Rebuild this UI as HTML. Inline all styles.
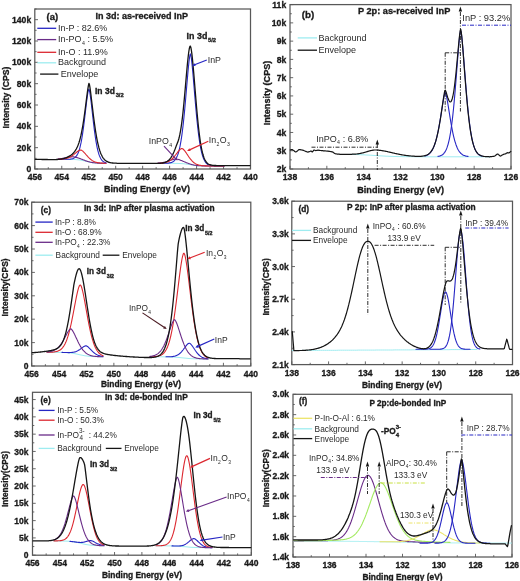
<!DOCTYPE html>
<html><head><meta charset="utf-8"><style>html,body{margin:0;padding:0;background:#fff;}svg{display:block;filter:blur(0.35px);}text{font-family:"Liberation Sans",sans-serif;}</style></head>
<body><svg width="520" height="581" viewBox="0 0 520 581" font-family='"Liberation Sans", sans-serif'><rect width="100%" height="100%" fill="#fff"/>
<rect x="34.80" y="9.00" width="215.70" height="160.00" fill="none" stroke="#585858" stroke-width="1.25"/>
<line x1="34.80" y1="169.00" x2="34.80" y2="165.80" stroke="#585858" stroke-width="0.9" />
<text x="34.80" y="180.30" font-size="8.6" font-weight="bold" text-anchor="middle" fill="#1a1a1a"  stroke="#1a1a1a" stroke-width="0.32">456</text>
<line x1="48.28" y1="169.00" x2="48.28" y2="167.20" stroke="#585858" stroke-width="0.9" />
<line x1="61.76" y1="169.00" x2="61.76" y2="165.80" stroke="#585858" stroke-width="0.9" />
<text x="61.76" y="180.30" font-size="8.6" font-weight="bold" text-anchor="middle" fill="#1a1a1a"  stroke="#1a1a1a" stroke-width="0.32">454</text>
<line x1="75.24" y1="169.00" x2="75.24" y2="167.20" stroke="#585858" stroke-width="0.9" />
<line x1="88.72" y1="169.00" x2="88.72" y2="165.80" stroke="#585858" stroke-width="0.9" />
<text x="88.72" y="180.30" font-size="8.6" font-weight="bold" text-anchor="middle" fill="#1a1a1a"  stroke="#1a1a1a" stroke-width="0.32">452</text>
<line x1="102.21" y1="169.00" x2="102.21" y2="167.20" stroke="#585858" stroke-width="0.9" />
<line x1="115.69" y1="169.00" x2="115.69" y2="165.80" stroke="#585858" stroke-width="0.9" />
<text x="115.69" y="180.30" font-size="8.6" font-weight="bold" text-anchor="middle" fill="#1a1a1a"  stroke="#1a1a1a" stroke-width="0.32">450</text>
<line x1="129.17" y1="169.00" x2="129.17" y2="167.20" stroke="#585858" stroke-width="0.9" />
<line x1="142.65" y1="169.00" x2="142.65" y2="165.80" stroke="#585858" stroke-width="0.9" />
<text x="142.65" y="180.30" font-size="8.6" font-weight="bold" text-anchor="middle" fill="#1a1a1a"  stroke="#1a1a1a" stroke-width="0.32">448</text>
<line x1="156.13" y1="169.00" x2="156.13" y2="167.20" stroke="#585858" stroke-width="0.9" />
<line x1="169.61" y1="169.00" x2="169.61" y2="165.80" stroke="#585858" stroke-width="0.9" />
<text x="169.61" y="180.30" font-size="8.6" font-weight="bold" text-anchor="middle" fill="#1a1a1a"  stroke="#1a1a1a" stroke-width="0.32">446</text>
<line x1="183.09" y1="169.00" x2="183.09" y2="167.20" stroke="#585858" stroke-width="0.9" />
<line x1="196.57" y1="169.00" x2="196.57" y2="165.80" stroke="#585858" stroke-width="0.9" />
<text x="196.57" y="180.30" font-size="8.6" font-weight="bold" text-anchor="middle" fill="#1a1a1a"  stroke="#1a1a1a" stroke-width="0.32">444</text>
<line x1="210.06" y1="169.00" x2="210.06" y2="167.20" stroke="#585858" stroke-width="0.9" />
<line x1="223.54" y1="169.00" x2="223.54" y2="165.80" stroke="#585858" stroke-width="0.9" />
<text x="223.54" y="180.30" font-size="8.6" font-weight="bold" text-anchor="middle" fill="#1a1a1a"  stroke="#1a1a1a" stroke-width="0.32">442</text>
<line x1="237.02" y1="169.00" x2="237.02" y2="167.20" stroke="#585858" stroke-width="0.9" />
<line x1="250.50" y1="169.00" x2="250.50" y2="165.80" stroke="#585858" stroke-width="0.9" />
<text x="250.50" y="180.30" font-size="8.6" font-weight="bold" text-anchor="middle" fill="#1a1a1a"  stroke="#1a1a1a" stroke-width="0.32">440</text>
<line x1="34.80" y1="169.00" x2="38.00" y2="169.00" stroke="#585858" stroke-width="0.9" />
<line x1="34.80" y1="158.33" x2="36.60" y2="158.33" stroke="#585858" stroke-width="0.9" />
<line x1="34.80" y1="147.67" x2="38.00" y2="147.67" stroke="#585858" stroke-width="0.9" />
<line x1="34.80" y1="137.00" x2="36.60" y2="137.00" stroke="#585858" stroke-width="0.9" />
<line x1="34.80" y1="126.33" x2="38.00" y2="126.33" stroke="#585858" stroke-width="0.9" />
<line x1="34.80" y1="115.67" x2="36.60" y2="115.67" stroke="#585858" stroke-width="0.9" />
<line x1="34.80" y1="105.00" x2="38.00" y2="105.00" stroke="#585858" stroke-width="0.9" />
<line x1="34.80" y1="94.33" x2="36.60" y2="94.33" stroke="#585858" stroke-width="0.9" />
<line x1="34.80" y1="83.67" x2="38.00" y2="83.67" stroke="#585858" stroke-width="0.9" />
<line x1="34.80" y1="73.00" x2="36.60" y2="73.00" stroke="#585858" stroke-width="0.9" />
<line x1="34.80" y1="62.33" x2="38.00" y2="62.33" stroke="#585858" stroke-width="0.9" />
<line x1="34.80" y1="51.67" x2="36.60" y2="51.67" stroke="#585858" stroke-width="0.9" />
<line x1="34.80" y1="41.00" x2="38.00" y2="41.00" stroke="#585858" stroke-width="0.9" />
<line x1="34.80" y1="30.33" x2="36.60" y2="30.33" stroke="#585858" stroke-width="0.9" />
<line x1="34.80" y1="19.67" x2="38.00" y2="19.67" stroke="#585858" stroke-width="0.9" />
<line x1="34.80" y1="9.00" x2="36.60" y2="9.00" stroke="#585858" stroke-width="0.9" />
<text x="31.20" y="172.10" font-size="8.6" font-weight="bold" text-anchor="end" fill="#1a1a1a"  stroke="#1a1a1a" stroke-width="0.32">0</text>
<text x="31.20" y="150.76" font-size="8.6" font-weight="bold" text-anchor="end" fill="#1a1a1a"  stroke="#1a1a1a" stroke-width="0.32">20k</text>
<text x="31.20" y="129.43" font-size="8.6" font-weight="bold" text-anchor="end" fill="#1a1a1a"  stroke="#1a1a1a" stroke-width="0.32">40k</text>
<text x="31.20" y="108.10" font-size="8.6" font-weight="bold" text-anchor="end" fill="#1a1a1a"  stroke="#1a1a1a" stroke-width="0.32">60k</text>
<text x="31.20" y="86.76" font-size="8.6" font-weight="bold" text-anchor="end" fill="#1a1a1a"  stroke="#1a1a1a" stroke-width="0.32">80k</text>
<text x="31.20" y="65.43" font-size="8.6" font-weight="bold" text-anchor="end" fill="#1a1a1a"  stroke="#1a1a1a" stroke-width="0.32">100k</text>
<text x="31.20" y="44.10" font-size="8.6" font-weight="bold" text-anchor="end" fill="#1a1a1a"  stroke="#1a1a1a" stroke-width="0.32">120k</text>
<text x="31.20" y="22.76" font-size="8.6" font-weight="bold" text-anchor="end" fill="#1a1a1a"  stroke="#1a1a1a" stroke-width="0.32">140k</text>
<polyline points="58.0,159.3 59.0,159.3 60.0,159.3 61.0,159.3 62.0,159.3 63.0,159.3 64.0,159.3 65.0,159.3 66.0,159.3 67.0,159.3 68.0,159.3 69.0,159.4 70.0,159.4 71.0,159.4 72.0,159.4 73.0,159.4 74.0,159.5 75.0,159.5 76.0,159.6 77.0,159.7 78.0,159.8 79.0,159.9 80.0,160.0 81.0,160.2 82.0,160.4 83.0,160.6 84.0,160.8 85.0,161.1 86.0,161.3 87.0,161.5 88.0,161.8 89.0,162.0 90.0,162.2 91.0,162.4 92.0,162.6 93.0,162.7 94.0,162.8 95.0,162.9 96.0,163.0 97.0,163.1 98.0,163.1 99.0,163.2 100.0,163.2 101.0,163.2 102.0,163.2 103.0,163.2 104.0,163.3 105.0,163.3 106.0,163.3" fill="none" stroke="#9eecf0" stroke-width="1.0" stroke-linejoin="round" stroke-linecap="round" /><polyline points="158.0,163.3 159.0,163.3 160.0,163.3 161.0,163.3 162.0,163.3 163.0,163.3 164.0,163.3 165.0,163.3 166.0,163.3 167.0,163.3 168.0,163.3 169.0,163.3 170.0,163.3 171.0,163.3 172.0,163.3 173.0,163.3 174.0,163.3 175.0,163.4 176.0,163.4 177.0,163.4 178.0,163.4 179.0,163.5 180.0,163.5 181.0,163.6 182.0,163.6 183.0,163.7 184.0,163.8 185.0,163.9 186.0,164.0 187.0,164.2 188.0,164.3 189.0,164.5 190.0,164.6 191.0,164.8 192.0,165.0 193.0,165.1 194.0,165.3 195.0,165.4 196.0,165.5 197.0,165.6 198.0,165.7 199.0,165.7 200.0,165.8 201.0,165.8 202.0,165.9 203.0,165.9 204.0,165.9 205.0,165.9 206.0,166.0 207.0,166.0 208.0,166.0 209.0,166.0 210.0,166.0 211.0,166.0 212.0,166.0 213.0,166.0 214.0,166.0 215.0,166.0 216.0,166.0 217.0,166.0 218.0,166.0 219.0,166.0 220.0,166.0 221.0,166.0 222.0,166.0 223.0,166.0 224.0,166.0" fill="none" stroke="#9eecf0" stroke-width="1.0" stroke-linejoin="round" stroke-linecap="round" />
<polyline points="58.0,159.3 58.5,159.3 59.0,159.3 59.5,159.3 60.0,159.3 60.5,159.3 61.0,159.3 61.5,159.3 62.0,159.3 62.5,159.3 63.0,159.3 63.5,159.3 64.0,159.3 64.5,159.3 65.0,159.3 65.5,159.3 66.0,159.3 66.5,159.3 67.0,159.3 67.5,159.3 68.0,159.3 68.5,159.2 69.0,159.2 69.5,159.2 70.0,159.2 70.5,159.1 71.0,159.0 71.5,159.0 72.0,158.9 72.5,158.7 73.0,158.6 73.5,158.4 74.0,158.1 74.5,157.8 75.0,157.5 75.5,157.0 76.0,156.5 76.5,155.9 77.0,155.1 77.5,154.3 78.0,153.2 78.5,152.0 79.0,150.7 79.5,149.1 80.0,147.3 80.5,145.2 81.0,142.9 81.5,140.3 82.0,137.5 82.5,134.4 83.0,131.0 83.5,127.4 84.0,123.5 84.5,119.4 85.0,115.2 85.5,111.0 86.0,106.7 86.5,102.5 87.0,98.6 87.5,95.0 88.0,92.0 88.5,89.8 89.0,89.1 89.5,90.8 90.0,93.6 90.5,97.1 91.0,101.0 91.5,105.3 92.0,109.7 92.5,114.2 93.0,118.6 93.5,123.0 94.0,127.1 94.5,131.1 95.0,134.8 95.5,138.2 96.0,141.3 96.5,144.2 97.0,146.8 97.5,149.1 98.0,151.1 98.5,152.9 99.0,154.5 99.5,155.9 100.0,157.1 100.5,158.1 101.0,159.0 101.5,159.7 102.0,160.4 102.5,160.9 103.0,161.3 103.5,161.7 104.0,162.0 104.5,162.3 105.0,162.5 105.5,162.6 106.0,162.8" fill="none" stroke="#2626c4" stroke-width="1.1" stroke-linejoin="round" stroke-linecap="round" /><polyline points="158.0,163.3 158.5,163.3 159.0,163.3 159.5,163.3 160.0,163.3 160.5,163.3 161.0,163.3 161.5,163.3 162.0,163.3 162.5,163.3 163.0,163.3 163.5,163.3 164.0,163.3 164.5,163.3 165.0,163.3 165.5,163.2 166.0,163.2 166.5,163.2 167.0,163.2 167.5,163.2 168.0,163.1 168.5,163.1 169.0,163.0 169.5,162.9 170.0,162.9 170.5,162.8 171.0,162.6 171.5,162.5 172.0,162.3 172.5,162.0 173.0,161.8 173.5,161.4 174.0,161.0 174.5,160.6 175.0,160.0 175.5,159.3 176.0,158.6 176.5,157.7 177.0,156.6 177.5,155.4 178.0,154.1 178.5,152.5 179.0,150.7 179.5,148.6 180.0,146.3 180.5,143.7 181.0,140.9 181.5,137.7 182.0,134.1 182.5,130.3 183.0,126.1 183.5,121.6 184.0,116.7 184.5,111.6 185.0,106.2 185.5,100.5 186.0,94.7 186.5,88.8 187.0,82.9 187.5,77.1 188.0,71.5 188.5,66.2 189.0,61.5 189.5,57.6 190.0,54.8 190.5,53.9 191.0,56.0 191.5,59.4 192.0,63.9 192.5,69.0 193.0,74.5 193.5,80.4 194.0,86.4 194.5,92.5 195.0,98.5 195.5,104.3 196.0,110.0 196.5,115.4 197.0,120.5 197.5,125.3 198.0,129.8 198.5,133.9 199.0,137.7 199.5,141.2 200.0,144.3 200.5,147.1 201.0,149.6 201.5,151.9 202.0,153.8 202.5,155.6 203.0,157.1 203.5,158.5 204.0,159.6 204.5,160.6 205.0,161.5 205.5,162.2 206.0,162.8 206.5,163.4 207.0,163.8 207.5,164.2 208.0,164.5 208.5,164.8 209.0,165.0 209.5,165.2 210.0,165.3 210.5,165.5 211.0,165.6 211.5,165.6 212.0,165.7 212.5,165.8 213.0,165.8 213.5,165.9 214.0,165.9 214.5,165.9 215.0,165.9 215.5,165.9 216.0,166.0 216.5,166.0 217.0,166.0 217.5,166.0 218.0,166.0 218.5,166.0 219.0,166.0 219.5,166.0 220.0,166.0 220.5,166.0 221.0,166.0 221.5,166.0 222.0,166.0 222.5,166.0 223.0,166.0 223.5,166.0 224.0,166.0" fill="none" stroke="#2626c4" stroke-width="1.1" stroke-linejoin="round" stroke-linecap="round" />
<polyline points="58.0,159.0 58.5,158.9 59.0,158.9 59.5,158.8 60.0,158.8 60.5,158.7 61.0,158.6 61.5,158.6 62.0,158.5 62.5,158.4 63.0,158.3 63.5,158.2 64.0,158.1 64.5,158.0 65.0,157.9 65.5,157.8 66.0,157.7 66.5,157.6 67.0,157.5 67.5,157.4 68.0,157.3 68.5,157.2 69.0,157.2 69.5,157.1 70.0,157.0 70.5,156.9 71.0,156.9 71.5,156.9 72.0,156.8 72.5,156.8 73.0,156.9 73.5,156.9 74.0,157.0 74.5,157.0 75.0,157.1 75.5,157.2 76.0,157.4 76.5,157.5 77.0,157.6 77.5,157.8 78.0,157.9 78.5,158.1 79.0,158.3 79.5,158.4 80.0,158.6 80.5,158.8 81.0,159.0 81.5,159.2 82.0,159.3 82.5,159.5 83.0,159.7 83.5,159.9 84.0,160.1 84.5,160.3 85.0,160.5 85.5,160.7 86.0,160.9 86.5,161.0 87.0,161.2 87.5,161.4 88.0,161.5 88.5,161.7 89.0,161.8 89.5,161.9 90.0,162.1 90.5,162.2 91.0,162.3 91.5,162.4 92.0,162.5 92.5,162.6 93.0,162.6 93.5,162.7 94.0,162.8 94.5,162.8 95.0,162.9 95.5,162.9 96.0,163.0 96.5,163.0 97.0,163.0 97.5,163.1 98.0,163.1 98.5,163.1 99.0,163.1 99.5,163.2 100.0,163.2 100.5,163.2 101.0,163.2 101.5,163.2 102.0,163.2 102.5,163.2 103.0,163.2 103.5,163.2 104.0,163.3 104.5,163.3 105.0,163.3 105.5,163.3 106.0,163.3" fill="none" stroke="#6a2c88" stroke-width="1.1" stroke-linejoin="round" stroke-linecap="round" /><polyline points="158.0,163.1 158.5,163.0 159.0,163.0 159.5,163.0 160.0,162.9 160.5,162.9 161.0,162.8 161.5,162.7 162.0,162.7 162.5,162.6 163.0,162.5 163.5,162.4 164.0,162.3 164.5,162.2 165.0,162.0 165.5,161.9 166.0,161.8 166.5,161.6 167.0,161.5 167.5,161.3 168.0,161.2 168.5,161.0 169.0,160.8 169.5,160.6 170.0,160.5 170.5,160.3 171.0,160.1 171.5,160.0 172.0,159.8 172.5,159.7 173.0,159.5 173.5,159.4 174.0,159.3 174.5,159.2 175.0,159.1 175.5,159.1 176.0,159.1 176.5,159.1 177.0,159.2 177.5,159.3 178.0,159.4 178.5,159.5 179.0,159.6 179.5,159.8 180.0,160.0 180.5,160.2 181.0,160.4 181.5,160.6 182.0,160.8 182.5,161.0 183.0,161.2 183.5,161.4 184.0,161.6 184.5,161.9 185.0,162.1 185.5,162.3 186.0,162.5 186.5,162.7 187.0,162.9 187.5,163.1 188.0,163.3 188.5,163.5 189.0,163.7 189.5,163.8 190.0,164.0 190.5,164.2 191.0,164.3 191.5,164.5 192.0,164.6 192.5,164.7 193.0,164.8 193.5,165.0 194.0,165.1 194.5,165.2 195.0,165.2 195.5,165.3 196.0,165.4 196.5,165.5 197.0,165.5 197.5,165.6 198.0,165.6 198.5,165.7 199.0,165.7 199.5,165.7 200.0,165.8 200.5,165.8 201.0,165.8 201.5,165.8 202.0,165.9 202.5,165.9 203.0,165.9 203.5,165.9 204.0,165.9 204.5,165.9 205.0,165.9 205.5,165.9 206.0,165.9 206.5,166.0 207.0,166.0 207.5,166.0 208.0,166.0 208.5,166.0 209.0,166.0 209.5,166.0 210.0,166.0 210.5,166.0 211.0,166.0 211.5,166.0 212.0,166.0 212.5,166.0 213.0,166.0 213.5,166.0 214.0,166.0 214.5,166.0 215.0,166.0 215.5,166.0 216.0,166.0 216.5,166.0 217.0,166.0 217.5,166.0 218.0,166.0 218.5,166.0 219.0,166.0 219.5,166.0 220.0,166.0 220.5,166.0 221.0,166.0 221.5,166.0 222.0,166.0 222.5,166.0 223.0,166.0 223.5,166.0 224.0,166.0" fill="none" stroke="#6a2c88" stroke-width="1.1" stroke-linejoin="round" stroke-linecap="round" />
<polyline points="58.0,159.2 58.5,159.2 59.0,159.2 59.5,159.2 60.0,159.2 60.5,159.2 61.0,159.1 61.5,159.1 62.0,159.1 62.5,159.0 63.0,159.0 63.5,158.9 64.0,158.9 64.5,158.8 65.0,158.7 65.5,158.6 66.0,158.5 66.5,158.4 67.0,158.2 67.5,158.1 68.0,157.9 68.5,157.7 69.0,157.5 69.5,157.3 70.0,157.1 70.5,156.8 71.0,156.5 71.5,156.2 72.0,155.9 72.5,155.5 73.0,155.1 73.5,154.8 74.0,154.4 74.5,153.9 75.0,153.5 75.5,153.1 76.0,152.7 76.5,152.3 77.0,151.9 77.5,151.5 78.0,151.1 78.5,150.8 79.0,150.5 79.5,150.3 80.0,150.1 80.5,150.1 81.0,150.1 81.5,150.3 82.0,150.6 82.5,150.9 83.0,151.3 83.5,151.8 84.0,152.3 84.5,152.9 85.0,153.4 85.5,154.0 86.0,154.6 86.5,155.1 87.0,155.7 87.5,156.3 88.0,156.8 88.5,157.4 89.0,157.9 89.5,158.3 90.0,158.8 90.5,159.2 91.0,159.6 91.5,160.0 92.0,160.4 92.5,160.7 93.0,161.0 93.5,161.2 94.0,161.5 94.5,161.7 95.0,161.9 95.5,162.1 96.0,162.2 96.5,162.4 97.0,162.5 97.5,162.6 98.0,162.7 98.5,162.8 99.0,162.8 99.5,162.9 100.0,163.0 100.5,163.0 101.0,163.1 101.5,163.1 102.0,163.1 102.5,163.1 103.0,163.2 103.5,163.2 104.0,163.2 104.5,163.2 105.0,163.2 105.5,163.2 106.0,163.3" fill="none" stroke="#dc2830" stroke-width="1.1" stroke-linejoin="round" stroke-linecap="round" /><polyline points="158.0,163.2 158.5,163.2 159.0,163.2 159.5,163.2 160.0,163.2 160.5,163.2 161.0,163.1 161.5,163.1 162.0,163.1 162.5,163.0 163.0,162.9 163.5,162.9 164.0,162.8 164.5,162.7 165.0,162.6 165.5,162.5 166.0,162.4 166.5,162.2 167.0,162.1 167.5,161.9 168.0,161.7 168.5,161.4 169.0,161.2 169.5,160.9 170.0,160.6 170.5,160.2 171.0,159.9 171.5,159.4 172.0,159.0 172.5,158.5 173.0,158.0 173.5,157.5 174.0,156.9 174.5,156.3 175.0,155.7 175.5,155.0 176.0,154.4 176.5,153.7 177.0,153.1 177.5,152.4 178.0,151.7 178.5,151.1 179.0,150.5 179.5,150.0 180.0,149.5 180.5,149.1 181.0,148.8 181.5,148.6 182.0,148.5 182.5,148.7 183.0,149.0 183.5,149.5 184.0,150.0 184.5,150.6 185.0,151.2 185.5,151.9 186.0,152.6 186.5,153.3 187.0,154.1 187.5,154.8 188.0,155.6 188.5,156.3 189.0,157.1 189.5,157.8 190.0,158.4 190.5,159.1 191.0,159.7 191.5,160.3 192.0,160.8 192.5,161.3 193.0,161.8 193.5,162.3 194.0,162.7 194.5,163.0 195.0,163.4 195.5,163.7 196.0,164.0 196.5,164.2 197.0,164.4 197.5,164.6 198.0,164.8 198.5,165.0 199.0,165.1 199.5,165.2 200.0,165.3 200.5,165.4 201.0,165.5 201.5,165.6 202.0,165.6 202.5,165.7 203.0,165.7 203.5,165.8 204.0,165.8 204.5,165.8 205.0,165.9 205.5,165.9 206.0,165.9 206.5,165.9 207.0,165.9 207.5,165.9 208.0,165.9 208.5,166.0 209.0,166.0 209.5,166.0 210.0,166.0 210.5,166.0 211.0,166.0 211.5,166.0 212.0,166.0 212.5,166.0 213.0,166.0 213.5,166.0 214.0,166.0 214.5,166.0 215.0,166.0 215.5,166.0 216.0,166.0 216.5,166.0 217.0,166.0 217.5,166.0 218.0,166.0 218.5,166.0 219.0,166.0 219.5,166.0 220.0,166.0 220.5,166.0 221.0,166.0 221.5,166.0 222.0,166.0 222.5,166.0 223.0,166.0 223.5,166.0 224.0,166.0" fill="none" stroke="#dc2830" stroke-width="1.1" stroke-linejoin="round" stroke-linecap="round" />
<polyline points="35.4,159.4 35.9,159.4 36.4,159.4 36.9,159.4 37.4,159.4 37.9,159.4 38.4,159.4 38.9,159.4 39.4,159.4 39.9,159.4 40.4,159.4 40.9,159.4 41.4,159.4 41.9,159.5 42.4,159.5 42.9,159.5 43.4,159.5 43.9,159.5 44.4,159.5 44.9,159.5 45.4,159.5 45.9,159.5 46.4,159.5 46.9,159.5 47.4,159.5 47.9,159.6 48.4,159.6 48.9,159.6 49.4,159.6 49.9,159.6 50.4,159.6 50.9,159.6 51.4,159.6 51.9,159.6 52.4,159.6 52.9,159.6 53.4,159.6 53.9,159.6 54.4,159.6 54.9,159.6 55.4,159.6 55.9,159.6 56.4,159.5 56.9,159.5 57.4,159.5 57.9,159.4 58.4,159.4 58.9,159.4 59.4,159.3 59.9,159.2 60.4,159.2 60.9,159.1 61.4,159.0 61.9,158.9 62.4,158.8 62.9,158.7 63.4,158.6 63.9,158.4 64.4,158.3 64.9,158.1 65.4,158.0 65.9,157.8 66.4,157.6 66.9,157.4 67.4,157.2 67.9,156.9 68.4,156.7 68.9,156.4 69.4,156.1 69.9,155.8 70.4,155.5 70.9,155.2 71.4,154.8 71.9,154.4 72.4,154.0 72.9,153.5 73.4,153.0 73.9,152.4 74.4,151.8 74.9,151.2 75.4,150.4 75.9,149.7 76.4,148.8 76.9,147.8 77.4,146.8 77.9,145.6 78.4,144.3 78.9,142.9 79.4,141.3 79.9,139.5 80.4,137.6 80.9,135.5 81.4,133.1 81.9,130.6 82.4,127.9 82.9,125.0 83.4,121.8 83.9,118.5 84.4,115.0 84.9,111.3 85.4,107.5 85.9,103.6 86.4,99.7 86.9,95.8 87.4,92.1 87.9,88.6 88.4,85.6 88.9,83.4 89.4,84.3 89.9,87.2 90.4,90.7 90.9,94.7 91.4,98.8 91.9,103.0 92.4,107.2 92.9,111.4 93.4,115.5 93.9,119.4 94.4,123.2 94.9,126.7 95.4,130.1 95.9,133.2 96.4,136.1 96.9,138.8 97.4,141.3 97.9,143.6 98.4,145.7 98.9,147.7 99.4,149.4 99.9,151.0 100.4,152.4 100.9,153.7 101.4,154.8 101.9,155.8 102.4,156.8 102.9,157.6 103.4,158.3 103.9,158.9 104.4,159.5 104.9,160.0 105.4,160.4 105.9,160.8 106.4,161.1 106.9,161.4 107.4,161.7 107.9,161.9 108.4,162.1 108.9,162.3 109.4,162.4 109.9,162.6 110.4,162.7 110.9,162.8 111.4,162.8 111.9,162.9 112.4,163.0 112.9,163.0 113.4,163.1 113.9,163.1 114.4,163.1 114.9,163.2 115.4,163.2 115.9,163.2 116.4,163.2 116.9,163.3 117.4,163.3 117.9,163.3 118.4,163.3 118.9,163.3 119.4,163.3 119.9,163.3 120.4,163.3 120.9,163.3 121.4,163.3 121.9,163.3 122.4,163.3 122.9,163.4 123.4,163.4 123.9,163.4 124.4,163.4 124.9,163.4 125.4,163.4 125.9,163.4 126.4,163.4 126.9,163.4 127.4,163.4 127.9,163.4 128.4,163.4 128.9,163.4 129.4,163.4 129.9,163.4 130.4,163.4 130.9,163.4 131.4,163.4 131.9,163.4 132.4,163.4 132.9,163.4 133.4,163.4 133.9,163.4 134.4,163.4 134.9,163.4 135.4,163.4 135.9,163.4 136.4,163.4 136.9,163.4 137.4,163.4 137.9,163.4 138.4,163.4 138.9,163.4 139.4,163.4 139.9,163.4 140.4,163.4 140.9,163.4 141.4,163.4 141.9,163.4 142.4,163.4 142.9,163.4 143.4,163.4 143.9,163.4 144.4,163.4 144.9,163.4 145.4,163.4 145.9,163.4 146.4,163.4 146.9,163.4 147.4,163.4 147.9,163.4 148.4,163.4 148.9,163.4 149.4,163.4 149.9,163.4 150.4,163.4 150.9,163.4 151.4,163.4 151.9,163.4 152.4,163.4 152.9,163.4 153.4,163.4 153.9,163.4 154.4,163.4 154.9,163.4 155.4,163.4 155.9,163.4 156.4,163.4 156.9,163.4 157.4,163.4 157.9,163.4 158.4,163.4 158.9,163.3 159.4,163.3 159.9,163.3 160.4,163.3 160.9,163.2 161.4,163.2 161.9,163.1 162.4,163.0 162.9,163.0 163.4,162.9 163.9,162.7 164.4,162.6 164.9,162.5 165.4,162.3 165.9,162.1 166.4,161.8 166.9,161.5 167.4,161.2 167.9,160.8 168.4,160.4 168.9,160.0 169.4,159.5 169.9,158.9 170.4,158.3 170.9,157.6 171.4,156.8 171.9,156.0 172.4,155.1 172.9,154.1 173.4,153.1 173.9,152.0 174.4,150.8 174.9,149.6 175.4,148.3 175.9,146.9 176.4,145.5 176.9,144.3 177.4,143.1 177.9,141.7 178.4,140.2 178.9,138.5 179.4,136.5 179.9,134.2 180.4,131.6 180.9,128.7 181.4,125.4 181.9,121.7 182.4,117.6 182.9,113.2 183.4,108.4 183.9,103.3 184.4,97.9 184.9,92.3 185.4,86.6 185.9,80.8 186.4,75.1 186.9,69.5 187.4,64.1 187.9,59.2 188.4,54.8 188.9,51.0 189.4,48.1 189.9,46.3 190.4,46.1 190.9,47.7 191.4,50.5 191.9,54.2 192.4,58.6 192.9,63.7 193.4,69.2 193.9,75.0 194.4,81.1 194.9,87.2 195.4,93.3 195.9,99.4 196.4,105.3 196.9,111.0 197.4,116.4 197.9,121.5 198.4,126.3 198.9,130.8 199.4,134.9 199.9,138.6 200.4,142.0 200.9,145.1 201.4,147.8 201.9,150.3 202.4,152.4 202.9,154.3 203.4,156.0 203.9,157.5 204.4,158.7 204.9,159.8 205.4,160.7 205.9,161.5 206.4,162.2 206.9,162.8 207.4,163.3 207.9,163.7 208.4,164.0 208.9,164.3 209.4,164.5 209.9,164.7 210.4,164.9 210.9,165.0 211.4,165.1 211.9,165.2 212.4,165.3 212.9,165.4 213.4,165.4 213.9,165.4 214.4,165.5 214.9,165.5 215.4,165.5 215.9,165.5 216.4,165.6 216.9,165.6 217.4,165.6 217.9,165.6 218.4,165.6 218.9,165.6 219.4,165.6 219.9,165.6 220.4,165.6 220.9,165.6 221.4,165.6 221.9,165.6 222.4,165.6 222.9,165.6 223.4,165.6 223.9,165.6 224.4,165.6 224.9,165.6 225.4,165.6 225.9,165.6 226.4,165.6 226.9,165.6 227.4,165.6 227.9,165.6 228.4,165.6 228.9,165.6 229.4,165.6 229.9,165.6 230.4,165.6 230.9,165.6 231.4,165.6 231.9,165.6 232.4,165.6 232.9,165.6 233.4,165.6 233.9,165.6 234.4,165.6 234.9,165.6 235.4,165.6 235.9,165.6 236.4,165.6 236.9,165.6 237.4,165.6 237.9,165.6 238.4,165.6 238.9,165.6 239.4,165.6 239.9,165.6 240.4,165.6 240.9,165.6 241.4,165.6 241.9,165.6 242.4,165.6 242.9,165.6 243.4,165.6 243.9,165.6 244.4,165.6 244.9,165.6 245.4,165.6 245.9,165.6 246.4,165.6 246.9,165.6 247.4,165.6 247.9,165.6 248.4,165.6 248.9,165.6 249.4,165.6 249.9,165.6" fill="none" stroke="#151515" stroke-width="1.3" stroke-linejoin="round" stroke-linecap="round" />
<text x="0" y="0" font-size="8.7" font-weight="bold" text-anchor="middle" fill="#1a1a1a" stroke="#1a1a1a" stroke-width="0.32" transform="translate(9.00,97.50) rotate(-90)">Intensity (CPS)</text>
<text x="147.00" y="192.20" font-size="9" font-weight="bold" text-anchor="middle" fill="#1a1a1a"  stroke="#1a1a1a" stroke-width="0.32">Binding Energy (eV)</text>
<text x="46.60" y="20.40" font-size="9.5" font-weight="bold" text-anchor="start" fill="#1a1a1a"  stroke="#1a1a1a" stroke-width="0.32">(a)</text>
<text x="95.50" y="18.50" font-size="9" font-weight="bold" text-anchor="start" fill="#1a1a1a"  stroke="#1a1a1a" stroke-width="0.32">In 3d: as-received InP</text>
<line x1="37.30" y1="28.30" x2="56.20" y2="28.30" stroke="#2626c4" stroke-width="1.3" />
<text x="58.00" y="30.90" font-size="9" font-weight="normal" text-anchor="start" fill="#2a2a2a" >In-P : 82.6%</text>
<line x1="37.30" y1="39.60" x2="56.20" y2="39.60" stroke="#6a2c88" stroke-width="1.3" />
<text x="58.00" y="42.20" font-size="9" font-weight="normal" text-anchor="start" fill="#2a2a2a" >In-PO<tspan font-size="58%" dx="0.4" dy="2.6">4</tspan><tspan dx="0.3" dy="-2.6"> : 5.5%</tspan></text>
<line x1="37.30" y1="52.30" x2="56.20" y2="52.30" stroke="#dc2830" stroke-width="1.3" />
<text x="58.00" y="54.90" font-size="9" font-weight="normal" text-anchor="start" fill="#2a2a2a" >In-O : 11.9%</text>
<line x1="37.30" y1="62.80" x2="56.20" y2="62.80" stroke="#9eecf0" stroke-width="1.3" />
<text x="58.00" y="65.40" font-size="9" font-weight="normal" text-anchor="start" fill="#2a2a2a" >Background</text>
<line x1="40.10" y1="74.10" x2="58.40" y2="74.10" stroke="#151515" stroke-width="1.3" />
<text x="60.80" y="76.80" font-size="9" font-weight="normal" text-anchor="start" fill="#2a2a2a" >Envelope</text>
<text x="95.00" y="93.80" font-size="8.5" font-weight="bold" text-anchor="start" fill="#1a1a1a"  stroke="#1a1a1a" stroke-width="0.32">In 3d<tspan font-size="5.8" dx="0.8" dy="2.8">3/2</tspan></text>
<text x="186.60" y="38.80" font-size="8.9" font-weight="bold" text-anchor="start" fill="#1a1a1a"  stroke="#1a1a1a" stroke-width="0.32">In 3d<tspan font-size="5.8" dx="0.7" dy="2.9">5/2</tspan></text>
<text x="207.70" y="62.50" font-size="8.8" font-weight="normal" text-anchor="start" fill="#2a2a2a" >InP</text>
<line x1="206.80" y1="60.00" x2="194.61" y2="64.81" stroke="#2626c4" stroke-width="1.2" /><polygon points="192.10,65.80 194.49,63.14 195.66,66.11" fill="#2626c4"/>
<text x="148.70" y="144.00" font-size="8.8" font-weight="normal" text-anchor="start" fill="#2a2a2a" >InPO<tspan font-size="58%" dx="0.4" dy="2.6">4</tspan></text>
<line x1="164.00" y1="146.20" x2="175.65" y2="158.63" stroke="#6a2c88" stroke-width="1.1" /><polygon points="177.50,160.60 174.14,159.36 176.48,157.17" fill="#6a2c88"/>
<text x="208.70" y="143.20" font-size="8.8" font-weight="normal" text-anchor="start" fill="#2a2a2a" >In<tspan font-size="58%" dx="0.4" dy="2.6">2</tspan><tspan dx="0.4" dy="-2.6">O</tspan><tspan font-size="58%" dx="0.4" dy="2.6">3</tspan></text>
<line x1="208.30" y1="141.30" x2="189.56" y2="149.88" stroke="#dc2830" stroke-width="1.2" /><polygon points="187.10,151.00 189.34,148.21 190.68,151.12" fill="#dc2830"/>
<rect x="290.00" y="4.60" width="221.00" height="164.40" fill="none" stroke="#585858" stroke-width="1.25"/>
<line x1="290.00" y1="169.00" x2="290.00" y2="165.80" stroke="#585858" stroke-width="0.9" />
<text x="290.00" y="180.30" font-size="8.6" font-weight="bold" text-anchor="middle" fill="#1a1a1a"  stroke="#1a1a1a" stroke-width="0.32">138</text>
<line x1="308.42" y1="169.00" x2="308.42" y2="167.20" stroke="#585858" stroke-width="0.9" />
<line x1="326.83" y1="169.00" x2="326.83" y2="165.80" stroke="#585858" stroke-width="0.9" />
<text x="326.83" y="180.30" font-size="8.6" font-weight="bold" text-anchor="middle" fill="#1a1a1a"  stroke="#1a1a1a" stroke-width="0.32">136</text>
<line x1="345.25" y1="169.00" x2="345.25" y2="167.20" stroke="#585858" stroke-width="0.9" />
<line x1="363.67" y1="169.00" x2="363.67" y2="165.80" stroke="#585858" stroke-width="0.9" />
<text x="363.67" y="180.30" font-size="8.6" font-weight="bold" text-anchor="middle" fill="#1a1a1a"  stroke="#1a1a1a" stroke-width="0.32">134</text>
<line x1="382.08" y1="169.00" x2="382.08" y2="167.20" stroke="#585858" stroke-width="0.9" />
<line x1="400.50" y1="169.00" x2="400.50" y2="165.80" stroke="#585858" stroke-width="0.9" />
<text x="400.50" y="180.30" font-size="8.6" font-weight="bold" text-anchor="middle" fill="#1a1a1a"  stroke="#1a1a1a" stroke-width="0.32">132</text>
<line x1="418.92" y1="169.00" x2="418.92" y2="167.20" stroke="#585858" stroke-width="0.9" />
<line x1="437.33" y1="169.00" x2="437.33" y2="165.80" stroke="#585858" stroke-width="0.9" />
<text x="437.33" y="180.30" font-size="8.6" font-weight="bold" text-anchor="middle" fill="#1a1a1a"  stroke="#1a1a1a" stroke-width="0.32">130</text>
<line x1="455.75" y1="169.00" x2="455.75" y2="167.20" stroke="#585858" stroke-width="0.9" />
<line x1="474.17" y1="169.00" x2="474.17" y2="165.80" stroke="#585858" stroke-width="0.9" />
<text x="474.17" y="180.30" font-size="8.6" font-weight="bold" text-anchor="middle" fill="#1a1a1a"  stroke="#1a1a1a" stroke-width="0.32">128</text>
<line x1="492.58" y1="169.00" x2="492.58" y2="167.20" stroke="#585858" stroke-width="0.9" />
<line x1="511.00" y1="169.00" x2="511.00" y2="165.80" stroke="#585858" stroke-width="0.9" />
<text x="511.00" y="180.30" font-size="8.6" font-weight="bold" text-anchor="middle" fill="#1a1a1a"  stroke="#1a1a1a" stroke-width="0.32">126</text>
<line x1="290.00" y1="169.00" x2="293.20" y2="169.00" stroke="#585858" stroke-width="0.9" />
<line x1="290.00" y1="159.87" x2="291.80" y2="159.87" stroke="#585858" stroke-width="0.9" />
<line x1="290.00" y1="150.73" x2="293.20" y2="150.73" stroke="#585858" stroke-width="0.9" />
<line x1="290.00" y1="141.60" x2="291.80" y2="141.60" stroke="#585858" stroke-width="0.9" />
<line x1="290.00" y1="132.47" x2="293.20" y2="132.47" stroke="#585858" stroke-width="0.9" />
<line x1="290.00" y1="123.33" x2="291.80" y2="123.33" stroke="#585858" stroke-width="0.9" />
<line x1="290.00" y1="114.20" x2="293.20" y2="114.20" stroke="#585858" stroke-width="0.9" />
<line x1="290.00" y1="105.07" x2="291.80" y2="105.07" stroke="#585858" stroke-width="0.9" />
<line x1="290.00" y1="95.93" x2="293.20" y2="95.93" stroke="#585858" stroke-width="0.9" />
<line x1="290.00" y1="86.80" x2="291.80" y2="86.80" stroke="#585858" stroke-width="0.9" />
<line x1="290.00" y1="77.67" x2="293.20" y2="77.67" stroke="#585858" stroke-width="0.9" />
<line x1="290.00" y1="68.53" x2="291.80" y2="68.53" stroke="#585858" stroke-width="0.9" />
<line x1="290.00" y1="59.40" x2="293.20" y2="59.40" stroke="#585858" stroke-width="0.9" />
<line x1="290.00" y1="50.27" x2="291.80" y2="50.27" stroke="#585858" stroke-width="0.9" />
<line x1="290.00" y1="41.13" x2="293.20" y2="41.13" stroke="#585858" stroke-width="0.9" />
<line x1="290.00" y1="32.00" x2="291.80" y2="32.00" stroke="#585858" stroke-width="0.9" />
<line x1="290.00" y1="22.87" x2="293.20" y2="22.87" stroke="#585858" stroke-width="0.9" />
<line x1="290.00" y1="13.73" x2="291.80" y2="13.73" stroke="#585858" stroke-width="0.9" />
<line x1="290.00" y1="4.60" x2="293.20" y2="4.60" stroke="#585858" stroke-width="0.9" />
<text x="286.20" y="172.10" font-size="8.6" font-weight="bold" text-anchor="end" fill="#1a1a1a"  stroke="#1a1a1a" stroke-width="0.32">2k</text>
<text x="286.20" y="153.83" font-size="8.6" font-weight="bold" text-anchor="end" fill="#1a1a1a"  stroke="#1a1a1a" stroke-width="0.32">3k</text>
<text x="286.20" y="135.56" font-size="8.6" font-weight="bold" text-anchor="end" fill="#1a1a1a"  stroke="#1a1a1a" stroke-width="0.32">4k</text>
<text x="286.20" y="117.30" font-size="8.6" font-weight="bold" text-anchor="end" fill="#1a1a1a"  stroke="#1a1a1a" stroke-width="0.32">5k</text>
<text x="286.20" y="99.03" font-size="8.6" font-weight="bold" text-anchor="end" fill="#1a1a1a"  stroke="#1a1a1a" stroke-width="0.32">6k</text>
<text x="286.20" y="80.76" font-size="8.6" font-weight="bold" text-anchor="end" fill="#1a1a1a"  stroke="#1a1a1a" stroke-width="0.32">7k</text>
<text x="286.20" y="62.50" font-size="8.6" font-weight="bold" text-anchor="end" fill="#1a1a1a"  stroke="#1a1a1a" stroke-width="0.32">8k</text>
<text x="286.20" y="44.23" font-size="8.6" font-weight="bold" text-anchor="end" fill="#1a1a1a"  stroke="#1a1a1a" stroke-width="0.32">9k</text>
<text x="286.20" y="25.96" font-size="8.6" font-weight="bold" text-anchor="end" fill="#1a1a1a"  stroke="#1a1a1a" stroke-width="0.32">10k</text>
<text x="286.20" y="7.70" font-size="8.6" font-weight="bold" text-anchor="end" fill="#1a1a1a"  stroke="#1a1a1a" stroke-width="0.32">11k</text>
<polyline points="350.0,154.4 351.0,154.4 352.0,154.4 353.0,154.5 354.0,154.5 355.0,154.5 356.0,154.5 357.0,154.6 358.0,154.6 359.0,154.6 360.0,154.7 361.0,154.7 362.0,154.8 363.0,154.8 364.0,154.8 365.0,154.9 366.0,155.0 367.0,155.0 368.0,155.1 369.0,155.1 370.0,155.2 371.0,155.2 372.0,155.3 373.0,155.4 374.0,155.4 375.0,155.5 376.0,155.6 377.0,155.6 378.0,155.7 379.0,155.8 380.0,155.8 381.0,155.9 382.0,155.9 383.0,156.0 384.0,156.0 385.0,156.1 386.0,156.2 387.0,156.2 388.0,156.2 389.0,156.3 390.0,156.3 391.0,156.4 392.0,156.4 393.0,156.4 394.0,156.5 395.0,156.5 396.0,156.5 397.0,156.5 398.0,156.6 399.0,156.6 400.0,156.6 401.0,156.6 402.0,156.6 403.0,156.7 404.0,156.7 405.0,156.7 406.0,156.7 407.0,156.7 408.0,156.7 409.0,156.7 410.0,156.7 411.0,156.7 412.0,156.7 413.0,156.7 414.0,156.7 415.0,156.8 416.0,156.8 417.0,156.8 418.0,156.8 419.0,156.8 420.0,156.8 421.0,156.8 422.0,156.8 423.0,156.8 424.0,156.8 425.0,156.8 426.0,156.8 427.0,156.8 428.0,156.8 429.0,156.8 430.0,156.8 431.0,156.8 432.0,156.8 433.0,156.8 434.0,156.8 435.0,156.8 436.0,156.8 437.0,156.8 438.0,156.8 439.0,156.8 440.0,156.8 441.0,156.8 442.0,156.8 443.0,156.8 444.0,156.8 445.0,156.8 446.0,156.8 447.0,156.8 448.0,156.8 449.0,156.8 450.0,156.8 451.0,156.8 452.0,156.8 453.0,156.8 454.0,156.8 455.0,156.8 456.0,156.8 457.0,156.8 458.0,156.8 459.0,156.8 460.0,156.8 461.0,156.8 462.0,156.8 463.0,156.8 464.0,156.8 465.0,156.8 466.0,156.8 467.0,156.8 468.0,156.8 469.0,156.8 470.0,156.8 471.0,156.8 472.0,156.8 473.0,156.8 474.0,156.8 475.0,156.8 476.0,156.8 477.0,156.8 478.0,156.8 479.0,156.8 480.0,156.8 481.0,156.8 482.0,156.8 483.0,156.8 484.0,156.8 485.0,156.8 486.0,156.8 487.0,156.8 488.0,156.8 489.0,156.8 490.0,156.8" fill="none" stroke="#9eecf0" stroke-width="1.0" stroke-linejoin="round" stroke-linecap="round" />
<polyline points="425.0,156.0 425.5,155.8 426.0,155.7 426.5,155.5 427.0,155.3 427.5,155.0 428.0,154.7 428.5,154.4 429.0,154.0 429.5,153.6 430.0,153.1 430.5,152.5 431.0,151.9 431.5,151.2 432.0,150.4 432.5,149.6 433.0,148.6 433.5,147.5 434.0,146.3 434.5,145.0 435.0,143.5 435.5,141.9 436.0,140.2 436.5,138.3 437.0,136.2 437.5,134.0 438.0,131.7 438.5,129.1 439.0,126.5 439.5,123.7 440.0,120.8 440.5,117.8 441.0,114.7 441.5,111.5 442.0,108.4 442.5,105.2 443.0,102.2 443.5,99.3 444.0,96.7 444.5,94.5 445.0,92.8 445.5,92.6 446.0,94.1 446.5,96.2 447.0,98.8 447.5,101.6 448.0,104.6 448.5,107.7 449.0,110.9 449.5,114.0 450.0,117.2 450.5,120.2 451.0,123.1 451.5,125.9 452.0,128.6 452.5,131.2 453.0,133.6 453.5,135.8 454.0,137.9 454.5,139.8 455.0,141.6 455.5,143.2 456.0,144.7 456.5,146.0 457.0,147.3 457.5,148.4 458.0,149.4 458.5,150.3 459.0,151.1 459.5,151.8 460.0,152.4 460.5,153.0 461.0,153.5 461.5,153.9 462.0,154.3 462.5,154.7 463.0,155.0 463.5,155.2 464.0,155.4 464.5,155.6 465.0,155.8 465.5,156.0 466.0,156.1 466.5,156.2 467.0,156.3 467.5,156.4 468.0,156.4" fill="none" stroke="#2626c4" stroke-width="1.1" stroke-linejoin="round" stroke-linecap="round" />
<polyline points="438.0,156.4 438.5,156.3 439.0,156.2 439.5,156.1 440.0,155.9 440.5,155.8 441.0,155.5 441.5,155.3 442.0,155.0 442.5,154.7 443.0,154.3 443.5,153.8 444.0,153.2 444.5,152.6 445.0,151.9 445.5,151.0 446.0,150.0 446.5,148.9 447.0,147.7 447.5,146.2 448.0,144.6 448.5,142.7 449.0,140.6 449.5,138.3 450.0,135.7 450.5,132.8 451.0,129.6 451.5,126.1 452.0,122.3 452.5,118.1 453.0,113.6 453.5,108.8 454.0,103.6 454.5,98.1 455.0,92.4 455.5,86.3 456.0,80.1 456.5,73.7 457.0,67.2 457.5,60.8 458.0,54.5 458.5,48.4 459.0,42.7 459.5,37.7 460.0,33.6 460.5,30.8 461.0,31.2 461.5,34.3 462.0,38.6 462.5,43.8 463.0,49.6 463.5,55.7 464.0,62.1 464.5,68.5 465.0,75.0 465.5,81.4 466.0,87.6 466.5,93.6 467.0,99.3 467.5,104.7 468.0,109.8 468.5,114.6 469.0,119.0 469.5,123.1 470.0,126.9 470.5,130.3 471.0,133.4 471.5,136.2 472.0,138.8 472.5,141.1 473.0,143.1 473.5,144.9 474.0,146.5 474.5,147.9 475.0,149.2 475.5,150.3 476.0,151.2 476.5,152.0 477.0,152.7 477.5,153.4 478.0,153.9 478.5,154.3 479.0,154.7 479.5,155.1 480.0,155.3 480.5,155.6 481.0,155.8 481.5,156.0 482.0,156.1" fill="none" stroke="#2626c4" stroke-width="1.1" stroke-linejoin="round" stroke-linecap="round" />
<polyline points="290.3,150.0 290.8,149.8 291.3,149.6 291.8,149.5 292.3,149.6 292.8,149.9 293.3,150.3 293.8,150.6 294.3,151.0 294.8,151.5 295.3,151.9 295.8,151.9 296.3,151.7 296.8,151.4 297.3,151.1 297.8,150.6 298.3,150.1 298.8,149.6 299.3,149.5 299.8,149.6 300.3,149.7 300.8,149.8 301.3,149.9 301.8,150.0 302.3,150.1 302.8,150.2 303.3,150.3 303.8,150.5 304.3,150.8 304.8,151.0 305.3,151.2 305.8,151.4 306.3,151.6 306.8,151.8 307.3,152.0 307.8,152.1 308.3,151.9 308.8,151.8 309.3,151.7 309.8,151.5 310.3,151.3 310.8,151.0 311.3,151.1 311.8,151.7 312.3,152.0 312.8,151.4 313.3,150.8 313.8,150.2 314.3,150.1 314.8,150.3 315.3,150.5 315.8,150.6 316.3,150.5 316.8,150.4 317.3,150.3 317.8,150.2 318.3,150.2 318.8,150.3 319.3,150.3 319.8,150.4 320.3,150.5 320.8,150.5 321.3,150.6 321.8,150.6 322.3,150.7 322.8,150.7 323.3,150.8 323.8,150.8 324.3,150.8 324.8,150.9 325.3,150.9 325.8,151.0 326.3,151.0 326.8,151.1 327.3,151.1 327.8,151.1 328.3,151.2 328.8,151.3 329.3,151.4 329.8,151.4 330.3,151.5 330.8,151.6 331.3,151.7 331.8,151.8 332.3,151.9 332.8,152.1 333.3,152.3 333.8,152.8 334.3,153.2 334.8,153.5 335.3,153.7 335.8,153.8 336.3,153.9 336.8,154.0 337.3,154.1 337.8,154.1 338.3,154.2 338.8,154.2 339.3,154.2 339.8,154.3 340.3,154.3 340.8,154.3 341.3,154.3 341.8,154.3 342.3,154.3 342.8,154.3 343.3,154.3 343.8,154.3 344.3,154.3 344.8,154.3 345.3,154.3 345.8,154.3 346.3,154.3 346.8,154.3 347.3,154.3 347.8,154.3 348.3,154.3 348.8,154.3 349.3,154.3 349.8,154.3 350.3,154.3 350.8,154.3 351.3,154.3 351.8,154.3 352.3,154.2 352.8,154.2 353.3,154.2 353.8,154.2 354.3,154.2 354.8,154.1 355.3,154.1 355.8,154.1 356.3,154.0 356.8,154.0 357.3,153.9 357.8,153.8 358.3,153.8 358.8,153.7 359.3,153.6 359.8,153.5 360.3,153.4 360.8,153.3 361.3,153.2 361.8,153.1 362.3,153.0 362.8,152.9 363.3,152.8 363.8,152.6 364.3,152.5 364.8,152.3 365.3,152.2 365.8,152.0 366.3,151.9 366.8,151.7 367.3,151.6 367.8,151.4 368.3,151.3 368.8,151.1 369.3,151.0 369.8,150.8 370.3,150.7 370.8,150.6 371.3,150.5 371.8,150.4 372.3,150.3 372.8,150.2 373.3,150.1 373.8,150.1 374.3,150.0 374.8,150.0 375.3,150.0 375.8,150.0 376.3,150.0 376.8,150.0 377.3,150.1 377.8,150.1 378.3,150.1 378.8,150.2 379.3,150.3 379.8,150.3 380.3,150.4 380.8,150.4 381.3,150.5 381.8,150.6 382.3,150.7 382.8,150.8 383.3,150.8 383.8,150.9 384.3,151.0 384.8,151.1 385.3,151.2 385.8,151.3 386.3,151.4 386.8,151.5 387.3,151.6 387.8,151.7 388.3,151.9 388.8,152.0 389.3,152.1 389.8,152.2 390.3,152.3 390.8,152.4 391.3,152.5 391.8,152.7 392.3,152.8 392.8,152.9 393.3,153.0 393.8,153.1 394.3,153.2 394.8,153.4 395.3,153.5 395.8,153.6 396.3,153.7 396.8,153.8 397.3,153.9 397.8,154.0 398.3,154.1 398.8,154.2 399.3,154.3 399.8,154.4 400.3,154.5 400.8,154.6 401.3,154.7 401.8,154.8 402.3,154.9 402.8,155.0 403.3,155.0 403.8,155.1 404.3,155.2 404.8,155.3 405.3,155.3 405.8,155.4 406.3,155.5 406.8,155.6 407.3,155.6 407.8,155.7 408.3,155.7 408.8,155.8 409.3,155.8 409.8,155.9 410.3,155.9 410.8,156.0 411.3,156.0 411.8,156.1 412.3,156.1 412.8,156.2 413.3,156.2 413.8,156.2 414.3,156.2 414.8,156.3 415.3,156.3 415.8,156.3 416.3,156.3 416.8,156.3 417.3,156.4 417.8,156.4 418.3,156.4 418.8,156.4 419.3,156.4 419.8,156.3 420.3,156.3 420.8,156.3 421.3,156.3 421.8,156.2 422.3,156.2 422.8,156.1 423.3,156.0 423.8,155.9 424.3,155.8 424.8,155.7 425.3,155.6 425.8,155.4 426.3,155.2 426.8,155.0 427.3,154.8 427.8,154.5 428.3,154.2 428.8,153.8 429.3,153.4 429.8,152.9 430.3,152.4 430.8,151.8 431.3,151.2 431.8,150.4 432.3,149.6 432.8,148.7 433.3,147.7 433.8,146.6 434.3,145.4 434.8,144.0 435.3,142.6 435.8,141.0 436.3,139.2 436.8,137.3 437.3,135.2 437.8,133.0 438.3,130.6 438.8,128.1 439.3,125.4 439.8,122.5 440.3,119.5 440.8,116.3 441.3,113.1 441.8,109.7 442.3,106.3 442.8,102.8 443.3,99.4 443.8,96.2 444.3,93.1 444.8,90.6 445.3,90.2 445.8,91.3 446.3,92.8 446.8,94.4 447.3,96.1 447.8,97.7 448.3,99.1 448.8,100.3 449.3,101.2 449.8,101.8 450.3,102.0 450.8,101.8 451.3,101.2 451.8,100.1 452.3,98.5 452.8,96.5 453.3,94.0 453.8,91.0 454.3,87.6 454.8,83.7 455.3,79.4 455.8,74.7 456.3,69.7 456.8,64.4 457.3,59.0 457.8,53.4 458.3,48.0 458.8,42.7 459.3,37.8 459.8,33.5 460.3,30.3 460.8,29.4 461.3,32.5 461.8,37.1 462.3,42.5 462.8,48.5 463.3,54.9 463.8,61.5 464.3,68.1 464.8,74.6 465.3,81.1 465.8,87.3 466.3,93.3 466.8,99.0 467.3,104.4 467.8,109.5 468.3,114.2 468.8,118.6 469.3,122.7 469.8,126.4 470.3,129.8 470.8,132.9 471.3,135.7 471.8,138.3 472.3,140.5 472.8,142.6 473.3,144.4 473.8,146.0 474.3,147.4 474.8,148.7 475.3,149.8 475.8,150.8 476.3,151.6 476.8,152.4 477.3,153.0 477.8,153.6 478.3,154.1 478.8,154.5 479.3,154.8 479.8,155.1 480.3,155.4 480.8,155.6 481.3,155.8 481.8,156.0 482.3,156.1 482.8,156.2 483.3,156.3 483.8,156.4 484.3,156.5 484.8,156.5 485.3,156.6 485.8,156.6 486.3,156.6 486.8,156.7 487.3,156.7 487.8,156.7 488.3,156.7 488.8,156.7 489.3,156.8 489.8,156.8 490.3,156.7 490.8,156.7 491.3,156.6 491.8,156.6 492.3,156.5 492.8,156.4 493.3,156.4 493.8,156.3 494.3,156.2 494.8,156.0 495.3,155.6 495.8,155.2 496.3,154.8 496.8,154.4 497.3,154.0 497.8,154.0 498.3,154.5 498.8,154.9 499.3,155.3 499.8,155.7 500.3,156.1 500.8,156.0 501.3,155.6 501.8,155.3 502.3,155.0 502.8,154.7 503.3,154.4 503.8,154.3 504.3,154.1 504.8,154.0 505.3,153.9 505.8,153.7 506.3,153.3 506.8,153.0 507.3,152.7 507.8,152.8 508.3,152.8 508.8,152.9 509.3,152.7 509.8,152.3 510.3,151.9 510.8,151.5" fill="none" stroke="#151515" stroke-width="1.2" stroke-linejoin="round" stroke-linecap="round" />
<text x="0" y="0" font-size="9.1" font-weight="bold" text-anchor="middle" fill="#1a1a1a" stroke="#1a1a1a" stroke-width="0.32" transform="translate(269.50,93.00) rotate(-90)">Intensity (CPS)</text>
<text x="400.70" y="192.80" font-size="9.1" font-weight="bold" text-anchor="middle" fill="#1a1a1a"  stroke="#1a1a1a" stroke-width="0.32">Binding Energy (eV)</text>
<text x="301.80" y="17.60" font-size="9.8" font-weight="bold" text-anchor="start" fill="#1a1a1a"  stroke="#1a1a1a" stroke-width="0.32">(b)</text>
<text x="358.00" y="14.00" font-size="9.2" font-weight="bold" text-anchor="start" fill="#1a1a1a"  stroke="#1a1a1a" stroke-width="0.32">P 2p: as-received InP</text>
<line x1="297.70" y1="37.90" x2="317.00" y2="37.90" stroke="#9eecf0" stroke-width="1.3" />
<text x="318.60" y="41.10" font-size="9" font-weight="normal" text-anchor="start" fill="#2a2a2a" >Background</text>
<line x1="297.70" y1="50.20" x2="317.00" y2="50.20" stroke="#151515" stroke-width="1.3" />
<text x="318.60" y="53.40" font-size="9" font-weight="normal" text-anchor="start" fill="#2a2a2a" >Envelope</text>
<line x1="311.50" y1="147.20" x2="377.30" y2="147.20" stroke="#151515" stroke-width="0.9" stroke-dasharray="4,1.5,1,1.5"/>
<line x1="377.30" y1="144.00" x2="377.30" y2="170.00" stroke="#151515" stroke-width="0.9" stroke-dasharray="4,1.5,1,1.5"/>
<polygon points="377.30,139.50 375.60,144.50 379.00,144.50" fill="#151515"/>
<text x="316.20" y="141.70" font-size="9" font-weight="normal" text-anchor="start" fill="#2a2a2a" >InPO<tspan font-size="58%" dx="0.4" dy="2.6">4</tspan><tspan dx="0.3" dy="-2.6"> : 6.8%</tspan></text>
<line x1="460.40" y1="12.00" x2="460.40" y2="111.50" stroke="#151515" stroke-width="0.9" stroke-dasharray="4,1.5,1,1.5"/>
<polygon points="460.40,6.50 458.70,11.50 462.10,11.50" fill="#151515"/>
<line x1="445.20" y1="52.80" x2="445.20" y2="111.50" stroke="#151515" stroke-width="0.9" stroke-dasharray="4,1.5,1,1.5"/>
<line x1="445.20" y1="52.80" x2="460.40" y2="52.80" stroke="#151515" stroke-width="0.9" stroke-dasharray="4,1.5,1,1.5"/>
<line x1="462.00" y1="25.20" x2="511.00" y2="25.20" stroke="#2626c4" stroke-width="1.0" stroke-dasharray="4,1.5,1,1.5"/>
<text x="462.30" y="20.80" font-size="9.3" font-weight="normal" text-anchor="start" fill="#2a2a2a" >InP : 93.2%</text>
<rect x="31.70" y="202.20" width="219.10" height="163.80" fill="none" stroke="#585858" stroke-width="1.25"/>
<line x1="31.70" y1="366.00" x2="31.70" y2="362.80" stroke="#585858" stroke-width="0.9" />
<text x="31.70" y="376.60" font-size="8.5" font-weight="bold" text-anchor="middle" fill="#1a1a1a"  stroke="#1a1a1a" stroke-width="0.32">456</text>
<line x1="45.39" y1="366.00" x2="45.39" y2="364.20" stroke="#585858" stroke-width="0.9" />
<line x1="59.09" y1="366.00" x2="59.09" y2="362.80" stroke="#585858" stroke-width="0.9" />
<text x="59.09" y="376.60" font-size="8.5" font-weight="bold" text-anchor="middle" fill="#1a1a1a"  stroke="#1a1a1a" stroke-width="0.32">454</text>
<line x1="72.78" y1="366.00" x2="72.78" y2="364.20" stroke="#585858" stroke-width="0.9" />
<line x1="86.48" y1="366.00" x2="86.48" y2="362.80" stroke="#585858" stroke-width="0.9" />
<text x="86.48" y="376.60" font-size="8.5" font-weight="bold" text-anchor="middle" fill="#1a1a1a"  stroke="#1a1a1a" stroke-width="0.32">452</text>
<line x1="100.17" y1="366.00" x2="100.17" y2="364.20" stroke="#585858" stroke-width="0.9" />
<line x1="113.86" y1="366.00" x2="113.86" y2="362.80" stroke="#585858" stroke-width="0.9" />
<text x="113.86" y="376.60" font-size="8.5" font-weight="bold" text-anchor="middle" fill="#1a1a1a"  stroke="#1a1a1a" stroke-width="0.32">450</text>
<line x1="127.56" y1="366.00" x2="127.56" y2="364.20" stroke="#585858" stroke-width="0.9" />
<line x1="141.25" y1="366.00" x2="141.25" y2="362.80" stroke="#585858" stroke-width="0.9" />
<text x="141.25" y="376.60" font-size="8.5" font-weight="bold" text-anchor="middle" fill="#1a1a1a"  stroke="#1a1a1a" stroke-width="0.32">448</text>
<line x1="154.94" y1="366.00" x2="154.94" y2="364.20" stroke="#585858" stroke-width="0.9" />
<line x1="168.64" y1="366.00" x2="168.64" y2="362.80" stroke="#585858" stroke-width="0.9" />
<text x="168.64" y="376.60" font-size="8.5" font-weight="bold" text-anchor="middle" fill="#1a1a1a"  stroke="#1a1a1a" stroke-width="0.32">446</text>
<line x1="182.33" y1="366.00" x2="182.33" y2="364.20" stroke="#585858" stroke-width="0.9" />
<line x1="196.03" y1="366.00" x2="196.03" y2="362.80" stroke="#585858" stroke-width="0.9" />
<text x="196.03" y="376.60" font-size="8.5" font-weight="bold" text-anchor="middle" fill="#1a1a1a"  stroke="#1a1a1a" stroke-width="0.32">444</text>
<line x1="209.72" y1="366.00" x2="209.72" y2="364.20" stroke="#585858" stroke-width="0.9" />
<line x1="223.41" y1="366.00" x2="223.41" y2="362.80" stroke="#585858" stroke-width="0.9" />
<text x="223.41" y="376.60" font-size="8.5" font-weight="bold" text-anchor="middle" fill="#1a1a1a"  stroke="#1a1a1a" stroke-width="0.32">442</text>
<line x1="237.11" y1="366.00" x2="237.11" y2="364.20" stroke="#585858" stroke-width="0.9" />
<line x1="250.80" y1="366.00" x2="250.80" y2="362.80" stroke="#585858" stroke-width="0.9" />
<text x="250.80" y="376.60" font-size="8.5" font-weight="bold" text-anchor="middle" fill="#1a1a1a"  stroke="#1a1a1a" stroke-width="0.32">440</text>
<line x1="31.70" y1="366.00" x2="34.90" y2="366.00" stroke="#585858" stroke-width="0.9" />
<line x1="31.70" y1="354.30" x2="33.50" y2="354.30" stroke="#585858" stroke-width="0.9" />
<line x1="31.70" y1="342.60" x2="34.90" y2="342.60" stroke="#585858" stroke-width="0.9" />
<line x1="31.70" y1="330.90" x2="33.50" y2="330.90" stroke="#585858" stroke-width="0.9" />
<line x1="31.70" y1="319.20" x2="34.90" y2="319.20" stroke="#585858" stroke-width="0.9" />
<line x1="31.70" y1="307.50" x2="33.50" y2="307.50" stroke="#585858" stroke-width="0.9" />
<line x1="31.70" y1="295.80" x2="34.90" y2="295.80" stroke="#585858" stroke-width="0.9" />
<line x1="31.70" y1="284.10" x2="33.50" y2="284.10" stroke="#585858" stroke-width="0.9" />
<line x1="31.70" y1="272.40" x2="34.90" y2="272.40" stroke="#585858" stroke-width="0.9" />
<line x1="31.70" y1="260.70" x2="33.50" y2="260.70" stroke="#585858" stroke-width="0.9" />
<line x1="31.70" y1="249.00" x2="34.90" y2="249.00" stroke="#585858" stroke-width="0.9" />
<line x1="31.70" y1="237.30" x2="33.50" y2="237.30" stroke="#585858" stroke-width="0.9" />
<line x1="31.70" y1="225.60" x2="34.90" y2="225.60" stroke="#585858" stroke-width="0.9" />
<line x1="31.70" y1="213.90" x2="33.50" y2="213.90" stroke="#585858" stroke-width="0.9" />
<line x1="31.70" y1="202.20" x2="34.90" y2="202.20" stroke="#585858" stroke-width="0.9" />
<text x="28.40" y="369.06" font-size="8.5" font-weight="bold" text-anchor="end" fill="#1a1a1a"  stroke="#1a1a1a" stroke-width="0.32">0</text>
<text x="28.40" y="345.66" font-size="8.5" font-weight="bold" text-anchor="end" fill="#1a1a1a"  stroke="#1a1a1a" stroke-width="0.32">10k</text>
<text x="28.40" y="322.26" font-size="8.5" font-weight="bold" text-anchor="end" fill="#1a1a1a"  stroke="#1a1a1a" stroke-width="0.32">20k</text>
<text x="28.40" y="298.86" font-size="8.5" font-weight="bold" text-anchor="end" fill="#1a1a1a"  stroke="#1a1a1a" stroke-width="0.32">30k</text>
<text x="28.40" y="275.46" font-size="8.5" font-weight="bold" text-anchor="end" fill="#1a1a1a"  stroke="#1a1a1a" stroke-width="0.32">40k</text>
<text x="28.40" y="252.06" font-size="8.5" font-weight="bold" text-anchor="end" fill="#1a1a1a"  stroke="#1a1a1a" stroke-width="0.32">50k</text>
<text x="28.40" y="228.66" font-size="8.5" font-weight="bold" text-anchor="end" fill="#1a1a1a"  stroke="#1a1a1a" stroke-width="0.32">60k</text>
<text x="28.40" y="205.26" font-size="8.5" font-weight="bold" text-anchor="end" fill="#1a1a1a"  stroke="#1a1a1a" stroke-width="0.32">70k</text>
<polyline points="47.0,352.3 48.0,352.3 49.0,352.3 50.0,352.3 51.0,352.3 52.0,352.3 53.0,352.3 54.0,352.3 55.0,352.3 56.0,352.3 57.0,352.4 58.0,352.4 59.0,352.4 60.0,352.4 61.0,352.4 62.0,352.4 63.0,352.5 64.0,352.5 65.0,352.6 66.0,352.6 67.0,352.7 68.0,352.7 69.0,352.8 70.0,352.9 71.0,353.1 72.0,353.2 73.0,353.3 74.0,353.5 75.0,353.7 76.0,353.9 77.0,354.1 78.0,354.3 79.0,354.6 80.0,354.8 81.0,355.0 82.0,355.2 83.0,355.4 84.0,355.6 85.0,355.8 86.0,355.9 87.0,356.0 88.0,356.2 89.0,356.3 90.0,356.4 91.0,356.4 92.0,356.5 93.0,356.5 94.0,356.6 95.0,356.6 96.0,356.7 97.0,356.7 98.0,356.7 99.0,356.7 100.0,356.7 101.0,356.7 102.0,356.8 103.0,356.8" fill="none" stroke="#9eecf0" stroke-width="1.0" stroke-linejoin="round" stroke-linecap="round" /><polyline points="150.0,356.8 151.0,356.8 152.0,356.8 153.0,356.8 154.0,356.8 155.0,356.8 156.0,356.8 157.0,356.8 158.0,356.8 159.0,356.8 160.0,356.8 161.0,356.8 162.0,356.8 163.0,356.8 164.0,356.8 165.0,356.9 166.0,356.9 167.0,356.9 168.0,356.9 169.0,356.9 170.0,357.0 171.0,357.0 172.0,357.0 173.0,357.1 174.0,357.1 175.0,357.2 176.0,357.2 177.0,357.3 178.0,357.4 179.0,357.5 180.0,357.6 181.0,357.7 182.0,357.8 183.0,357.9 184.0,358.0 185.0,358.1 186.0,358.2 187.0,358.3 188.0,358.4 189.0,358.5 190.0,358.6 191.0,358.6 192.0,358.7 193.0,358.7 194.0,358.8 195.0,358.8 196.0,358.8 197.0,358.9 198.0,358.9 199.0,358.9 200.0,358.9 201.0,358.9 202.0,359.0 203.0,359.0 204.0,359.0 205.0,359.0 206.0,359.0 207.0,359.0 208.0,359.0" fill="none" stroke="#9eecf0" stroke-width="1.0" stroke-linejoin="round" stroke-linecap="round" />
<polyline points="62.0,352.4 62.5,352.4 63.0,352.5 63.5,352.5 64.0,352.5 64.5,352.5 65.0,352.5 65.5,352.5 66.0,352.5 66.5,352.5 67.0,352.5 67.5,352.5 68.0,352.6 68.5,352.6 69.0,352.6 69.5,352.6 70.0,352.5 70.5,352.5 71.0,352.5 71.5,352.5 72.0,352.4 72.5,352.4 73.0,352.3 73.5,352.2 74.0,352.1 74.5,352.0 75.0,351.9 75.5,351.7 76.0,351.6 76.5,351.4 77.0,351.1 77.5,350.9 78.0,350.6 78.5,350.3 79.0,350.0 79.5,349.7 80.0,349.4 80.5,349.0 81.0,348.6 81.5,348.2 82.0,347.8 82.5,347.5 83.0,347.1 83.5,346.8 84.0,346.5 84.5,346.2 85.0,346.0 85.5,345.9 86.0,345.8 86.5,345.9 87.0,346.2 87.5,346.5 88.0,346.9 88.5,347.3 89.0,347.8 89.5,348.3 90.0,348.8 90.5,349.3 91.0,349.8 91.5,350.4 92.0,350.9 92.5,351.4 93.0,351.9 93.5,352.3 94.0,352.7 94.5,353.1 95.0,353.5 95.5,353.9 96.0,354.2 96.5,354.5 97.0,354.8 97.5,355.0 98.0,355.2 98.5,355.4 99.0,355.6 99.5,355.8 100.0,355.9 100.5,356.0 101.0,356.2 101.5,356.2 102.0,356.3 102.5,356.4 103.0,356.5" fill="none" stroke="#2626c4" stroke-width="1.1" stroke-linejoin="round" stroke-linecap="round" /><polyline points="166.0,356.8 166.5,356.8 167.0,356.8 167.5,356.8 168.0,356.8 168.5,356.8 169.0,356.8 169.5,356.8 170.0,356.8 170.5,356.7 171.0,356.7 171.5,356.7 172.0,356.6 172.5,356.6 173.0,356.5 173.5,356.4 174.0,356.3 174.5,356.2 175.0,356.1 175.5,355.9 176.0,355.8 176.5,355.6 177.0,355.3 177.5,355.1 178.0,354.8 178.5,354.5 179.0,354.1 179.5,353.7 180.0,353.3 180.5,352.8 181.0,352.3 181.5,351.8 182.0,351.2 182.5,350.6 183.0,350.0 183.5,349.3 184.0,348.6 184.5,348.0 185.0,347.3 185.5,346.6 186.0,345.9 186.5,345.3 187.0,344.7 187.5,344.2 188.0,343.8 188.5,343.4 189.0,343.2 189.5,343.3 190.0,343.5 190.5,343.9 191.0,344.4 191.5,345.0 192.0,345.6 192.5,346.3 193.0,347.0 193.5,347.8 194.0,348.5 194.5,349.3 195.0,350.0 195.5,350.8 196.0,351.5 196.5,352.2 197.0,352.8 197.5,353.4 198.0,354.0 198.5,354.5 199.0,355.0 199.5,355.5 200.0,355.9 200.5,356.3 201.0,356.6 201.5,356.9 202.0,357.2 202.5,357.4 203.0,357.7 203.5,357.8 204.0,358.0 204.5,358.2 205.0,358.3 205.5,358.4 206.0,358.5 206.5,358.6 207.0,358.6 207.5,358.7 208.0,358.8" fill="none" stroke="#2626c4" stroke-width="1.1" stroke-linejoin="round" stroke-linecap="round" />
<polyline points="47.0,352.3 47.5,352.3 48.0,352.3 48.5,352.3 49.0,352.3 49.5,352.2 50.0,352.2 50.5,352.2 51.0,352.2 51.5,352.2 52.0,352.1 52.5,352.1 53.0,352.1 53.5,352.0 54.0,352.0 54.5,351.9 55.0,351.8 55.5,351.7 56.0,351.6 56.5,351.5 57.0,351.4 57.5,351.2 58.0,351.0 58.5,350.8 59.0,350.6 59.5,350.3 60.0,350.0 60.5,349.7 61.0,349.3 61.5,348.8 62.0,348.3 62.5,347.8 63.0,347.1 63.5,346.4 64.0,345.7 64.5,344.8 65.0,343.9 65.5,342.8 66.0,341.7 66.5,340.5 67.0,339.2 67.5,337.7 68.0,336.2 68.5,334.5 69.0,332.7 69.5,330.8 70.0,328.8 70.5,326.7 71.0,324.5 71.5,322.1 72.0,319.7 72.5,317.2 73.0,314.7 73.5,312.0 74.0,309.4 74.5,306.7 75.0,304.1 75.5,301.5 76.0,298.9 76.5,296.4 77.0,294.1 77.5,291.9 78.0,289.9 78.5,288.2 79.0,286.7 79.5,285.6 80.0,285.0 80.5,285.0 81.0,285.8 81.5,287.0 82.0,288.6 82.5,290.5 83.0,292.7 83.5,295.0 84.0,297.5 84.5,300.2 85.0,302.9 85.5,305.7 86.0,308.5 86.5,311.3 87.0,314.1 87.5,316.9 88.0,319.6 88.5,322.2 89.0,324.8 89.5,327.2 90.0,329.6 90.5,331.8 91.0,334.0 91.5,336.0 92.0,337.8 92.5,339.6 93.0,341.2 93.5,342.8 94.0,344.2 94.5,345.5 95.0,346.7 95.5,347.8 96.0,348.7 96.5,349.7 97.0,350.5 97.5,351.2 98.0,351.9 98.5,352.5 99.0,353.0 99.5,353.5 100.0,353.9 100.5,354.3 101.0,354.6 101.5,354.9 102.0,355.2 102.5,355.4 103.0,355.6" fill="none" stroke="#dc2830" stroke-width="1.1" stroke-linejoin="round" stroke-linecap="round" /><polyline points="150.0,356.8 150.5,356.8 151.0,356.8 151.5,356.7 152.0,356.7 152.5,356.7 153.0,356.7 153.5,356.7 154.0,356.7 154.5,356.6 155.0,356.6 155.5,356.5 156.0,356.5 156.5,356.4 157.0,356.4 157.5,356.3 158.0,356.2 158.5,356.1 159.0,355.9 159.5,355.8 160.0,355.6 160.5,355.4 161.0,355.2 161.5,354.9 162.0,354.6 162.5,354.2 163.0,353.8 163.5,353.4 164.0,352.8 164.5,352.2 165.0,351.6 165.5,350.8 166.0,350.0 166.5,349.1 167.0,348.0 167.5,346.9 168.0,345.6 168.5,344.2 169.0,342.7 169.5,341.0 170.0,339.1 170.5,337.1 171.0,335.0 171.5,332.6 172.0,330.1 172.5,327.5 173.0,324.6 173.5,321.6 174.0,318.4 174.5,315.0 175.0,311.5 175.5,307.8 176.0,304.0 176.5,300.1 177.0,296.1 177.5,292.1 178.0,288.0 178.5,283.9 179.0,279.9 179.5,275.9 180.0,272.1 180.5,268.4 181.0,265.0 181.5,261.8 182.0,259.0 182.5,256.6 183.0,254.8 183.5,253.5 184.0,253.2 184.5,254.0 185.0,255.7 185.5,257.9 186.0,260.5 186.5,263.6 187.0,267.0 187.5,270.6 188.0,274.4 188.5,278.4 189.0,282.5 189.5,286.6 190.0,290.8 190.5,295.0 191.0,299.1 191.5,303.1 192.0,307.0 192.5,310.8 193.0,314.5 193.5,318.0 194.0,321.3 194.5,324.5 195.0,327.5 195.5,330.3 196.0,333.0 196.5,335.5 197.0,337.8 197.5,339.9 198.0,341.8 198.5,343.6 199.0,345.3 199.5,346.8 200.0,348.2 200.5,349.4 201.0,350.5 201.5,351.5 202.0,352.4 202.5,353.2 203.0,354.0 203.5,354.6 204.0,355.2 204.5,355.7 205.0,356.1 205.5,356.5 206.0,356.9 206.5,357.2 207.0,357.4 207.5,357.6 208.0,357.8" fill="none" stroke="#dc2830" stroke-width="1.1" stroke-linejoin="round" stroke-linecap="round" />
<polyline points="47.0,352.0 47.5,352.0 48.0,351.9 48.5,351.9 49.0,351.8 49.5,351.7 50.0,351.6 50.5,351.5 51.0,351.4 51.5,351.3 52.0,351.1 52.5,351.0 53.0,350.8 53.5,350.6 54.0,350.4 54.5,350.1 55.0,349.9 55.5,349.6 56.0,349.2 56.5,348.9 57.0,348.5 57.5,348.1 58.0,347.6 58.5,347.1 59.0,346.6 59.5,346.0 60.0,345.4 60.5,344.8 61.0,344.1 61.5,343.3 62.0,342.6 62.5,341.8 63.0,340.9 63.5,340.0 64.0,339.1 64.5,338.2 65.0,337.3 65.5,336.3 66.0,335.4 66.5,334.4 67.0,333.5 67.5,332.6 68.0,331.8 68.5,331.0 69.0,330.3 69.5,329.7 70.0,329.2 70.5,328.9 71.0,328.9 71.5,329.3 72.0,329.9 72.5,330.6 73.0,331.4 73.5,332.3 74.0,333.2 74.5,334.3 75.0,335.3 75.5,336.4 76.0,337.4 76.5,338.5 77.0,339.6 77.5,340.6 78.0,341.7 78.5,342.7 79.0,343.7 79.5,344.6 80.0,345.5 80.5,346.4 81.0,347.2 81.5,348.0 82.0,348.7 82.5,349.4 83.0,350.1 83.5,350.7 84.0,351.2 84.5,351.7 85.0,352.2 85.5,352.7 86.0,353.1 86.5,353.5 87.0,353.8 87.5,354.1 88.0,354.4 88.5,354.6 89.0,354.9 89.5,355.1 90.0,355.3 90.5,355.5 91.0,355.6 91.5,355.7 92.0,355.9 92.5,356.0 93.0,356.1 93.5,356.2 94.0,356.2 94.5,356.3 95.0,356.4 95.5,356.4 96.0,356.5 96.5,356.5 97.0,356.5 97.5,356.6 98.0,356.6 98.5,356.6 99.0,356.6 99.5,356.7 100.0,356.7 100.5,356.7 101.0,356.7 101.5,356.7 102.0,356.7 102.5,356.7 103.0,356.7" fill="none" stroke="#6a2c88" stroke-width="1.1" stroke-linejoin="round" stroke-linecap="round" /><polyline points="150.0,356.4 150.5,356.4 151.0,356.3 151.5,356.2 152.0,356.1 152.5,356.0 153.0,355.9 153.5,355.8 154.0,355.6 154.5,355.5 155.0,355.3 155.5,355.1 156.0,354.8 156.5,354.6 157.0,354.3 157.5,353.9 158.0,353.6 158.5,353.2 159.0,352.7 159.5,352.2 160.0,351.7 160.5,351.1 161.0,350.5 161.5,349.8 162.0,349.0 162.5,348.2 163.0,347.3 163.5,346.4 164.0,345.4 164.5,344.3 165.0,343.2 165.5,342.0 166.0,340.8 166.5,339.5 167.0,338.1 167.5,336.7 168.0,335.3 168.5,333.8 169.0,332.3 169.5,330.8 170.0,329.3 170.5,327.9 171.0,326.4 171.5,325.0 172.0,323.7 172.5,322.5 173.0,321.5 173.5,320.6 174.0,320.0 174.5,319.6 175.0,320.0 175.5,320.7 176.0,321.7 176.5,322.8 177.0,324.0 177.5,325.4 178.0,326.8 178.5,328.3 179.0,329.9 179.5,331.4 180.0,333.0 180.5,334.5 181.0,336.1 181.5,337.6 182.0,339.0 182.5,340.5 183.0,341.8 183.5,343.1 184.0,344.4 184.5,345.6 185.0,346.7 185.5,347.7 186.0,348.7 186.5,349.7 187.0,350.5 187.5,351.3 188.0,352.1 188.5,352.7 189.0,353.4 189.5,353.9 190.0,354.5 190.5,354.9 191.0,355.4 191.5,355.8 192.0,356.1 192.5,356.5 193.0,356.8 193.5,357.0 194.0,357.2 194.5,357.5 195.0,357.6 195.5,357.8 196.0,358.0 196.5,358.1 197.0,358.2 197.5,358.3 198.0,358.4 198.5,358.5 199.0,358.5 199.5,358.6 200.0,358.7 200.5,358.7 201.0,358.7 201.5,358.8 202.0,358.8 202.5,358.8 203.0,358.9 203.5,358.9 204.0,358.9 204.5,358.9 205.0,358.9 205.5,358.9 206.0,358.9 206.5,358.9 207.0,359.0 207.5,359.0 208.0,359.0" fill="none" stroke="#6a2c88" stroke-width="1.1" stroke-linejoin="round" stroke-linecap="round" />
<polyline points="32.3,352.7 32.8,352.7 33.3,352.7 33.8,352.6 34.3,352.6 34.8,352.5 35.3,352.5 35.8,352.4 36.3,352.4 36.8,352.4 37.3,352.3 37.8,352.3 38.3,352.2 38.8,352.2 39.3,352.1 39.8,352.1 40.3,352.0 40.8,352.0 41.3,351.9 41.8,351.8 42.3,351.8 42.8,351.7 43.3,351.7 43.8,351.6 44.3,351.5 44.8,351.5 45.3,351.4 45.8,351.4 46.3,351.3 46.8,351.2 47.3,351.1 47.8,351.1 48.3,351.0 48.8,350.9 49.3,350.8 49.8,350.7 50.3,350.7 50.8,350.6 51.3,350.5 51.8,350.4 52.3,350.2 52.8,350.1 53.3,350.0 53.8,349.9 54.3,349.7 54.8,349.5 55.3,349.3 55.8,349.1 56.3,348.9 56.8,348.6 57.3,348.4 57.8,348.0 58.3,347.7 58.8,347.3 59.3,346.8 59.8,346.3 60.3,345.7 60.8,345.0 61.3,344.3 61.8,343.5 62.3,342.6 62.8,341.5 63.3,340.4 63.8,339.2 64.3,337.8 64.8,336.2 65.3,334.6 65.8,332.8 66.3,330.8 66.8,328.7 67.3,326.4 67.8,323.9 68.3,321.3 68.8,318.6 69.3,315.7 69.8,312.6 70.3,309.5 70.8,306.2 71.3,302.8 71.8,299.4 72.3,295.9 72.8,292.3 73.3,288.8 73.8,285.1 74.3,282.7 74.8,280.4 75.3,278.2 75.8,276.1 76.3,274.2 76.8,272.5 77.3,271.1 77.8,270.0 78.3,269.2 78.8,268.8 79.3,268.7 79.8,269.1 80.3,269.9 80.8,271.1 81.3,272.6 81.8,274.5 82.3,276.6 82.8,279.0 83.3,281.6 83.8,284.4 84.3,287.4 84.8,290.5 85.3,293.7 85.8,297.0 86.3,300.3 86.8,303.7 87.3,307.0 87.8,310.2 88.3,313.4 88.8,316.5 89.3,319.5 89.8,322.4 90.3,325.1 90.8,327.7 91.3,330.1 91.8,332.4 92.3,334.6 92.8,336.6 93.3,338.4 93.8,340.1 94.3,341.6 94.8,343.0 95.3,344.3 95.8,345.5 96.3,346.5 96.8,347.4 97.3,348.3 97.8,349.0 98.3,349.7 98.8,350.3 99.3,350.8 99.8,351.3 100.3,351.7 100.8,352.0 101.3,352.4 101.8,352.7 102.3,352.9 102.8,353.1 103.3,353.3 103.8,353.5 104.3,353.7 104.8,353.8 105.3,354.0 105.8,354.1 106.3,354.2 106.8,354.3 107.3,354.4 107.8,354.5 108.3,354.6 108.8,354.7 109.3,354.7 109.8,354.8 110.3,354.9 110.8,355.0 111.3,355.0 111.8,355.1 112.3,355.2 112.8,355.2 113.3,355.3 113.8,355.3 114.3,355.4 114.8,355.5 115.3,355.5 115.8,355.6 116.3,355.6 116.8,355.7 117.3,355.7 117.8,355.8 118.3,355.8 118.8,355.9 119.3,355.9 119.8,356.0 120.3,356.0 120.8,356.1 121.3,356.1 121.8,356.2 122.3,356.2 122.8,356.2 123.3,356.3 123.8,356.3 124.3,356.4 124.8,356.4 125.3,356.4 125.8,356.5 126.3,356.5 126.8,356.5 127.3,356.6 127.8,356.6 128.3,356.7 128.8,356.7 129.3,356.7 129.8,356.8 130.3,356.8 130.8,356.8 131.3,356.8 131.8,356.9 132.3,356.9 132.8,356.9 133.3,357.0 133.8,357.0 134.3,357.0 134.8,357.1 135.3,357.1 135.8,357.1 136.3,357.1 136.8,357.2 137.3,357.2 137.8,357.2 138.3,357.2 138.8,357.3 139.3,357.3 139.8,357.3 140.3,357.3 140.8,357.3 141.2,357.4 141.7,357.4 142.2,357.4 142.7,357.4 143.2,357.4 143.7,357.4 144.2,357.5 144.7,357.5 145.2,357.5 145.7,357.5 146.2,357.5 146.7,357.5 147.2,357.5 147.7,357.5 148.2,357.5 148.7,357.5 149.2,357.5 149.7,357.5 150.2,357.5 150.7,357.5 151.2,357.5 151.7,357.5 152.2,357.4 152.7,357.4 153.2,357.3 153.7,357.3 154.2,357.2 154.7,357.1 155.2,357.1 155.7,356.9 156.2,356.8 156.7,356.7 157.2,356.5 157.7,356.3 158.2,356.1 158.7,355.8 159.2,355.5 159.7,355.2 160.2,354.8 160.7,354.4 161.2,353.9 161.7,353.4 162.2,352.7 162.7,352.0 163.2,351.3 163.7,350.4 164.2,349.4 164.7,348.3 165.2,347.1 165.7,345.7 166.2,344.2 166.7,342.6 167.2,340.7 167.7,338.7 168.2,336.5 168.7,334.1 169.2,331.4 169.7,328.5 170.2,325.4 170.7,322.0 171.2,318.4 171.7,314.4 172.2,310.2 172.7,305.7 173.2,301.0 173.7,295.9 174.2,290.6 174.7,285.0 175.2,279.3 175.7,273.3 176.2,267.2 176.7,261.0 177.2,254.8 177.7,248.9 178.2,243.9 178.7,241.1 179.2,238.7 179.7,236.5 180.2,234.5 180.7,232.7 181.2,231.1 181.7,229.7 182.2,228.6 182.7,227.8 183.2,227.4 183.7,227.6 184.2,228.9 184.7,231.8 185.2,235.4 185.7,239.6 186.2,244.2 186.7,249.1 187.2,254.2 187.7,259.4 188.2,264.7 188.7,270.0 189.2,275.3 189.7,280.5 190.2,285.6 190.7,290.6 191.2,295.4 191.7,300.1 192.2,304.5 192.7,308.8 193.2,312.9 193.7,316.7 194.2,320.3 194.7,323.7 195.2,326.9 195.7,329.8 196.2,332.6 196.7,335.1 197.2,337.4 197.7,339.6 198.2,341.6 198.7,343.4 199.2,345.0 199.7,346.5 200.2,347.9 200.7,349.1 201.2,350.2 201.7,351.2 202.2,352.1 202.7,352.9 203.2,353.6 203.7,354.2 204.2,354.8 204.7,355.3 205.2,355.7 205.7,356.1 206.2,356.4 206.7,356.7 207.2,357.0 207.7,357.2 208.2,357.4 208.7,357.6 209.2,357.7 209.7,357.9 210.2,358.0 210.7,358.1 211.2,358.2 211.7,358.2 212.2,358.3 212.7,358.4 213.2,358.4 213.7,358.4 214.2,358.5 214.7,358.5 215.2,358.5 215.7,358.6 216.2,358.6 216.7,358.6 217.2,358.6 217.7,358.6 218.2,358.6 218.7,358.6 219.2,358.6 219.7,358.7 220.2,358.7 220.7,358.7 221.2,358.7 221.7,358.7 222.2,358.7 222.7,358.7 223.2,358.7 223.7,358.7 224.2,358.7 224.7,358.7 225.2,358.7 225.7,358.7 226.2,358.7 226.7,358.7 227.2,358.7 227.7,358.7 228.2,358.7 228.7,358.7 229.2,358.7 229.7,358.7 230.2,358.7 230.7,358.7 231.2,358.7 231.7,358.7 232.2,358.7 232.7,358.7 233.2,358.7 233.7,358.7 234.2,358.7 234.7,358.7 235.2,358.7 235.7,358.7 236.2,358.7 236.7,358.7 237.2,358.7 237.7,358.7 238.2,358.7 238.7,358.7 239.2,358.7 239.7,358.8 240.2,358.8 240.7,358.8 241.2,358.8 241.7,358.8 242.2,358.8 242.7,358.8 243.2,358.8 243.7,358.8 244.2,358.8 244.7,358.8 245.2,358.8 245.7,358.8 246.2,358.8 246.7,358.8 247.2,358.8 247.7,358.8 248.2,358.8 248.7,358.8 249.2,358.8 249.7,358.8 250.2,358.8" fill="none" stroke="#151515" stroke-width="1.3" stroke-linejoin="round" stroke-linecap="round" />
<text x="0" y="0" font-size="8.5" font-weight="bold" text-anchor="middle" fill="#1a1a1a" stroke="#1a1a1a" stroke-width="0.32" transform="translate(8.20,287.40) rotate(-90)">Intensity(CPS)</text>
<text x="141.00" y="387.00" font-size="8.4" font-weight="bold" text-anchor="middle" fill="#1a1a1a"  stroke="#1a1a1a" stroke-width="0.32">Binding Energy (eV)</text>
<text x="40.80" y="212.80" font-size="8.3" font-weight="bold" text-anchor="start" fill="#1a1a1a"  stroke="#1a1a1a" stroke-width="0.32">(c)</text>
<text x="84.00" y="211.00" font-size="8.4" font-weight="bold" text-anchor="start" fill="#1a1a1a"  stroke="#1a1a1a" stroke-width="0.32">In 3d: InP after plasma activation</text>
<line x1="35.40" y1="222.10" x2="52.70" y2="222.10" stroke="#2626c4" stroke-width="1.3" />
<text x="55.00" y="225.10" font-size="8.3" font-weight="normal" text-anchor="start" fill="#2a2a2a" >In-P : 8.8%</text>
<line x1="35.40" y1="232.30" x2="52.70" y2="232.30" stroke="#dc2830" stroke-width="1.3" />
<text x="55.00" y="235.30" font-size="8.3" font-weight="normal" text-anchor="start" fill="#2a2a2a" >In-O : 68.9%</text>
<line x1="35.40" y1="242.30" x2="52.70" y2="242.30" stroke="#6a2c88" stroke-width="1.3" />
<text x="55.00" y="245.30" font-size="8.3" font-weight="normal" text-anchor="start" fill="#2a2a2a" >In-PO<tspan font-size="58%" dx="0.4" dy="2.6">4</tspan><tspan dx="0.3" dy="-2.6"> : 22.3%</tspan></text>
<line x1="35.40" y1="255.20" x2="52.70" y2="255.20" stroke="#9eecf0" stroke-width="1.3" />
<text x="55.60" y="258.20" font-size="8.3" font-weight="normal" text-anchor="start" fill="#2a2a2a" >Background</text>
<line x1="102.70" y1="255.20" x2="119.40" y2="255.20" stroke="#151515" stroke-width="1.3" />
<text x="122.30" y="258.20" font-size="8.3" font-weight="normal" text-anchor="start" fill="#2a2a2a" >Envelope</text>
<text x="86.80" y="274.00" font-size="8.2" font-weight="bold" text-anchor="start" fill="#1a1a1a"  stroke="#1a1a1a" stroke-width="0.32">In 3d<tspan font-size="5.3" dx="0.8" dy="3.7">3/2</tspan></text>
<text x="185.20" y="231.30" font-size="8.2" font-weight="bold" text-anchor="start" fill="#1a1a1a"  stroke="#1a1a1a" stroke-width="0.32">In 3d<tspan font-size="5.3" dx="0.8" dy="3.7">5/2</tspan></text>
<text x="206.00" y="256.00" font-size="8.5" font-weight="normal" text-anchor="start" fill="#2a2a2a" >In<tspan font-size="58%" dx="0.4" dy="2.6">2</tspan><tspan dx="0.4" dy="-2.6">O</tspan><tspan font-size="58%" dx="0.4" dy="2.6">3</tspan></text>
<line x1="204.70" y1="252.30" x2="189.82" y2="258.03" stroke="#dc2830" stroke-width="1.2" /><polygon points="187.30,259.00 189.71,256.36 190.86,259.34" fill="#dc2830"/>
<text x="214.80" y="342.90" font-size="8.5" font-weight="normal" text-anchor="start" fill="#2a2a2a" >InP</text>
<line x1="214.30" y1="339.00" x2="197.76" y2="346.40" stroke="#2626c4" stroke-width="1.2" /><polygon points="195.30,347.50 197.57,344.73 198.87,347.65" fill="#2626c4"/>
<text x="129.00" y="311.20" font-size="8.3" font-weight="normal" text-anchor="start" fill="#2a2a2a" >InPO<tspan font-size="58%" dx="0.4" dy="2.6">4</tspan></text>
<line x1="142.50" y1="312.90" x2="164.45" y2="327.50" stroke="#4a1a22" stroke-width="1.1" /><polygon points="166.70,329.00 163.15,328.56 164.92,325.90" fill="#4a1a22"/>
<rect x="291.80" y="201.20" width="220.70" height="163.40" fill="none" stroke="#585858" stroke-width="1.25"/>
<line x1="291.80" y1="364.60" x2="291.80" y2="361.40" stroke="#585858" stroke-width="0.9" />
<text x="291.80" y="375.60" font-size="8.5" font-weight="bold" text-anchor="middle" fill="#1a1a1a"  stroke="#1a1a1a" stroke-width="0.32">138</text>
<line x1="310.19" y1="364.60" x2="310.19" y2="362.80" stroke="#585858" stroke-width="0.9" />
<line x1="328.58" y1="364.60" x2="328.58" y2="361.40" stroke="#585858" stroke-width="0.9" />
<text x="328.58" y="375.60" font-size="8.5" font-weight="bold" text-anchor="middle" fill="#1a1a1a"  stroke="#1a1a1a" stroke-width="0.32">136</text>
<line x1="346.98" y1="364.60" x2="346.98" y2="362.80" stroke="#585858" stroke-width="0.9" />
<line x1="365.37" y1="364.60" x2="365.37" y2="361.40" stroke="#585858" stroke-width="0.9" />
<text x="365.37" y="375.60" font-size="8.5" font-weight="bold" text-anchor="middle" fill="#1a1a1a"  stroke="#1a1a1a" stroke-width="0.32">134</text>
<line x1="383.76" y1="364.60" x2="383.76" y2="362.80" stroke="#585858" stroke-width="0.9" />
<line x1="402.15" y1="364.60" x2="402.15" y2="361.40" stroke="#585858" stroke-width="0.9" />
<text x="402.15" y="375.60" font-size="8.5" font-weight="bold" text-anchor="middle" fill="#1a1a1a"  stroke="#1a1a1a" stroke-width="0.32">132</text>
<line x1="420.54" y1="364.60" x2="420.54" y2="362.80" stroke="#585858" stroke-width="0.9" />
<line x1="438.93" y1="364.60" x2="438.93" y2="361.40" stroke="#585858" stroke-width="0.9" />
<text x="438.93" y="375.60" font-size="8.5" font-weight="bold" text-anchor="middle" fill="#1a1a1a"  stroke="#1a1a1a" stroke-width="0.32">130</text>
<line x1="457.32" y1="364.60" x2="457.32" y2="362.80" stroke="#585858" stroke-width="0.9" />
<line x1="475.72" y1="364.60" x2="475.72" y2="361.40" stroke="#585858" stroke-width="0.9" />
<text x="475.72" y="375.60" font-size="8.5" font-weight="bold" text-anchor="middle" fill="#1a1a1a"  stroke="#1a1a1a" stroke-width="0.32">128</text>
<line x1="494.11" y1="364.60" x2="494.11" y2="362.80" stroke="#585858" stroke-width="0.9" />
<line x1="512.50" y1="364.60" x2="512.50" y2="361.40" stroke="#585858" stroke-width="0.9" />
<text x="512.50" y="375.60" font-size="8.5" font-weight="bold" text-anchor="middle" fill="#1a1a1a"  stroke="#1a1a1a" stroke-width="0.32">126</text>
<line x1="291.80" y1="364.60" x2="295.00" y2="364.60" stroke="#585858" stroke-width="0.9" />
<line x1="291.80" y1="348.26" x2="293.60" y2="348.26" stroke="#585858" stroke-width="0.9" />
<line x1="291.80" y1="331.92" x2="295.00" y2="331.92" stroke="#585858" stroke-width="0.9" />
<line x1="291.80" y1="315.58" x2="293.60" y2="315.58" stroke="#585858" stroke-width="0.9" />
<line x1="291.80" y1="299.24" x2="295.00" y2="299.24" stroke="#585858" stroke-width="0.9" />
<line x1="291.80" y1="282.90" x2="293.60" y2="282.90" stroke="#585858" stroke-width="0.9" />
<line x1="291.80" y1="266.56" x2="295.00" y2="266.56" stroke="#585858" stroke-width="0.9" />
<line x1="291.80" y1="250.22" x2="293.60" y2="250.22" stroke="#585858" stroke-width="0.9" />
<line x1="291.80" y1="233.88" x2="295.00" y2="233.88" stroke="#585858" stroke-width="0.9" />
<line x1="291.80" y1="217.54" x2="293.60" y2="217.54" stroke="#585858" stroke-width="0.9" />
<line x1="291.80" y1="201.20" x2="295.00" y2="201.20" stroke="#585858" stroke-width="0.9" />
<text x="288.70" y="367.66" font-size="8.5" font-weight="bold" text-anchor="end" fill="#1a1a1a"  stroke="#1a1a1a" stroke-width="0.32">2.1k</text>
<text x="288.70" y="334.98" font-size="8.5" font-weight="bold" text-anchor="end" fill="#1a1a1a"  stroke="#1a1a1a" stroke-width="0.32">2.4k</text>
<text x="288.70" y="302.30" font-size="8.5" font-weight="bold" text-anchor="end" fill="#1a1a1a"  stroke="#1a1a1a" stroke-width="0.32">2.7k</text>
<text x="288.70" y="269.62" font-size="8.5" font-weight="bold" text-anchor="end" fill="#1a1a1a"  stroke="#1a1a1a" stroke-width="0.32">3.0k</text>
<text x="288.70" y="236.94" font-size="8.5" font-weight="bold" text-anchor="end" fill="#1a1a1a"  stroke="#1a1a1a" stroke-width="0.32">3.3k</text>
<text x="288.70" y="204.26" font-size="8.5" font-weight="bold" text-anchor="end" fill="#1a1a1a"  stroke="#1a1a1a" stroke-width="0.32">3.6k</text>
<polyline points="292.3,350.5 294.3,350.5 296.3,350.5 298.3,350.5 300.3,350.5 302.3,350.4 304.3,350.4 306.4,350.4 308.4,350.4 310.4,350.4 312.4,350.4 314.4,350.4 316.4,350.4 318.4,350.4 320.4,350.3 322.4,350.3 324.4,350.3 326.4,350.3 328.4,350.3 330.4,350.3 332.5,350.3 334.5,350.3 336.5,350.3 338.5,350.2 340.5,350.2 342.5,350.2 344.5,350.2 346.5,350.2 348.5,350.2 350.5,350.2 352.5,350.2 354.5,350.2 356.5,350.2 358.6,350.1 360.6,350.1 362.6,350.1 364.6,350.1 366.6,350.1 368.6,350.1 370.6,350.1 372.6,350.1 374.6,350.1 376.6,350.0 378.6,350.0 380.6,350.0 382.6,350.0 384.6,350.0 386.7,350.0 388.7,350.0 390.7,350.0 392.7,350.0 394.7,349.9 396.7,349.9 398.7,349.9 400.7,349.9 402.7,349.9 404.7,349.9 406.7,349.9 408.7,349.9 410.7,349.9 412.8,349.8 414.8,349.8 416.8,349.8 418.8,349.8 420.8,349.8 422.8,349.8 424.8,349.8 426.8,349.8 428.8,349.8 430.8,349.7 432.8,349.7 434.8,349.7 436.8,349.7 438.9,349.7 440.9,349.7 442.9,349.7 444.9,349.7 446.9,349.7 448.9,349.7 450.9,349.6 452.9,349.6 454.9,349.6 456.9,349.6 458.9,349.6 460.9,349.6 462.9,349.6 465.0,349.6 467.0,349.6 469.0,349.5 471.0,349.5 473.0,349.5 475.0,349.5 477.0,349.5" fill="none" stroke="#9eecf0" stroke-width="1.0" stroke-linejoin="round" stroke-linecap="round" />
<polyline points="416.0,349.3 416.5,349.3 417.0,349.3 417.5,349.3 418.0,349.3 418.5,349.3 419.0,349.3 419.5,349.3 420.0,349.3 420.5,349.3 421.0,349.3 421.5,349.3 422.0,349.3 422.5,349.3 423.0,349.3 423.5,349.3 424.0,349.3 424.5,349.3 425.0,349.2 425.5,349.2 426.0,349.2 426.5,349.1 427.0,349.1 427.5,349.0 428.0,348.9 428.5,348.8 429.0,348.7 429.5,348.5 430.0,348.3 430.5,348.0 431.0,347.6 431.5,347.2 432.0,346.7 432.5,346.1 433.0,345.3 433.5,344.4 434.0,343.4 434.5,342.2 435.0,340.8 435.5,339.3 436.0,337.5 436.5,335.5 437.0,333.4 437.5,331.0 438.0,328.4 438.5,325.6 439.0,322.7 439.5,319.7 440.0,316.5 440.5,313.3 441.0,310.2 441.5,307.0 442.0,304.0 442.5,301.2 443.0,298.7 443.5,296.4 444.0,294.6 444.5,293.1 445.0,292.2 445.5,291.9 446.0,292.2 446.5,293.1 447.0,294.6 447.5,296.4 448.0,298.7 448.5,301.2 449.0,304.0 449.5,307.0 450.0,310.2 450.5,313.3 451.0,316.5 451.5,319.7 452.0,322.7 452.5,325.6 453.0,328.4 453.5,331.0 454.0,333.4 454.5,335.5 455.0,337.5 455.5,339.3 456.0,340.8 456.5,342.2 457.0,343.4 457.5,344.4 458.0,345.3 458.5,346.1 459.0,346.7 459.5,347.2 460.0,347.6 460.5,348.0 461.0,348.3 461.5,348.5 462.0,348.7 462.5,348.8 463.0,348.9 463.5,349.0 464.0,349.1 464.5,349.1 465.0,349.2 465.5,349.2 466.0,349.2 466.5,349.3 467.0,349.3 467.5,349.3 468.0,349.3 468.5,349.3 469.0,349.3 469.5,349.3 470.0,349.3" fill="none" stroke="#2626c4" stroke-width="1.1" stroke-linejoin="round" stroke-linecap="round" />
<polyline points="430.0,349.3 430.5,349.3 431.0,349.3 431.5,349.3 432.0,349.3 432.5,349.3 433.0,349.3 433.5,349.3 434.0,349.3 434.5,349.3 435.0,349.3 435.5,349.3 436.0,349.3 436.5,349.3 437.0,349.3 437.5,349.3 438.0,349.3 438.5,349.3 439.0,349.2 439.5,349.2 440.0,349.2 440.5,349.1 441.0,349.1 441.5,349.0 442.0,348.9 442.5,348.8 443.0,348.6 443.5,348.4 444.0,348.1 444.5,347.8 445.0,347.4 445.5,346.8 446.0,346.2 446.5,345.3 447.0,344.4 447.5,343.2 448.0,341.7 448.5,340.0 449.0,338.0 449.5,335.7 450.0,333.1 450.5,330.0 451.0,326.5 451.5,322.6 452.0,318.3 452.5,313.6 453.0,308.4 453.5,302.9 454.0,297.0 454.5,290.8 455.0,284.4 455.5,277.8 456.0,271.2 456.5,264.7 457.0,258.4 457.5,252.5 458.0,247.0 458.5,242.1 459.0,237.9 459.5,234.6 460.0,232.3 460.5,231.1 461.0,231.3 461.5,232.7 462.0,235.2 462.5,238.7 463.0,243.0 463.5,248.0 464.0,253.6 464.5,259.7 465.0,266.0 465.5,272.6 466.0,279.1 466.5,285.7 467.0,292.0 467.5,298.2 468.0,304.0 468.5,309.5 469.0,314.6 469.5,319.2 470.0,323.4 470.5,327.3 471.0,330.6 471.5,333.6 472.0,336.2 472.5,338.5 473.0,340.4 473.5,342.0 474.0,343.4 474.5,344.6 475.0,345.5 475.5,346.3 476.0,346.9 476.5,347.5 477.0,347.9 477.5,348.2 478.0,348.5 478.5,348.7 479.0,348.8 479.5,348.9 480.0,349.0" fill="none" stroke="#2626c4" stroke-width="1.1" stroke-linejoin="round" stroke-linecap="round" />
<polyline points="292.3,331.7 292.7,336.4 293.1,341.2 293.5,345.9 293.9,350.7 294.3,350.6 294.7,350.6 295.1,350.6 295.5,350.6 295.9,350.6 296.3,350.6 296.7,350.6 297.1,350.6 297.5,350.6 297.9,350.6 298.3,350.6 298.7,350.6 299.1,350.6 299.5,350.5 299.9,350.5 300.3,350.5 300.7,350.5 301.1,350.5 301.5,350.5 301.9,350.5 302.3,350.4 302.7,350.4 303.1,350.4 303.5,350.4 303.9,350.4 304.3,350.3 304.7,350.3 305.1,350.3 305.5,350.3 305.9,350.2 306.3,350.2 306.7,350.2 307.1,350.2 307.5,350.1 307.9,350.1 308.3,350.0 308.7,350.0 309.1,350.0 309.5,349.9 309.9,349.9 310.3,349.8 310.7,349.8 311.1,349.7 311.5,349.7 311.9,349.6 312.3,349.5 312.7,349.5 313.1,349.4 313.5,349.3 313.9,349.3 314.3,349.2 314.7,349.1 315.1,349.0 315.5,348.9 315.9,348.8 316.3,348.7 316.7,348.6 317.1,348.5 317.5,348.4 317.9,348.3 318.3,348.2 318.7,348.1 319.1,347.9 319.5,347.8 319.9,347.7 320.3,347.5 320.7,347.4 321.1,347.2 321.5,347.1 321.9,346.9 322.3,346.7 322.7,346.5 323.1,346.4 323.5,346.2 323.9,346.0 324.3,345.8 324.7,345.6 325.1,345.4 325.5,345.1 325.9,344.9 326.3,344.7 326.7,344.4 327.1,344.2 327.5,343.9 327.9,343.7 328.3,343.4 328.7,343.1 329.1,342.8 329.5,342.5 329.9,342.2 330.3,341.9 330.7,341.6 331.1,341.2 331.5,340.9 331.9,340.5 332.3,340.2 332.7,339.8 333.1,339.4 333.5,339.0 333.9,338.5 334.3,338.1 334.7,337.7 335.1,337.2 335.5,336.7 335.9,336.2 336.3,335.7 336.7,335.2 337.1,334.6 337.5,334.0 337.9,333.4 338.3,332.8 338.7,332.2 339.1,331.5 339.5,330.8 339.9,330.1 340.3,329.3 340.7,328.5 341.1,327.7 341.5,326.9 341.9,326.0 342.3,325.0 342.7,324.1 343.1,323.1 343.5,322.1 343.9,321.0 344.3,319.9 344.7,318.7 345.1,317.5 345.5,316.3 345.9,315.0 346.3,313.7 346.7,312.3 347.1,310.9 347.5,309.5 347.9,308.0 348.3,306.4 348.7,304.9 349.1,303.2 349.5,301.6 349.9,299.9 350.3,298.2 350.7,296.4 351.1,294.6 351.5,292.8 351.9,291.0 352.3,289.1 352.7,287.3 353.1,285.4 353.5,283.5 353.9,281.6 354.3,279.7 354.7,277.8 355.1,275.9 355.5,274.0 355.9,272.1 356.3,270.3 356.7,268.4 357.1,266.6 357.5,264.9 357.9,263.1 358.3,261.5 358.7,259.8 359.1,258.2 359.5,256.7 359.9,255.2 360.3,253.8 360.7,252.5 361.1,251.2 361.5,250.0 361.9,248.9 362.3,247.8 362.7,246.8 363.1,245.9 363.5,245.1 363.9,244.4 364.3,243.8 364.7,243.2 365.1,242.7 365.5,242.3 365.9,241.9 366.3,241.7 366.7,241.5 367.1,241.4 367.5,241.3 367.9,241.3 368.3,241.3 368.7,241.4 369.1,241.6 369.5,241.8 369.9,242.1 370.3,242.4 370.7,242.9 371.1,243.4 371.5,244.0 371.9,244.7 372.3,245.5 372.7,246.3 373.1,247.2 373.5,248.2 373.9,249.3 374.3,250.4 374.7,251.7 375.1,252.9 375.5,254.3 375.9,255.7 376.3,257.2 376.7,258.7 377.1,260.3 377.5,261.9 377.9,263.6 378.3,265.3 378.7,267.0 379.1,268.8 379.5,270.6 379.9,272.4 380.3,274.2 380.7,276.1 381.1,277.9 381.5,279.8 381.9,281.6 382.3,283.5 382.7,285.3 383.1,287.1 383.5,288.9 383.9,290.7 384.3,292.5 384.7,294.2 385.1,295.9 385.5,297.6 385.9,299.2 386.3,300.8 386.7,302.4 387.1,303.9 387.5,305.4 387.9,306.9 388.3,308.3 388.7,309.7 389.1,311.0 389.5,312.3 389.9,313.6 390.3,314.8 390.7,316.0 391.1,317.1 391.5,318.2 391.9,319.3 392.3,320.3 392.7,321.3 393.1,322.3 393.5,323.2 393.9,324.1 394.3,324.9 394.7,325.8 395.1,326.6 395.5,327.3 395.9,328.1 396.3,328.8 396.7,329.5 397.1,330.2 397.5,330.8 397.9,331.4 398.3,332.0 398.7,332.6 399.1,333.2 399.5,333.7 399.9,334.3 400.3,334.8 400.7,335.3 401.1,335.8 401.5,336.2 401.9,336.7 402.3,337.1 402.7,337.6 403.1,338.0 403.5,338.4 403.9,338.8 404.3,339.2 404.7,339.6 405.1,340.0 405.5,340.3 405.9,340.7 406.3,341.0 406.7,341.4 407.1,341.7 407.5,342.0 407.9,342.3 408.3,342.6 408.7,342.9 409.1,343.2 409.5,343.5 409.9,343.7 410.3,344.0 410.7,344.3 411.1,344.5 411.5,344.8 411.9,345.0 412.3,345.2 412.7,345.4 413.1,345.7 413.5,345.9 413.9,346.1 414.3,346.3 414.7,346.4 415.1,346.6 415.5,346.8 415.9,347.0 416.3,347.1 416.7,347.3 417.1,347.4 417.5,347.6 417.9,347.7 418.3,347.8 418.7,348.0 419.1,348.1 419.5,348.2 419.9,348.3 420.3,348.4 420.7,348.4 421.1,348.5 421.5,348.6 421.9,348.6 422.3,348.7 422.7,348.7 423.1,348.7 423.5,348.8 423.9,348.8 424.3,348.7 424.7,348.7 425.1,348.6 425.5,348.6 425.9,348.5 426.3,348.4 426.7,348.2 427.1,348.1 427.5,347.9 427.9,347.6 428.3,347.4 428.7,347.1 429.1,346.7 429.5,346.4 429.9,345.9 430.3,345.5 430.7,344.9 431.1,344.3 431.5,343.7 431.9,343.0 432.3,342.2 432.7,341.4 433.1,340.5 433.5,339.5 433.9,338.4 434.3,337.2 434.7,336.0 435.1,334.7 435.5,333.3 435.9,331.8 436.3,330.2 436.7,328.6 437.1,326.8 437.5,325.0 437.9,323.1 438.3,321.1 438.7,319.1 439.1,317.0 439.5,314.8 439.9,312.6 440.3,310.4 440.7,308.1 441.1,305.8 441.5,303.5 441.9,301.3 442.3,299.0 442.7,296.8 443.1,294.7 443.5,292.6 443.9,290.6 444.3,288.8 444.7,287.0 445.1,285.4 445.5,284.0 445.9,282.8 446.3,281.9 446.7,281.3 447.1,281.0 447.5,280.9 447.9,280.8 448.3,280.8 448.7,280.9 449.1,281.0 449.5,281.1 449.9,281.1 450.3,281.0 450.7,280.9 451.1,280.6 451.5,280.2 451.9,279.7 452.3,278.9 452.7,278.0 453.1,276.8 453.5,275.4 453.9,273.8 454.3,272.0 454.7,269.9 455.1,267.6 455.5,265.1 455.9,262.4 456.3,259.5 456.7,256.4 457.1,253.2 457.5,249.9 457.9,246.6 458.3,243.3 458.7,240.0 459.1,236.9 459.5,234.0 459.9,231.4 460.3,229.4 460.7,228.2 461.1,229.2 461.5,232.0 461.9,235.5 462.3,239.5 462.7,243.8 463.1,248.4 463.5,253.2 463.9,258.0 464.3,262.9 464.7,267.8 465.1,272.6 465.5,277.3 465.9,281.9 466.3,286.4 466.7,290.7 467.1,294.9 467.5,298.8 467.9,302.6 468.3,306.2 468.7,309.6 469.1,312.8 469.5,315.8 469.9,318.7 470.3,321.3 470.7,323.8 471.1,326.0 471.5,328.1 471.9,330.1 472.3,331.9 472.7,333.6 473.1,335.1 473.5,336.5 473.9,337.7 474.3,338.9 474.7,339.9 475.1,340.9 475.5,341.8 475.9,342.5 476.3,343.2 476.7,343.9 477.1,344.5 477.5,345.0 477.9,345.4 478.3,345.8 478.7,346.2 479.1,346.5 479.5,346.8 479.9,347.1 480.3,347.3 480.7,347.5 481.1,347.7 481.5,347.8 481.9,348.0 482.3,348.1 482.7,348.2 483.1,348.3 483.5,348.4 483.9,348.4 484.3,348.5 484.7,348.6 485.1,348.6 485.5,348.6 485.9,348.7 486.3,348.7 486.7,348.7 487.1,348.8 487.5,348.8 487.9,348.8 488.3,348.8 488.7,348.8 489.1,348.8 489.5,348.8 489.9,348.8 490.3,348.8 490.7,348.8 491.1,348.9 491.5,348.9 491.9,348.9 492.3,348.9 492.7,348.9 493.1,348.9 493.5,348.9 493.9,348.9 494.3,348.9 494.7,348.9 495.1,348.9 495.5,348.9 495.9,348.9 496.3,348.9 496.7,348.9 497.1,348.9 497.5,348.9 497.9,348.9 498.3,348.9 498.7,348.9 499.1,348.9 499.5,348.9 499.9,348.9 500.3,348.9 500.7,348.9 501.1,348.9 501.5,348.9 501.9,348.9 502.3,348.9 502.7,348.9 503.1,348.9 503.5,348.8 503.9,348.8 504.3,348.5 504.7,346.9 505.1,345.4 505.5,343.8 505.9,342.3 506.3,340.8 506.7,339.2 507.1,340.0 507.5,341.5 507.9,343.1 508.3,344.6 508.7,346.2 509.1,347.7 509.5,348.8 509.9,349.3 510.3,349.3 510.7,349.3 511.1,349.3 511.5,349.3 511.9,349.3" fill="none" stroke="#151515" stroke-width="1.2" stroke-linejoin="round" stroke-linecap="round" />
<text x="0" y="0" font-size="8.4" font-weight="bold" text-anchor="middle" fill="#1a1a1a" stroke="#1a1a1a" stroke-width="0.32" transform="translate(268.60,286.90) rotate(-90)">Intensity(CPS)</text>
<text x="402.00" y="387.60" font-size="8.4" font-weight="bold" text-anchor="middle" fill="#1a1a1a"  stroke="#1a1a1a" stroke-width="0.32">Binding Energy (eV)</text>
<text x="298.50" y="212.20" font-size="8.3" font-weight="bold" text-anchor="start" fill="#1a1a1a"  stroke="#1a1a1a" stroke-width="0.32">(d)</text>
<text x="347.00" y="210.30" font-size="8.4" font-weight="bold" text-anchor="start" fill="#1a1a1a"  stroke="#1a1a1a" stroke-width="0.32">P 2p: InP after plasma activation</text>
<line x1="292.00" y1="230.40" x2="311.00" y2="230.40" stroke="#9eecf0" stroke-width="1.3" />
<text x="313.00" y="233.40" font-size="8.3" font-weight="normal" text-anchor="start" fill="#2a2a2a" >Background</text>
<line x1="292.00" y1="240.40" x2="311.00" y2="240.40" stroke="#151515" stroke-width="1.3" />
<text x="313.00" y="243.40" font-size="8.3" font-weight="normal" text-anchor="start" fill="#2a2a2a" >Envelope</text>
<text x="372.80" y="228.60" font-size="8.3" font-weight="normal" text-anchor="start" fill="#2a2a2a" >InPO<tspan font-size="58%" dx="0.4" dy="2.6">4</tspan><tspan dx="0.3" dy="-2.6"> : 60.6%</tspan></text>
<text x="387.50" y="240.70" font-size="8.3" font-weight="normal" text-anchor="start" fill="#2a2a2a" >133.9 eV</text>
<line x1="367.80" y1="229.00" x2="367.80" y2="314.60" stroke="#151515" stroke-width="0.9" stroke-dasharray="4,1.5,1,1.5"/>
<polygon points="367.80,223.50 366.10,228.50 369.50,228.50" fill="#151515"/>
<line x1="374.60" y1="245.30" x2="434.20" y2="245.30" stroke="#151515" stroke-width="0.9" stroke-dasharray="4,1.5,1,1.5"/>
<line x1="445.20" y1="247.30" x2="445.20" y2="305.00" stroke="#151515" stroke-width="0.9" stroke-dasharray="4,1.5,1,1.5"/>
<line x1="445.20" y1="247.30" x2="460.80" y2="247.30" stroke="#151515" stroke-width="0.9" stroke-dasharray="4,1.5,1,1.5"/>
<line x1="460.80" y1="216.00" x2="460.80" y2="304.00" stroke="#151515" stroke-width="0.9" stroke-dasharray="4,1.5,1,1.5"/>
<polygon points="460.80,210.50 459.10,215.50 462.50,215.50" fill="#151515"/>
<line x1="465.30" y1="228.00" x2="508.60" y2="228.00" stroke="#2626c4" stroke-width="1.0" stroke-dasharray="4,1.5,1,1.5"/>
<text x="465.30" y="226.00" font-size="8.3" font-weight="normal" text-anchor="start" fill="#2a2a2a" >InP : 39.4%</text>
<rect x="32.50" y="392.30" width="218.80" height="162.90" fill="none" stroke="#585858" stroke-width="1.25"/>
<line x1="32.50" y1="555.20" x2="32.50" y2="552.00" stroke="#585858" stroke-width="0.9" />
<text x="32.50" y="566.00" font-size="8.5" font-weight="bold" text-anchor="middle" fill="#1a1a1a"  stroke="#1a1a1a" stroke-width="0.32">456</text>
<line x1="46.17" y1="555.20" x2="46.17" y2="553.40" stroke="#585858" stroke-width="0.9" />
<line x1="59.85" y1="555.20" x2="59.85" y2="552.00" stroke="#585858" stroke-width="0.9" />
<text x="59.85" y="566.00" font-size="8.5" font-weight="bold" text-anchor="middle" fill="#1a1a1a"  stroke="#1a1a1a" stroke-width="0.32">454</text>
<line x1="73.53" y1="555.20" x2="73.53" y2="553.40" stroke="#585858" stroke-width="0.9" />
<line x1="87.20" y1="555.20" x2="87.20" y2="552.00" stroke="#585858" stroke-width="0.9" />
<text x="87.20" y="566.00" font-size="8.5" font-weight="bold" text-anchor="middle" fill="#1a1a1a"  stroke="#1a1a1a" stroke-width="0.32">452</text>
<line x1="100.88" y1="555.20" x2="100.88" y2="553.40" stroke="#585858" stroke-width="0.9" />
<line x1="114.55" y1="555.20" x2="114.55" y2="552.00" stroke="#585858" stroke-width="0.9" />
<text x="114.55" y="566.00" font-size="8.5" font-weight="bold" text-anchor="middle" fill="#1a1a1a"  stroke="#1a1a1a" stroke-width="0.32">450</text>
<line x1="128.23" y1="555.20" x2="128.23" y2="553.40" stroke="#585858" stroke-width="0.9" />
<line x1="141.90" y1="555.20" x2="141.90" y2="552.00" stroke="#585858" stroke-width="0.9" />
<text x="141.90" y="566.00" font-size="8.5" font-weight="bold" text-anchor="middle" fill="#1a1a1a"  stroke="#1a1a1a" stroke-width="0.32">448</text>
<line x1="155.57" y1="555.20" x2="155.57" y2="553.40" stroke="#585858" stroke-width="0.9" />
<line x1="169.25" y1="555.20" x2="169.25" y2="552.00" stroke="#585858" stroke-width="0.9" />
<text x="169.25" y="566.00" font-size="8.5" font-weight="bold" text-anchor="middle" fill="#1a1a1a"  stroke="#1a1a1a" stroke-width="0.32">446</text>
<line x1="182.93" y1="555.20" x2="182.93" y2="553.40" stroke="#585858" stroke-width="0.9" />
<line x1="196.60" y1="555.20" x2="196.60" y2="552.00" stroke="#585858" stroke-width="0.9" />
<text x="196.60" y="566.00" font-size="8.5" font-weight="bold" text-anchor="middle" fill="#1a1a1a"  stroke="#1a1a1a" stroke-width="0.32">444</text>
<line x1="210.28" y1="555.20" x2="210.28" y2="553.40" stroke="#585858" stroke-width="0.9" />
<line x1="223.95" y1="555.20" x2="223.95" y2="552.00" stroke="#585858" stroke-width="0.9" />
<text x="223.95" y="566.00" font-size="8.5" font-weight="bold" text-anchor="middle" fill="#1a1a1a"  stroke="#1a1a1a" stroke-width="0.32">442</text>
<line x1="237.62" y1="555.20" x2="237.62" y2="553.40" stroke="#585858" stroke-width="0.9" />
<line x1="251.30" y1="555.20" x2="251.30" y2="552.00" stroke="#585858" stroke-width="0.9" />
<text x="251.30" y="566.00" font-size="8.5" font-weight="bold" text-anchor="middle" fill="#1a1a1a"  stroke="#1a1a1a" stroke-width="0.32">440</text>
<line x1="32.50" y1="555.20" x2="35.70" y2="555.20" stroke="#585858" stroke-width="0.9" />
<line x1="32.50" y1="546.55" x2="34.30" y2="546.55" stroke="#585858" stroke-width="0.9" />
<line x1="32.50" y1="537.91" x2="35.70" y2="537.91" stroke="#585858" stroke-width="0.9" />
<line x1="32.50" y1="529.26" x2="34.30" y2="529.26" stroke="#585858" stroke-width="0.9" />
<line x1="32.50" y1="520.61" x2="35.70" y2="520.61" stroke="#585858" stroke-width="0.9" />
<line x1="32.50" y1="511.97" x2="34.30" y2="511.97" stroke="#585858" stroke-width="0.9" />
<line x1="32.50" y1="503.32" x2="35.70" y2="503.32" stroke="#585858" stroke-width="0.9" />
<line x1="32.50" y1="494.67" x2="34.30" y2="494.67" stroke="#585858" stroke-width="0.9" />
<line x1="32.50" y1="486.03" x2="35.70" y2="486.03" stroke="#585858" stroke-width="0.9" />
<line x1="32.50" y1="477.38" x2="34.30" y2="477.38" stroke="#585858" stroke-width="0.9" />
<line x1="32.50" y1="468.74" x2="35.70" y2="468.74" stroke="#585858" stroke-width="0.9" />
<line x1="32.50" y1="460.09" x2="34.30" y2="460.09" stroke="#585858" stroke-width="0.9" />
<line x1="32.50" y1="451.44" x2="35.70" y2="451.44" stroke="#585858" stroke-width="0.9" />
<line x1="32.50" y1="442.80" x2="34.30" y2="442.80" stroke="#585858" stroke-width="0.9" />
<line x1="32.50" y1="434.15" x2="35.70" y2="434.15" stroke="#585858" stroke-width="0.9" />
<line x1="32.50" y1="425.50" x2="34.30" y2="425.50" stroke="#585858" stroke-width="0.9" />
<line x1="32.50" y1="416.86" x2="35.70" y2="416.86" stroke="#585858" stroke-width="0.9" />
<line x1="32.50" y1="408.21" x2="34.30" y2="408.21" stroke="#585858" stroke-width="0.9" />
<line x1="32.50" y1="399.56" x2="35.70" y2="399.56" stroke="#585858" stroke-width="0.9" />
<text x="28.40" y="558.26" font-size="8.5" font-weight="bold" text-anchor="end" fill="#1a1a1a"  stroke="#1a1a1a" stroke-width="0.32">0</text>
<text x="28.40" y="540.97" font-size="8.5" font-weight="bold" text-anchor="end" fill="#1a1a1a"  stroke="#1a1a1a" stroke-width="0.32">5k</text>
<text x="28.40" y="523.67" font-size="8.5" font-weight="bold" text-anchor="end" fill="#1a1a1a"  stroke="#1a1a1a" stroke-width="0.32">10k</text>
<text x="28.40" y="506.38" font-size="8.5" font-weight="bold" text-anchor="end" fill="#1a1a1a"  stroke="#1a1a1a" stroke-width="0.32">15k</text>
<text x="28.40" y="489.09" font-size="8.5" font-weight="bold" text-anchor="end" fill="#1a1a1a"  stroke="#1a1a1a" stroke-width="0.32">20k</text>
<text x="28.40" y="471.80" font-size="8.5" font-weight="bold" text-anchor="end" fill="#1a1a1a"  stroke="#1a1a1a" stroke-width="0.32">25k</text>
<text x="28.40" y="454.50" font-size="8.5" font-weight="bold" text-anchor="end" fill="#1a1a1a"  stroke="#1a1a1a" stroke-width="0.32">30k</text>
<text x="28.40" y="437.21" font-size="8.5" font-weight="bold" text-anchor="end" fill="#1a1a1a"  stroke="#1a1a1a" stroke-width="0.32">35k</text>
<text x="28.40" y="419.92" font-size="8.5" font-weight="bold" text-anchor="end" fill="#1a1a1a"  stroke="#1a1a1a" stroke-width="0.32">40k</text>
<text x="28.40" y="402.62" font-size="8.5" font-weight="bold" text-anchor="end" fill="#1a1a1a"  stroke="#1a1a1a" stroke-width="0.32">45k</text>
<polyline points="54.0,540.9 55.0,540.9 56.0,540.9 57.0,540.9 58.0,540.9 59.0,541.0 60.0,541.0 61.0,541.0 62.0,541.0 63.0,541.0 64.0,541.1 65.0,541.1 66.0,541.1 67.0,541.2 68.0,541.2 69.0,541.3 70.0,541.4 71.0,541.5 72.0,541.6 73.0,541.7 74.0,541.9 75.0,542.0 76.0,542.2 77.0,542.4 78.0,542.6 79.0,542.9 80.0,543.1 81.0,543.4 82.0,543.6 83.0,543.8 84.0,544.1 85.0,544.3 86.0,544.5 87.0,544.7 88.0,544.8 89.0,545.0 90.0,545.1 91.0,545.2 92.0,545.3 93.0,545.4 94.0,545.5 95.0,545.5 96.0,545.6 97.0,545.6 98.0,545.6 99.0,545.7 100.0,545.7 101.0,545.7 102.0,545.7 103.0,545.7 104.0,545.8" fill="none" stroke="#9eecf0" stroke-width="1.0" stroke-linejoin="round" stroke-linecap="round" /><polyline points="156.0,545.8 157.0,545.8 158.0,545.8 159.0,545.8 160.0,545.8 161.0,545.8 162.0,545.8 163.0,545.8 164.0,545.8 165.0,545.8 166.0,545.8 167.0,545.9 168.0,545.9 169.0,545.9 170.0,545.9 171.0,545.9 172.0,545.9 173.0,546.0 174.0,546.0 175.0,546.0 176.0,546.1 177.0,546.1 178.0,546.2 179.0,546.2 180.0,546.3 181.0,546.4 182.0,546.5 183.0,546.6 184.0,546.7 185.0,546.7 186.0,546.8 187.0,546.9 188.0,547.0 189.0,547.1 190.0,547.2 191.0,547.3 192.0,547.3 193.0,547.4 194.0,547.4 195.0,547.5 196.0,547.5 197.0,547.5 198.0,547.6 199.0,547.6 200.0,547.6 201.0,547.6 202.0,547.6 203.0,547.6 204.0,547.7 205.0,547.7 206.0,547.7 207.0,547.7 208.0,547.7 209.0,547.7 210.0,547.7 211.0,547.7 212.0,547.7" fill="none" stroke="#9eecf0" stroke-width="1.0" stroke-linejoin="round" stroke-linecap="round" />
<polyline points="70.0,541.4 70.5,541.4 71.0,541.5 71.5,541.5 72.0,541.6 72.5,541.6 73.0,541.7 73.5,541.7 74.0,541.8 74.5,541.9 75.0,541.9 75.5,542.0 76.0,542.1 76.5,542.1 77.0,542.2 77.5,542.3 78.0,542.3 78.5,542.4 79.0,542.4 79.5,542.4 80.0,542.5 80.5,542.5 81.0,542.5 81.5,542.4 82.0,542.4 82.5,542.4 83.0,542.3 83.5,542.2 84.0,542.1 84.5,542.0 85.0,541.8 85.5,541.7 86.0,541.5 86.5,541.4 87.0,541.2 87.5,541.1 88.0,540.9 88.5,540.8 89.0,540.7 89.5,540.6 90.0,540.6 90.5,540.6 91.0,540.6 91.5,540.7 92.0,540.9 92.5,541.1 93.0,541.3 93.5,541.6 94.0,541.8 94.5,542.1 95.0,542.4 95.5,542.7 96.0,542.9 96.5,543.2 97.0,543.4 97.5,543.7 98.0,543.9 98.5,544.1 99.0,544.3 99.5,544.5 100.0,544.7 100.5,544.8 101.0,545.0 101.5,545.1 102.0,545.2 102.5,545.3 103.0,545.4 103.5,545.4 104.0,545.5" fill="none" stroke="#2626c4" stroke-width="1.1" stroke-linejoin="round" stroke-linecap="round" /><polyline points="172.0,545.9 172.5,545.9 173.0,545.9 173.5,546.0 174.0,546.0 174.5,546.0 175.0,546.0 175.5,546.0 176.0,546.0 176.5,546.0 177.0,546.0 177.5,546.0 178.0,546.0 178.5,546.0 179.0,546.0 179.5,546.0 180.0,545.9 180.5,545.9 181.0,545.8 181.5,545.7 182.0,545.6 182.5,545.5 183.0,545.4 183.5,545.2 184.0,545.0 184.5,544.8 185.0,544.5 185.5,544.3 186.0,543.9 186.5,543.6 187.0,543.2 187.5,542.9 188.0,542.4 188.5,542.0 189.0,541.6 189.5,541.1 190.0,540.7 190.5,540.3 191.0,539.9 191.5,539.5 192.0,539.2 192.5,538.9 193.0,538.7 193.5,538.6 194.0,538.6 194.5,538.8 195.0,539.0 195.5,539.3 196.0,539.7 196.5,540.1 197.0,540.5 197.5,541.0 198.0,541.5 198.5,542.0 199.0,542.4 199.5,542.9 200.0,543.4 200.5,543.8 201.0,544.3 201.5,544.7 202.0,545.0 202.5,545.4 203.0,545.7 203.5,546.0 204.0,546.2 204.5,546.4 205.0,546.6 205.5,546.8 206.0,546.9 206.5,547.1 207.0,547.2 207.5,547.3 208.0,547.3 208.5,547.4 209.0,547.5 209.5,547.5 210.0,547.5 210.5,547.6 211.0,547.6 211.5,547.6 212.0,547.6" fill="none" stroke="#2626c4" stroke-width="1.1" stroke-linejoin="round" stroke-linecap="round" />
<polyline points="54.0,540.9 54.5,540.9 55.0,540.9 55.5,540.9 56.0,540.9 56.5,540.9 57.0,540.9 57.5,540.9 58.0,540.8 58.5,540.8 59.0,540.8 59.5,540.7 60.0,540.7 60.5,540.6 61.0,540.6 61.5,540.5 62.0,540.4 62.5,540.3 63.0,540.1 63.5,539.9 64.0,539.7 64.5,539.5 65.0,539.2 65.5,538.8 66.0,538.5 66.5,538.0 67.0,537.5 67.5,536.9 68.0,536.2 68.5,535.4 69.0,534.6 69.5,533.6 70.0,532.6 70.5,531.4 71.0,530.1 71.5,528.6 72.0,527.1 72.5,525.4 73.0,523.6 73.5,521.7 74.0,519.6 74.5,517.5 75.0,515.2 75.5,512.9 76.0,510.5 76.5,508.1 77.0,505.6 77.5,503.1 78.0,500.7 78.5,498.3 79.0,495.9 79.5,493.7 80.0,491.7 80.5,489.8 81.0,488.2 81.5,486.8 82.0,485.7 82.5,484.9 83.0,484.5 83.5,484.6 84.0,485.1 84.5,486.1 85.0,487.3 85.5,488.9 86.0,490.7 86.5,492.8 87.0,495.0 87.5,497.4 88.0,499.9 88.5,502.4 89.0,505.1 89.5,507.7 90.0,510.3 90.5,513.0 91.0,515.5 91.5,518.0 92.0,520.4 92.5,522.7 93.0,524.9 93.5,526.9 94.0,528.8 94.5,530.6 95.0,532.3 95.5,533.8 96.0,535.2 96.5,536.5 97.0,537.7 97.5,538.7 98.0,539.6 98.5,540.5 99.0,541.2 99.5,541.9 100.0,542.4 100.5,542.9 101.0,543.4 101.5,543.7 102.0,544.1 102.5,544.3 103.0,544.6 103.5,544.8 104.0,545.0" fill="none" stroke="#dc2830" stroke-width="1.1" stroke-linejoin="round" stroke-linecap="round" /><polyline points="156.0,545.8 156.5,545.8 157.0,545.8 157.5,545.8 158.0,545.8 158.5,545.8 159.0,545.8 159.5,545.7 160.0,545.7 160.5,545.7 161.0,545.7 161.5,545.6 162.0,545.6 162.5,545.5 163.0,545.5 163.5,545.4 164.0,545.3 164.5,545.2 165.0,545.0 165.5,544.9 166.0,544.7 166.5,544.4 167.0,544.1 167.5,543.8 168.0,543.4 168.5,542.9 169.0,542.4 169.5,541.8 170.0,541.0 170.5,540.2 171.0,539.3 171.5,538.2 172.0,537.0 172.5,535.6 173.0,534.1 173.5,532.4 174.0,530.5 174.5,528.5 175.0,526.2 175.5,523.7 176.0,521.1 176.5,518.2 177.0,515.2 177.5,512.0 178.0,508.6 178.5,505.0 179.0,501.3 179.5,497.6 180.0,493.7 180.5,489.8 181.0,485.8 181.5,481.9 182.0,478.1 182.5,474.4 183.0,470.9 183.5,467.6 184.0,464.6 184.5,461.9 185.0,459.7 185.5,457.8 186.0,456.5 186.5,455.7 187.0,455.7 187.5,456.4 188.0,457.7 188.5,459.6 189.0,461.8 189.5,464.5 190.0,467.5 190.5,470.9 191.0,474.4 191.5,478.2 192.0,482.0 192.5,486.0 193.0,490.0 193.5,494.0 194.0,497.9 194.5,501.8 195.0,505.6 195.5,509.2 196.0,512.7 196.5,516.0 197.0,519.1 197.5,522.0 198.0,524.7 198.5,527.3 199.0,529.6 199.5,531.7 200.0,533.7 200.5,535.4 201.0,537.0 201.5,538.4 202.0,539.7 202.5,540.8 203.0,541.8 203.5,542.6 204.0,543.4 204.5,544.1 205.0,544.6 205.5,545.1 206.0,545.5 206.5,545.9 207.0,546.2 207.5,546.5 208.0,546.7 208.5,546.9 209.0,547.0 209.5,547.1 210.0,547.2 210.5,547.3 211.0,547.4 211.5,547.5 212.0,547.5" fill="none" stroke="#dc2830" stroke-width="1.1" stroke-linejoin="round" stroke-linecap="round" />
<polyline points="54.0,539.8 54.5,539.6 55.0,539.4 55.5,539.1 56.0,538.9 56.5,538.5 57.0,538.2 57.5,537.8 58.0,537.3 58.5,536.8 59.0,536.3 59.5,535.6 60.0,534.9 60.5,534.1 61.0,533.3 61.5,532.4 62.0,531.3 62.5,530.2 63.0,529.0 63.5,527.8 64.0,526.4 64.5,524.9 65.0,523.4 65.5,521.7 66.0,520.0 66.5,518.2 67.0,516.4 67.5,514.4 68.0,512.5 68.5,510.6 69.0,508.6 69.5,506.7 70.0,504.8 70.5,503.0 71.0,501.3 71.5,499.7 72.0,498.3 72.5,497.2 73.0,496.4 73.5,495.9 74.0,496.2 74.5,497.1 75.0,498.3 75.5,499.7 76.0,501.3 76.5,503.1 77.0,505.1 77.5,507.1 78.0,509.1 78.5,511.2 79.0,513.3 79.5,515.4 80.0,517.5 80.5,519.5 81.0,521.5 81.5,523.4 82.0,525.2 82.5,526.9 83.0,528.6 83.5,530.1 84.0,531.6 84.5,532.9 85.0,534.2 85.5,535.3 86.0,536.4 86.5,537.4 87.0,538.3 87.5,539.1 88.0,539.9 88.5,540.6 89.0,541.2 89.5,541.7 90.0,542.2 90.5,542.6 91.0,543.0 91.5,543.4 92.0,543.7 92.5,543.9 93.0,544.2 93.5,544.4 94.0,544.6 94.5,544.7 95.0,544.9 95.5,545.0 96.0,545.1 96.5,545.2 97.0,545.3 97.5,545.4 98.0,545.4 98.5,545.5 99.0,545.5 99.5,545.6 100.0,545.6 100.5,545.6 101.0,545.6 101.5,545.7 102.0,545.7 102.5,545.7 103.0,545.7 103.5,545.7 104.0,545.7" fill="none" stroke="#6a2c88" stroke-width="1.1" stroke-linejoin="round" stroke-linecap="round" /><polyline points="156.0,544.8 156.5,544.6 157.0,544.4 157.5,544.2 158.0,543.9 158.5,543.6 159.0,543.3 159.5,542.9 160.0,542.4 160.5,541.9 161.0,541.3 161.5,540.7 162.0,539.9 162.5,539.1 163.0,538.2 163.5,537.2 164.0,536.0 164.5,534.8 165.0,533.4 165.5,531.9 166.0,530.3 166.5,528.6 167.0,526.7 167.5,524.6 168.0,522.5 168.5,520.2 169.0,517.7 169.5,515.2 170.0,512.5 170.5,509.7 171.0,506.9 171.5,503.9 172.0,501.0 172.5,498.0 173.0,495.0 173.5,492.1 174.0,489.3 174.5,486.6 175.0,484.1 175.5,481.8 176.0,479.9 176.5,478.4 177.0,477.4 177.5,477.3 178.0,478.2 178.5,479.7 179.0,481.6 179.5,483.9 180.0,486.4 180.5,489.1 181.0,491.9 181.5,494.9 182.0,497.9 182.5,500.9 183.0,504.0 183.5,507.0 184.0,509.9 184.5,512.8 185.0,515.5 185.5,518.2 186.0,520.7 186.5,523.1 187.0,525.3 187.5,527.4 188.0,529.4 188.5,531.2 189.0,532.9 189.5,534.5 190.0,535.9 190.5,537.2 191.0,538.4 191.5,539.5 192.0,540.4 192.5,541.3 193.0,542.1 193.5,542.8 194.0,543.4 194.5,544.0 195.0,544.5 195.5,544.9 196.0,545.3 196.5,545.6 197.0,545.9 197.5,546.1 198.0,546.4 198.5,546.6 199.0,546.7 199.5,546.9 200.0,547.0 200.5,547.1 201.0,547.2 201.5,547.3 202.0,547.3 202.5,547.4 203.0,547.4 203.5,547.5 204.0,547.5 204.5,547.5 205.0,547.6 205.5,547.6 206.0,547.6 206.5,547.6 207.0,547.6 207.5,547.6 208.0,547.7 208.5,547.7 209.0,547.7 209.5,547.7 210.0,547.7 210.5,547.7 211.0,547.7 211.5,547.7 212.0,547.7" fill="none" stroke="#6a2c88" stroke-width="1.1" stroke-linejoin="round" stroke-linecap="round" />
<polyline points="33.1,540.9 33.6,540.9 34.1,540.9 34.6,540.9 35.1,540.9 35.6,540.9 36.1,540.9 36.6,540.9 37.1,540.9 37.6,540.9 38.1,540.9 38.6,540.9 39.1,540.9 39.6,540.9 40.1,540.9 40.6,540.9 41.1,540.9 41.6,540.9 42.1,540.9 42.6,540.9 43.1,540.9 43.6,540.9 44.1,540.9 44.6,540.9 45.1,540.9 45.6,540.9 46.1,540.9 46.6,540.9 47.1,540.8 47.6,540.8 48.1,540.8 48.6,540.8 49.1,540.7 49.6,540.7 50.1,540.6 50.6,540.6 51.1,540.5 51.6,540.4 52.1,540.3 52.6,540.2 53.1,540.1 53.6,540.0 54.1,539.8 54.6,539.7 55.1,539.5 55.6,539.3 56.1,539.0 56.6,538.7 57.1,538.4 57.6,538.1 58.1,537.7 58.6,537.3 59.1,536.8 59.6,536.3 60.1,535.7 60.6,535.1 61.1,534.4 61.6,533.7 62.1,532.9 62.6,532.0 63.1,531.0 63.6,530.0 64.1,528.8 64.6,527.6 65.1,526.3 65.6,524.9 66.1,523.4 66.6,521.8 67.1,520.0 67.6,518.2 68.1,516.3 68.6,514.2 69.1,512.1 69.6,509.8 70.1,507.5 70.6,505.0 71.1,502.5 71.6,499.8 72.1,497.1 72.6,494.3 73.1,491.5 73.6,488.6 74.1,485.6 74.6,482.7 75.1,479.7 75.6,476.8 76.1,473.9 76.6,471.1 77.1,468.4 77.6,465.8 78.1,463.4 78.6,461.2 79.1,459.3 79.6,458.0 80.1,457.6 80.6,457.6 81.1,457.8 81.6,458.3 82.1,459.0 82.6,459.7 83.1,460.7 83.6,461.8 84.1,463.1 84.6,464.7 85.1,468.2 85.6,472.2 86.1,476.3 86.6,480.5 87.1,484.7 87.6,488.7 88.1,492.7 88.6,496.5 89.1,500.1 89.6,503.6 90.1,506.9 90.6,510.0 91.1,512.9 91.6,515.6 92.1,518.2 92.6,520.6 93.1,522.8 93.6,524.9 94.1,526.8 94.6,528.6 95.1,530.2 95.6,531.7 96.1,533.1 96.6,534.4 97.1,535.5 97.6,536.6 98.1,537.5 98.6,538.4 99.1,539.2 99.6,539.9 100.1,540.5 100.6,541.1 101.1,541.7 101.6,542.1 102.1,542.6 102.6,542.9 103.1,543.3 103.6,543.6 104.1,543.9 104.6,544.1 105.1,544.3 105.6,544.5 106.1,544.7 106.6,544.9 107.1,545.0 107.6,545.1 108.1,545.2 108.6,545.3 109.1,545.4 109.6,545.5 110.1,545.6 110.6,545.6 111.1,545.7 111.6,545.7 112.1,545.8 112.6,545.8 113.1,545.8 113.6,545.9 114.1,545.9 114.6,545.9 115.1,545.9 115.6,546.0 116.1,546.0 116.6,546.0 117.1,546.0 117.6,546.0 118.1,546.0 118.6,546.0 119.1,546.1 119.6,546.1 120.1,546.1 120.6,546.1 121.1,546.1 121.6,546.1 122.1,546.1 122.6,546.1 123.1,546.1 123.6,546.1 124.1,546.1 124.6,546.1 125.1,546.1 125.6,546.1 126.1,546.1 126.6,546.1 127.1,546.1 127.6,546.1 128.1,546.1 128.6,546.1 129.1,546.1 129.6,546.1 130.1,546.1 130.6,546.2 131.1,546.2 131.6,546.2 132.1,546.2 132.6,546.2 133.1,546.2 133.6,546.2 134.1,546.2 134.6,546.2 135.1,546.2 135.6,546.2 136.1,546.2 136.6,546.2 137.1,546.2 137.6,546.2 138.1,546.2 138.6,546.2 139.1,546.2 139.6,546.2 140.1,546.2 140.6,546.2 141.1,546.2 141.6,546.2 142.2,546.2 142.7,546.1 143.2,546.1 143.7,546.1 144.2,546.1 144.7,546.1 145.2,546.1 145.7,546.1 146.2,546.1 146.7,546.1 147.2,546.0 147.7,546.0 148.2,546.0 148.7,546.0 149.2,545.9 149.7,545.9 150.2,545.8 150.7,545.8 151.2,545.7 151.7,545.6 152.2,545.6 152.7,545.5 153.2,545.4 153.7,545.3 154.2,545.1 154.7,545.0 155.2,544.8 155.7,544.7 156.2,544.5 156.7,544.2 157.2,544.0 157.7,543.7 158.2,543.4 158.7,543.0 159.2,542.7 159.7,542.2 160.2,541.8 160.7,541.3 161.2,540.7 161.7,540.1 162.2,539.4 162.7,538.7 163.2,537.9 163.7,537.0 164.2,536.0 164.7,535.0 165.2,533.8 165.7,532.6 166.2,531.2 166.7,529.8 167.2,528.2 167.7,526.6 168.2,524.8 168.7,522.8 169.2,520.8 169.7,518.6 170.2,516.2 170.7,513.7 171.2,511.1 171.7,508.3 172.2,505.3 172.7,502.2 173.2,498.8 173.7,495.4 174.2,491.7 174.7,487.9 175.2,483.9 175.7,479.8 176.2,475.5 176.7,471.1 177.2,466.5 177.7,461.9 178.2,457.1 178.7,452.3 179.2,447.5 179.7,442.7 180.2,437.9 180.7,433.3 181.2,428.9 181.7,424.8 182.2,421.1 182.7,418.1 183.2,416.8 183.7,416.4 184.2,416.5 184.7,417.1 185.2,418.1 185.7,419.5 186.2,421.2 186.7,423.3 187.2,425.7 187.7,428.4 188.2,431.4 188.7,434.8 189.2,438.6 189.7,442.7 190.2,447.1 190.7,451.7 191.2,456.5 191.7,461.3 192.2,466.3 192.7,471.2 193.2,476.1 193.7,481.0 194.2,485.8 194.7,490.5 195.2,495.0 195.7,499.3 196.2,503.4 196.7,507.3 197.2,511.0 197.7,514.4 198.2,517.6 198.7,520.6 199.2,523.4 199.7,525.9 200.2,528.2 200.7,530.3 201.2,532.2 201.7,533.9 202.2,535.5 202.7,536.8 203.2,538.1 203.7,539.2 204.2,540.2 204.7,541.0 205.2,541.8 205.7,542.5 206.2,543.1 206.7,543.6 207.2,544.1 207.7,544.5 208.2,544.9 208.7,545.2 209.2,545.5 209.7,545.7 210.2,545.9 210.7,546.1 211.2,546.3 211.7,546.4 212.2,546.6 212.7,546.7 213.2,546.8 213.7,546.9 214.2,547.0 214.7,547.0 215.2,547.1 215.7,547.2 216.2,547.2 216.7,547.3 217.2,547.3 217.7,547.3 218.2,547.4 218.7,547.4 219.2,547.4 219.7,547.4 220.2,547.4 220.7,547.5 221.2,547.5 221.7,547.5 222.2,547.5 222.7,547.5 223.2,547.5 223.7,547.5 224.2,547.5 224.7,547.5 225.2,547.5 225.7,547.5 226.2,547.5 226.7,547.5 227.2,547.5 227.7,547.5 228.2,547.5 228.7,547.5 229.2,547.6 229.7,547.6 230.2,547.6 230.7,547.6 231.2,547.6 231.7,547.6 232.2,547.6 232.7,547.6 233.2,547.6 233.7,547.6 234.2,547.6 234.7,547.6 235.2,547.6 235.7,547.6 236.2,547.6 236.7,547.6 237.2,547.6 237.7,547.6 238.2,547.6 238.7,547.6 239.2,547.6 239.7,547.6 240.2,547.6 240.7,547.6 241.2,547.6 241.7,547.6 242.2,547.6 242.7,547.6 243.2,547.6 243.7,547.6 244.2,547.6 244.7,547.6 245.2,547.6 245.7,547.6 246.2,547.6 246.7,547.6 247.2,547.6 247.7,547.6 248.2,547.6 248.7,547.6 249.2,547.6 249.7,547.6 250.2,547.6 250.7,547.6" fill="none" stroke="#151515" stroke-width="1.3" stroke-linejoin="round" stroke-linecap="round" />
<text x="0" y="0" font-size="8.2" font-weight="bold" text-anchor="middle" fill="#1a1a1a" stroke="#1a1a1a" stroke-width="0.32" transform="translate(8.20,479.00) rotate(-90)">Intensity(CPS)</text>
<text x="142.00" y="577.60" font-size="8.4" font-weight="bold" text-anchor="middle" fill="#1a1a1a"  stroke="#1a1a1a" stroke-width="0.32">Binding Energy (eV)</text>
<text x="40.60" y="402.90" font-size="8.3" font-weight="bold" text-anchor="start" fill="#1a1a1a"  stroke="#1a1a1a" stroke-width="0.32">(e)</text>
<text x="105.00" y="400.00" font-size="8.4" font-weight="bold" text-anchor="start" fill="#1a1a1a"  stroke="#1a1a1a" stroke-width="0.32">In 3d: de-bonded InP</text>
<line x1="38.70" y1="410.40" x2="54.60" y2="410.40" stroke="#2626c4" stroke-width="1.3" />
<text x="57.30" y="413.40" font-size="8.3" font-weight="normal" text-anchor="start" fill="#2a2a2a" >In-P : 5.5%</text>
<line x1="38.70" y1="420.20" x2="54.60" y2="420.20" stroke="#dc2830" stroke-width="1.3" />
<text x="57.30" y="423.20" font-size="8.3" font-weight="normal" text-anchor="start" fill="#2a2a2a" >In-O : 50.3%</text>
<line x1="38.70" y1="435.00" x2="54.60" y2="435.00" stroke="#6a2c88" stroke-width="1.3" />
<text x="57.30" y="437.80" font-size="8.3" font-weight="normal" text-anchor="start" fill="#2a2a2a" >In-PO<tspan font-size="6.3" dy="-5">3-</tspan><tspan font-size="6.3" x="79.6" dy="7.3">4</tspan><tspan x="86.4" dy="-2.3"> : 44.2%</tspan></text>
<line x1="38.70" y1="448.40" x2="54.60" y2="448.40" stroke="#9eecf0" stroke-width="1.3" />
<text x="57.30" y="451.40" font-size="8.3" font-weight="normal" text-anchor="start" fill="#2a2a2a" >Background</text>
<line x1="105.80" y1="448.40" x2="121.50" y2="448.40" stroke="#151515" stroke-width="1.3" />
<text x="124.20" y="451.40" font-size="8.3" font-weight="normal" text-anchor="start" fill="#2a2a2a" >Envelope</text>
<text x="90.00" y="466.80" font-size="8.2" font-weight="bold" text-anchor="start" fill="#1a1a1a"  stroke="#1a1a1a" stroke-width="0.32">In 3d<tspan font-size="5.3" dx="0.8" dy="3.7">3/2</tspan></text>
<text x="193.50" y="418.20" font-size="8.2" font-weight="bold" text-anchor="start" fill="#1a1a1a"  stroke="#1a1a1a" stroke-width="0.32">In 3d<tspan font-size="5.3" dx="0.8" dy="3.7">5/2</tspan></text>
<text x="210.60" y="461.00" font-size="8.5" font-weight="normal" text-anchor="start" fill="#2a2a2a" >In<tspan font-size="58%" dx="0.4" dy="2.6">2</tspan><tspan dx="0.4" dy="-2.6">O</tspan><tspan font-size="58%" dx="0.4" dy="2.6">3</tspan></text>
<line x1="210.00" y1="458.40" x2="192.46" y2="466.38" stroke="#dc2830" stroke-width="1.2" /><polygon points="190.00,467.50 192.25,464.72 193.58,467.63" fill="#dc2830"/>
<text x="227.10" y="499.00" font-size="8.5" font-weight="normal" text-anchor="start" fill="#2a2a2a" >InPO<tspan font-size="58%" dx="0.4" dy="2.6">4</tspan></text>
<line x1="226.60" y1="497.00" x2="188.34" y2="510.69" stroke="#6a2c88" stroke-width="1.2" /><polygon points="185.80,511.60 188.27,509.02 189.35,512.03" fill="#6a2c88"/>
<text x="223.00" y="539.50" font-size="8.5" font-weight="normal" text-anchor="start" fill="#2a2a2a" >InP</text>
<line x1="222.50" y1="537.00" x2="202.27" y2="540.09" stroke="#2626c4" stroke-width="1.2" /><polygon points="199.60,540.50 202.52,538.43 203.01,541.60" fill="#2626c4"/>
<rect x="293.00" y="394.30" width="219.00" height="162.70" fill="none" stroke="#585858" stroke-width="1.25"/>
<line x1="293.00" y1="557.00" x2="293.00" y2="553.80" stroke="#585858" stroke-width="0.9" />
<text x="293.00" y="567.80" font-size="8.5" font-weight="bold" text-anchor="middle" fill="#1a1a1a"  stroke="#1a1a1a" stroke-width="0.32">138</text>
<line x1="311.25" y1="557.00" x2="311.25" y2="555.20" stroke="#585858" stroke-width="0.9" />
<line x1="329.50" y1="557.00" x2="329.50" y2="553.80" stroke="#585858" stroke-width="0.9" />
<text x="329.50" y="567.80" font-size="8.5" font-weight="bold" text-anchor="middle" fill="#1a1a1a"  stroke="#1a1a1a" stroke-width="0.32">136</text>
<line x1="347.75" y1="557.00" x2="347.75" y2="555.20" stroke="#585858" stroke-width="0.9" />
<line x1="366.00" y1="557.00" x2="366.00" y2="553.80" stroke="#585858" stroke-width="0.9" />
<text x="366.00" y="567.80" font-size="8.5" font-weight="bold" text-anchor="middle" fill="#1a1a1a"  stroke="#1a1a1a" stroke-width="0.32">134</text>
<line x1="384.25" y1="557.00" x2="384.25" y2="555.20" stroke="#585858" stroke-width="0.9" />
<line x1="402.50" y1="557.00" x2="402.50" y2="553.80" stroke="#585858" stroke-width="0.9" />
<text x="402.50" y="567.80" font-size="8.5" font-weight="bold" text-anchor="middle" fill="#1a1a1a"  stroke="#1a1a1a" stroke-width="0.32">132</text>
<line x1="420.75" y1="557.00" x2="420.75" y2="555.20" stroke="#585858" stroke-width="0.9" />
<line x1="439.00" y1="557.00" x2="439.00" y2="553.80" stroke="#585858" stroke-width="0.9" />
<text x="439.00" y="567.80" font-size="8.5" font-weight="bold" text-anchor="middle" fill="#1a1a1a"  stroke="#1a1a1a" stroke-width="0.32">130</text>
<line x1="457.25" y1="557.00" x2="457.25" y2="555.20" stroke="#585858" stroke-width="0.9" />
<line x1="475.50" y1="557.00" x2="475.50" y2="553.80" stroke="#585858" stroke-width="0.9" />
<text x="475.50" y="567.80" font-size="8.5" font-weight="bold" text-anchor="middle" fill="#1a1a1a"  stroke="#1a1a1a" stroke-width="0.32">128</text>
<line x1="493.75" y1="557.00" x2="493.75" y2="555.20" stroke="#585858" stroke-width="0.9" />
<line x1="512.00" y1="557.00" x2="512.00" y2="553.80" stroke="#585858" stroke-width="0.9" />
<text x="512.00" y="567.80" font-size="8.5" font-weight="bold" text-anchor="middle" fill="#1a1a1a"  stroke="#1a1a1a" stroke-width="0.32">126</text>
<line x1="293.00" y1="557.00" x2="296.20" y2="557.00" stroke="#585858" stroke-width="0.9" />
<line x1="293.00" y1="546.83" x2="294.80" y2="546.83" stroke="#585858" stroke-width="0.9" />
<line x1="293.00" y1="536.66" x2="296.20" y2="536.66" stroke="#585858" stroke-width="0.9" />
<line x1="293.00" y1="526.49" x2="294.80" y2="526.49" stroke="#585858" stroke-width="0.9" />
<line x1="293.00" y1="516.33" x2="296.20" y2="516.33" stroke="#585858" stroke-width="0.9" />
<line x1="293.00" y1="506.16" x2="294.80" y2="506.16" stroke="#585858" stroke-width="0.9" />
<line x1="293.00" y1="495.99" x2="296.20" y2="495.99" stroke="#585858" stroke-width="0.9" />
<line x1="293.00" y1="485.82" x2="294.80" y2="485.82" stroke="#585858" stroke-width="0.9" />
<line x1="293.00" y1="475.65" x2="296.20" y2="475.65" stroke="#585858" stroke-width="0.9" />
<line x1="293.00" y1="465.48" x2="294.80" y2="465.48" stroke="#585858" stroke-width="0.9" />
<line x1="293.00" y1="455.31" x2="296.20" y2="455.31" stroke="#585858" stroke-width="0.9" />
<line x1="293.00" y1="445.14" x2="294.80" y2="445.14" stroke="#585858" stroke-width="0.9" />
<line x1="293.00" y1="434.98" x2="296.20" y2="434.98" stroke="#585858" stroke-width="0.9" />
<line x1="293.00" y1="424.81" x2="294.80" y2="424.81" stroke="#585858" stroke-width="0.9" />
<line x1="293.00" y1="414.64" x2="296.20" y2="414.64" stroke="#585858" stroke-width="0.9" />
<line x1="293.00" y1="404.47" x2="294.80" y2="404.47" stroke="#585858" stroke-width="0.9" />
<line x1="293.00" y1="394.30" x2="296.20" y2="394.30" stroke="#585858" stroke-width="0.9" />
<text x="289.10" y="560.06" font-size="8.5" font-weight="bold" text-anchor="end" fill="#1a1a1a"  stroke="#1a1a1a" stroke-width="0.32">1.4k</text>
<text x="289.10" y="539.72" font-size="8.5" font-weight="bold" text-anchor="end" fill="#1a1a1a"  stroke="#1a1a1a" stroke-width="0.32">1.6k</text>
<text x="289.10" y="519.38" font-size="8.5" font-weight="bold" text-anchor="end" fill="#1a1a1a"  stroke="#1a1a1a" stroke-width="0.32">1.8k</text>
<text x="289.10" y="499.05" font-size="8.5" font-weight="bold" text-anchor="end" fill="#1a1a1a"  stroke="#1a1a1a" stroke-width="0.32">2.0k</text>
<text x="289.10" y="478.71" font-size="8.5" font-weight="bold" text-anchor="end" fill="#1a1a1a"  stroke="#1a1a1a" stroke-width="0.32">2.2k</text>
<text x="289.10" y="458.37" font-size="8.5" font-weight="bold" text-anchor="end" fill="#1a1a1a"  stroke="#1a1a1a" stroke-width="0.32">2.4k</text>
<text x="289.10" y="438.04" font-size="8.5" font-weight="bold" text-anchor="end" fill="#1a1a1a"  stroke="#1a1a1a" stroke-width="0.32">2.6k</text>
<text x="289.10" y="417.70" font-size="8.5" font-weight="bold" text-anchor="end" fill="#1a1a1a"  stroke="#1a1a1a" stroke-width="0.32">2.8k</text>
<text x="289.10" y="397.36" font-size="8.5" font-weight="bold" text-anchor="end" fill="#1a1a1a"  stroke="#1a1a1a" stroke-width="0.32">3.0k</text>
<polyline points="293.6,541.1 294.6,541.1 295.6,541.1 296.6,541.1 297.6,541.1 298.6,541.1 299.6,541.1 300.6,541.1 301.6,541.1 302.6,541.1 303.6,541.1 304.6,541.1 305.6,541.1 306.6,541.1 307.6,541.1 308.6,541.1 309.6,541.1 310.6,541.1 311.6,541.1 312.6,541.1 313.6,541.1 314.6,541.1 315.6,541.1 316.6,541.1 317.6,541.1 318.6,541.1 319.6,541.1 320.6,541.1 321.6,541.2 322.6,541.2 323.6,541.2 324.6,541.2 325.6,541.2 326.6,541.2 327.6,541.2 328.6,541.2 329.6,541.2 330.6,541.2 331.6,541.2 332.6,541.2 333.6,541.2 334.6,541.2 335.6,541.2 336.6,541.2 337.6,541.2 338.6,541.3 339.6,541.3 340.6,541.3 341.6,541.3 342.6,541.3 343.6,541.3 344.6,541.3 345.6,541.3 346.6,541.3 347.6,541.3 348.5,541.3 349.5,541.3 350.5,541.4 351.5,541.4 352.5,541.4 353.5,541.4 354.5,541.4 355.5,541.4 356.5,541.4 357.5,541.4 358.5,541.4 359.5,541.5 360.5,541.5 361.5,541.5 362.5,541.5 363.5,541.5 364.5,541.5 365.5,541.5 366.5,541.5 367.5,541.6 368.5,541.6 369.5,541.6 370.5,541.6 371.5,541.6 372.5,541.6 373.5,541.6 374.5,541.7 375.5,541.7 376.5,541.7 377.5,541.7 378.5,541.7 379.5,541.7 380.5,541.8 381.5,541.8 382.5,541.8 383.5,541.8 384.5,541.8 385.5,541.8 386.5,541.9 387.5,541.9 388.5,541.9 389.5,541.9 390.5,541.9 391.5,541.9 392.5,542.0 393.5,542.0 394.5,542.0 395.5,542.0 396.5,542.0 397.5,542.1 398.5,542.1 399.5,542.1 400.5,542.1 401.5,542.1 402.5,542.1 403.5,542.2 404.5,542.2 405.5,542.2 406.5,542.2 407.5,542.2 408.5,542.3 409.5,542.3 410.5,542.3 411.5,542.3 412.5,542.3 413.5,542.3 414.5,542.4 415.5,542.4 416.5,542.4 417.5,542.4 418.5,542.4 419.5,542.4 420.5,542.5 421.5,542.5 422.5,542.5 423.5,542.5 424.5,542.5 425.5,542.5 426.5,542.6 427.5,542.6 428.5,542.6 429.5,542.6 430.5,542.6 431.5,542.6 432.5,542.6 433.5,542.7 434.5,542.7 435.5,542.7 436.5,542.7 437.5,542.7 438.5,542.7 439.5,542.7 440.5,542.7 441.5,542.8 442.5,542.8 443.5,542.8 444.5,542.8 445.5,542.8 446.5,542.8 447.5,542.8 448.5,542.8 449.5,542.8 450.5,542.9 451.5,542.9 452.5,542.9 453.5,542.9 454.5,542.9 455.5,542.9 456.5,542.9 457.4,542.9 458.4,542.9 459.4,542.9 460.4,542.9 461.4,542.9 462.4,543.0 463.4,543.0 464.4,543.0 465.4,543.0 466.4,543.0 467.4,543.0 468.4,543.0 469.4,543.0 470.4,543.0 471.4,543.0 472.4,543.0 473.4,543.0 474.4,543.0 475.4,543.0 476.4,543.0 477.4,543.0 478.4,543.0 479.4,543.1 480.4,543.1 481.4,543.1 482.4,543.1 483.4,543.1 484.4,543.1 485.4,543.1 486.4,543.1 487.4,543.1 488.4,543.1 489.4,543.1 490.4,543.1 491.4,543.1 492.4,543.1 493.4,543.1 494.4,543.1 495.4,543.1 496.4,543.1 497.4,543.1 498.4,543.1 499.4,543.1 500.4,543.1 501.4,543.1 502.4,543.1 503.4,543.1 504.4,543.1 505.4,543.1 506.4,543.1 507.4,543.1 508.4,543.1 509.4,543.1 510.4,543.1 511.4,543.1" fill="none" stroke="#9eecf0" stroke-width="1.0" stroke-linejoin="round" stroke-linecap="round" />
<polyline points="293.6,540.9 294.1,540.9 294.6,540.9 295.1,540.9 295.6,540.9 296.1,540.9 296.6,540.9 297.1,540.9 297.6,540.9 298.1,540.9 298.6,540.9 299.1,540.9 299.6,540.9 300.1,540.9 300.6,540.9 301.1,540.9 301.6,540.9 302.1,540.9 302.6,540.9 303.1,540.9 303.6,540.9 304.1,540.8 304.6,540.8 305.1,540.8 305.6,540.8 306.1,540.8 306.6,540.8 307.1,540.8 307.6,540.8 308.1,540.8 308.6,540.8 309.1,540.8 309.6,540.8 310.1,540.8 310.6,540.8 311.1,540.8 311.6,540.8 312.1,540.8 312.6,540.8 313.1,540.8 313.6,540.8 314.1,540.8 314.6,540.8 315.1,540.8 315.6,540.8 316.1,540.8 316.6,540.8 317.1,540.8 317.6,540.8 318.1,540.8 318.6,540.7 319.1,540.7 319.6,540.7 320.1,540.7 320.6,540.7 321.1,540.7 321.6,540.7 322.1,540.7 322.6,540.7 323.1,540.7 323.6,540.7 324.1,540.7 324.6,540.7 325.1,540.6 325.6,540.6 326.1,540.6 326.6,540.6 327.1,540.6 327.6,540.6 328.1,540.5 328.6,540.5 329.1,540.5 329.6,540.5 330.1,540.4 330.6,540.4 331.1,540.4 331.6,540.3 332.1,540.3 332.6,540.2 333.1,540.2 333.6,540.1 334.1,540.0 334.6,539.9 335.1,539.9 335.6,539.7 336.1,539.6 336.6,539.5 337.1,539.4 337.6,539.2 338.1,539.0 338.6,538.8 339.1,538.6 339.6,538.4 340.1,538.1 340.6,537.8 341.1,537.5 341.6,537.1 342.1,536.8 342.6,536.3 343.1,535.9 343.6,535.4 344.1,534.8 344.6,534.2 345.1,533.6 345.6,532.9 346.1,532.2 346.6,531.4 347.1,530.6 347.6,529.7 348.1,528.7 348.6,527.7 349.1,526.6 349.6,525.5 350.1,524.3 350.6,523.0 351.1,521.7 351.6,520.3 352.1,518.9 352.6,517.4 353.1,515.8 353.6,514.2 354.1,512.6 354.6,510.9 355.1,509.2 355.6,507.4 356.1,505.7 356.6,503.9 357.1,502.0 357.6,500.2 358.1,498.4 358.6,496.6 359.1,494.8 359.6,493.0 360.1,491.3 360.6,489.6 361.1,487.9 361.6,486.4 362.1,484.9 362.6,483.4 363.1,482.1 363.6,480.9 364.1,479.7 364.6,478.7 365.1,477.8 365.6,477.1 366.1,476.4 366.6,475.9 367.0,475.6 367.5,475.4 368.0,475.3 368.5,475.4 369.0,475.7 369.5,476.0 370.0,476.6 370.5,477.2 371.0,478.0 371.5,479.0 372.0,480.0 372.5,481.2 373.0,482.5 373.5,483.8 374.0,485.3 374.5,486.8 375.0,488.4 375.5,490.1 376.0,491.8 376.5,493.6 377.0,495.3 377.5,497.2 378.0,499.0 378.5,500.8 379.0,502.7 379.5,504.5 380.0,506.3 380.5,508.1 381.0,509.9 381.5,511.6 382.0,513.3 382.5,514.9 383.0,516.5 383.5,518.1 384.0,519.6 384.5,521.0 385.0,522.4 385.5,523.7 386.0,525.0 386.5,526.2 387.0,527.3 387.5,528.4 388.0,529.4 388.5,530.4 389.0,531.3 389.5,532.1 390.0,532.9 390.5,533.7 391.0,534.4 391.5,535.0 392.0,535.6 392.5,536.1 393.0,536.6 393.5,537.1 394.0,537.5 394.5,537.9 395.0,538.3 395.5,538.6 396.0,538.9 396.5,539.2 397.0,539.4 397.5,539.7 398.0,539.9 398.5,540.1 399.0,540.2 399.5,540.4 400.0,540.5 400.5,540.6 401.0,540.8 401.5,540.9 402.0,541.0 402.5,541.0 403.0,541.1 403.5,541.2 404.0,541.3 404.5,541.3 405.0,541.4 405.5,541.4 406.0,541.5 406.5,541.5 407.0,541.5 407.5,541.6 408.0,541.6 408.5,541.6 409.0,541.7 409.5,541.7 410.0,541.7 410.5,541.8 411.0,541.8 411.5,541.8 412.0,541.8 412.5,541.8 413.0,541.9 413.5,541.9 414.0,541.9 414.5,541.9 415.0,541.9 415.5,542.0 416.0,542.0 416.5,542.0 417.0,542.0 417.5,542.0 418.0,542.0 418.5,542.1 419.0,542.1 419.5,542.1 420.0,542.1 420.5,542.1 421.0,542.1 421.5,542.1 422.0,542.2 422.5,542.2 423.0,542.2 423.5,542.2 424.0,542.2 424.5,542.2 425.0,542.2 425.5,542.2 426.0,542.3 426.5,542.3 427.0,542.3 427.5,542.3 428.0,542.3 428.5,542.3 429.0,542.3 429.5,542.3 430.0,542.4 430.5,542.4 431.0,542.4 431.5,542.4 432.0,542.4 432.5,542.4 433.0,542.4 433.5,542.4 434.0,542.4 434.5,542.5 435.0,542.5 435.5,542.5 436.0,542.5 436.5,542.5 437.0,542.5 437.5,542.5 438.0,542.5 438.5,542.5 439.0,542.5 439.5,542.5 440.0,542.6" fill="none" stroke="#6a2c88" stroke-width="1.1" stroke-linejoin="round" stroke-linecap="round" />
<polyline points="293.6,540.8 294.1,540.8 294.6,540.8 295.1,540.8 295.6,540.8 296.1,540.8 296.6,540.8 297.1,540.8 297.6,540.8 298.1,540.8 298.6,540.8 299.1,540.8 299.6,540.7 300.1,540.7 300.6,540.7 301.1,540.7 301.6,540.7 302.1,540.7 302.6,540.7 303.1,540.7 303.6,540.7 304.1,540.7 304.6,540.7 305.1,540.7 305.6,540.7 306.1,540.7 306.6,540.7 307.1,540.7 307.6,540.7 308.1,540.7 308.6,540.7 309.1,540.7 309.6,540.7 310.1,540.7 310.6,540.7 311.1,540.7 311.6,540.7 312.1,540.7 312.6,540.7 313.1,540.7 313.6,540.6 314.1,540.6 314.6,540.6 315.1,540.6 315.6,540.6 316.1,540.6 316.6,540.6 317.1,540.6 317.6,540.6 318.1,540.6 318.6,540.6 319.1,540.6 319.6,540.6 320.1,540.6 320.6,540.6 321.1,540.6 321.6,540.6 322.1,540.5 322.6,540.5 323.1,540.5 323.6,540.5 324.1,540.5 324.6,540.5 325.1,540.5 325.6,540.5 326.1,540.5 326.6,540.5 327.1,540.5 327.6,540.4 328.1,540.4 328.6,540.4 329.1,540.4 329.6,540.4 330.1,540.4 330.6,540.4 331.1,540.4 331.6,540.4 332.1,540.3 332.6,540.3 333.1,540.3 333.6,540.3 334.1,540.3 334.6,540.3 335.1,540.2 335.6,540.2 336.1,540.2 336.6,540.2 337.1,540.1 337.6,540.1 338.1,540.1 338.6,540.0 339.1,540.0 339.6,540.0 340.1,539.9 340.6,539.9 341.1,539.8 341.6,539.8 342.1,539.7 342.6,539.7 343.1,539.6 343.6,539.5 344.1,539.5 344.6,539.4 345.1,539.3 345.6,539.2 346.1,539.1 346.6,539.0 347.1,538.8 347.6,538.7 348.1,538.5 348.6,538.4 349.1,538.2 349.6,538.0 350.1,537.8 350.6,537.5 351.1,537.3 351.6,537.0 352.1,536.7 352.6,536.4 353.1,536.0 353.6,535.6 354.1,535.2 354.6,534.8 355.1,534.3 355.6,533.8 356.1,533.3 356.6,532.7 357.1,532.1 357.6,531.5 358.1,530.8 358.6,530.1 359.1,529.3 359.6,528.5 360.1,527.7 360.6,526.8 361.1,525.9 361.6,524.9 362.1,523.9 362.6,522.8 363.1,521.7 363.6,520.6 364.1,519.4 364.6,518.2 365.1,517.0 365.6,515.7 366.1,514.4 366.6,513.0 367.1,511.7 367.6,510.3 368.1,508.9 368.6,507.5 369.1,506.0 369.6,504.6 370.1,503.2 370.6,501.7 371.1,500.3 371.6,498.9 372.0,497.5 372.5,496.1 373.0,494.8 373.5,493.5 374.0,492.2 374.5,491.0 375.0,489.9 375.5,488.8 376.0,487.8 376.5,486.9 377.0,486.0 377.5,485.3 378.0,484.6 378.5,484.0 379.0,483.6 379.5,483.2 380.0,482.9 380.5,482.8 381.0,482.8 381.5,482.9 382.0,483.1 382.5,483.4 383.0,483.8 383.5,484.3 384.0,484.9 384.5,485.6 385.0,486.5 385.5,487.4 386.0,488.3 386.5,489.4 387.0,490.5 387.5,491.7 388.0,492.9 388.5,494.2 389.0,495.5 389.5,496.9 390.0,498.3 390.5,499.7 391.0,501.1 391.5,502.6 392.0,504.1 392.5,505.5 393.0,507.0 393.5,508.4 394.0,509.8 394.5,511.3 395.0,512.6 395.5,514.0 396.0,515.4 396.5,516.7 397.0,518.0 397.5,519.2 398.0,520.4 398.5,521.6 399.0,522.7 399.5,523.8 400.0,524.9 400.5,525.9 401.0,526.9 401.5,527.8 402.0,528.7 402.5,529.5 403.0,530.3 403.5,531.1 404.0,531.8 404.5,532.5 405.0,533.1 405.5,533.7 406.0,534.3 406.5,534.8 407.0,535.3 407.5,535.8 408.0,536.2 408.5,536.6 409.0,537.0 409.5,537.4 410.0,537.7 410.5,538.0 411.0,538.3 411.5,538.6 412.0,538.8 412.5,539.0 413.0,539.2 413.5,539.4 414.0,539.6 414.5,539.8 415.0,539.9 415.5,540.1 416.0,540.2 416.5,540.3 417.0,540.4 417.5,540.5 418.0,540.6 418.5,540.7 419.0,540.8 419.5,540.9 420.0,540.9 420.5,541.0 421.0,541.1 421.5,541.1 422.0,541.2 422.5,541.2 423.0,541.3 423.5,541.3 424.0,541.4 424.5,541.4 425.0,541.4 425.5,541.5 426.0,541.5 426.5,541.5 427.0,541.6 427.5,541.6 428.0,541.6 428.5,541.7 429.0,541.7 429.5,541.7 430.0,541.7 430.5,541.8 431.0,541.8 431.5,541.8 432.0,541.8 432.5,541.9 433.0,541.9 433.5,541.9 434.0,541.9 434.5,541.9 435.0,542.0 435.5,542.0 436.0,542.0 436.5,542.0 437.0,542.0 437.5,542.1 438.0,542.1 438.5,542.1 439.0,542.1 439.5,542.1 440.0,542.1 440.5,542.2 441.0,542.2 441.5,542.2 442.0,542.2 442.5,542.2 443.0,542.2 443.5,542.2 444.0,542.3 444.5,542.3 445.0,542.3 445.5,542.3 446.0,542.3 446.5,542.3 447.0,542.3 447.5,542.3 448.0,542.4 448.5,542.4 449.0,542.4 449.5,542.4 450.0,542.4" fill="none" stroke="#a4ea62" stroke-width="1.1" stroke-linejoin="round" stroke-linecap="round" />
<polyline points="380.0,541.7 380.5,541.7 381.0,541.8 381.5,541.8 382.0,541.8 382.5,541.8 383.0,541.8 383.5,541.8 384.0,541.8 384.5,541.8 385.0,541.8 385.5,541.8 386.0,541.8 386.5,541.8 387.0,541.8 387.5,541.8 388.0,541.8 388.5,541.8 389.0,541.8 389.5,541.8 390.0,541.8 390.5,541.8 391.0,541.8 391.5,541.8 392.0,541.8 392.5,541.8 393.0,541.8 393.5,541.8 394.0,541.8 394.5,541.8 395.0,541.8 395.5,541.8 396.0,541.8 396.5,541.8 397.0,541.8 397.5,541.7 398.0,541.7 398.5,541.7 399.0,541.7 399.5,541.6 400.0,541.6 400.5,541.6 401.0,541.5 401.5,541.5 402.0,541.4 402.5,541.4 403.0,541.3 403.5,541.3 404.0,541.2 404.5,541.1 405.0,541.0 405.5,541.0 406.0,540.9 406.5,540.8 407.0,540.7 407.5,540.6 408.0,540.4 408.5,540.3 409.0,540.2 409.5,540.1 410.0,539.9 410.5,539.8 411.0,539.6 411.5,539.4 412.0,539.3 412.5,539.1 413.0,538.9 413.5,538.7 414.0,538.5 414.5,538.3 415.0,538.0 415.5,537.8 416.0,537.6 416.5,537.3 417.0,537.1 417.5,536.8 418.0,536.5 418.5,536.3 419.0,536.0 419.5,535.7 420.0,535.4 420.5,535.1 421.0,534.8 421.5,534.5 422.0,534.3 422.5,534.0 423.0,533.7 423.5,533.4 424.0,533.1 424.5,532.8 425.0,532.5 425.5,532.2 426.0,532.0 426.5,531.7 427.0,531.5 427.5,531.2 428.0,531.0 428.5,530.8 429.0,530.6 429.5,530.4 430.0,530.3 430.5,530.1 431.0,530.0 431.5,529.9 432.0,529.8 432.5,529.8 433.0,529.8 433.5,529.8 434.0,529.8 434.5,529.9 435.0,530.0 435.5,530.2 436.0,530.3 436.5,530.5 437.0,530.7 437.5,530.9 438.0,531.1 438.5,531.4 439.0,531.6 439.5,531.9 440.0,532.2 440.5,532.5 441.0,532.7 441.5,533.0 442.0,533.3 442.5,533.6 443.0,533.9 443.5,534.2 444.0,534.6 444.5,534.9 445.0,535.2 445.5,535.5 446.0,535.8 446.5,536.1 447.0,536.4 447.5,536.7 448.0,536.9 448.5,537.2 449.0,537.5 449.5,537.8 450.0,538.0 450.5,538.3 451.0,538.5 451.5,538.8 452.0,539.0 452.5,539.2 453.0,539.4 453.5,539.6 454.0,539.8 454.5,540.0 455.0,540.2 455.5,540.4 456.0,540.5 456.5,540.7 457.0,540.8 457.5,541.0 458.0,541.1 458.5,541.2 459.0,541.4 459.5,541.5 460.0,541.6 460.5,541.7 461.0,541.8 461.5,541.9 462.0,542.0 462.5,542.0 463.0,542.1 463.5,542.2 464.0,542.3 464.5,542.3 465.0,542.4 465.5,542.4 466.0,542.5 466.5,542.5 467.0,542.6 467.5,542.6 468.0,542.6 468.5,542.7 469.0,542.7 469.5,542.7 470.0,542.8 470.5,542.8 471.0,542.8 471.5,542.8 472.0,542.9 472.5,542.9 473.0,542.9 473.5,542.9 474.0,542.9 474.5,542.9 475.0,542.9 475.5,543.0 476.0,543.0 476.5,543.0 477.0,543.0 477.5,543.0 478.0,543.0 478.5,543.0 479.0,543.0 479.5,543.0 480.0,543.0" fill="none" stroke="#ece46a" stroke-width="1.1" stroke-linejoin="round" stroke-linecap="round" />
<polyline points="420.0,543.2 420.5,543.2 421.0,543.2 421.5,543.2 422.0,543.2 422.5,543.2 423.0,543.2 423.5,543.2 424.0,543.2 424.5,543.2 425.0,543.2 425.5,543.2 426.0,543.2 426.5,543.1 427.0,543.1 427.5,543.1 428.0,543.1 428.5,543.0 429.0,543.0 429.5,542.9 430.0,542.8 430.5,542.7 431.0,542.6 431.5,542.4 432.0,542.2 432.5,541.9 433.0,541.6 433.5,541.2 434.0,540.8 434.5,540.2 435.0,539.6 435.5,538.9 436.0,538.0 436.5,537.0 437.0,535.9 437.5,534.7 438.0,533.3 438.5,531.8 439.0,530.1 439.5,528.2 440.0,526.3 440.5,524.2 441.0,522.1 441.5,519.9 442.0,517.6 442.5,515.3 443.0,513.1 443.5,511.0 444.0,509.0 444.5,507.2 445.0,505.6 445.5,504.3 446.0,503.4 446.5,502.8 447.0,502.8 447.5,503.2 448.0,504.1 448.5,505.3 449.0,506.9 449.5,508.6 450.0,510.6 450.5,512.7 451.0,514.9 451.5,517.1 452.0,519.4 452.5,521.6 453.0,523.8 453.5,525.9 454.0,527.9 454.5,529.7 455.0,531.4 455.5,533.0 456.0,534.4 456.5,535.7 457.0,536.8 457.5,537.8 458.0,538.7 458.5,539.5 459.0,540.1 459.5,540.7 460.0,541.1 460.5,541.5 461.0,541.9 461.5,542.1 462.0,542.4 462.5,542.5 463.0,542.7 463.5,542.8 464.0,542.9 464.5,543.0 465.0,543.0 465.5,543.1 466.0,543.1 466.5,543.1 467.0,543.1 467.5,543.2 468.0,543.2 468.5,543.2 469.0,543.2 469.5,543.2 470.0,543.2 470.5,543.2 471.0,543.2 471.5,543.2 472.0,543.2 472.5,543.2 473.0,543.2 473.5,543.2 474.0,543.2 474.5,543.2 475.0,543.2" fill="none" stroke="#2626c4" stroke-width="1.1" stroke-linejoin="round" stroke-linecap="round" />
<polyline points="435.0,543.2 435.5,543.2 436.0,543.2 436.5,543.1 437.0,543.1 437.5,543.1 438.0,543.1 438.5,543.1 439.0,543.0 439.5,543.0 440.0,542.9 440.5,542.8 441.0,542.7 441.5,542.6 442.0,542.5 442.5,542.3 443.0,542.1 443.5,541.9 444.0,541.6 444.5,541.3 445.0,540.9 445.5,540.4 446.0,539.8 446.5,539.2 447.0,538.4 447.5,537.5 448.0,536.5 448.5,535.4 449.0,534.1 449.5,532.6 450.0,530.9 450.5,529.0 451.0,526.9 451.5,524.6 452.0,522.1 452.5,519.4 453.0,516.4 453.5,513.2 454.0,509.8 454.5,506.2 455.0,502.4 455.5,498.5 456.0,494.5 456.5,490.4 457.0,486.3 457.5,482.2 458.0,478.3 458.5,474.5 459.0,470.9 459.5,467.7 460.0,464.9 460.5,462.6 461.0,461.0 461.5,460.1 462.0,460.5 462.5,461.9 463.0,463.9 463.5,466.5 464.0,469.6 464.5,473.0 465.0,476.7 465.5,480.6 466.0,484.6 466.5,488.7 467.0,492.9 467.5,496.9 468.0,500.9 468.5,504.7 469.0,508.4 469.5,511.9 470.0,515.1 470.5,518.2 471.0,521.0 471.5,523.7 472.0,526.0 472.5,528.2 473.0,530.2 473.5,531.9 474.0,533.5 474.5,534.9 475.0,536.1 475.5,537.2 476.0,538.1 476.5,538.9 477.0,539.6 477.5,540.2 478.0,540.7 478.5,541.1 479.0,541.5 479.5,541.8 480.0,542.1 480.5,542.3 481.0,542.4 481.5,542.6 482.0,542.7 482.5,542.8 483.0,542.9 483.5,543.0 484.0,543.0 484.5,543.0 485.0,543.1 485.5,543.1 486.0,543.1 486.5,543.1 487.0,543.2 487.5,543.2 488.0,543.2 488.5,543.2 489.0,543.2 489.5,543.2 490.0,543.2" fill="none" stroke="#2626c4" stroke-width="1.1" stroke-linejoin="round" stroke-linecap="round" />
<polyline points="293.6,539.9 294.1,539.9 294.6,539.9 295.1,539.9 295.6,539.9 296.1,539.9 296.6,539.9 297.1,539.9 297.6,539.9 298.1,540.0 298.6,540.0 299.1,540.0 299.6,540.0 300.1,540.0 300.6,540.0 301.1,540.0 301.6,540.0 302.1,540.0 302.6,540.0 303.1,540.0 303.6,540.0 304.1,540.0 304.6,540.0 305.1,540.0 305.6,540.0 306.1,540.0 306.6,540.0 307.1,540.0 307.6,540.0 308.1,540.0 308.6,540.0 309.1,540.0 309.6,540.0 310.1,540.0 310.6,540.0 311.1,540.0 311.6,540.0 312.1,540.0 312.6,540.0 313.1,540.0 313.6,540.0 314.1,540.0 314.6,540.0 315.1,540.0 315.6,540.0 316.1,540.0 316.6,540.0 317.1,540.0 317.6,540.0 318.1,539.9 318.6,539.9 319.1,539.9 319.6,539.9 320.1,539.9 320.6,539.9 321.1,539.8 321.6,539.8 322.1,539.8 322.6,539.8 323.1,539.7 323.6,539.7 324.1,539.6 324.6,539.6 325.1,539.5 325.6,539.5 326.1,539.4 326.6,539.3 327.1,539.2 327.6,539.1 328.1,539.0 328.6,538.9 329.1,538.8 329.6,538.7 330.1,538.5 330.6,538.4 331.1,538.2 331.6,538.0 332.1,537.8 332.6,537.6 333.1,537.3 333.6,537.1 334.1,536.8 334.6,536.5 335.1,536.2 335.6,535.8 336.1,535.4 336.6,535.0 337.1,534.6 337.6,534.2 338.1,533.7 338.6,533.2 339.1,532.7 339.6,532.1 340.1,531.5 340.6,530.9 341.1,530.3 341.6,529.6 342.1,528.9 342.6,528.1 343.1,527.3 343.6,526.5 344.1,525.7 344.6,524.8 345.1,523.9 345.6,522.9 346.1,521.9 346.6,520.9 347.1,519.9 347.6,518.8 348.1,517.7 348.5,516.5 349.0,515.3 349.5,514.1 350.0,512.8 350.5,511.4 351.0,510.0 351.5,508.5 352.0,507.0 352.5,505.3 353.0,503.6 353.5,501.8 354.0,499.8 354.5,497.8 355.0,495.6 355.5,493.3 356.0,490.9 356.5,488.4 357.0,485.7 357.5,483.0 358.0,480.1 358.5,477.2 359.0,474.2 359.5,471.1 360.0,468.0 360.5,465.0 361.0,461.9 361.5,458.9 362.0,456.0 362.5,453.1 363.0,450.4 363.5,447.9 364.0,445.4 364.5,443.2 365.0,441.1 365.5,439.2 366.0,437.5 366.5,435.9 367.0,434.6 367.5,433.4 368.0,432.4 368.5,431.6 369.0,430.9 369.5,430.3 370.0,429.9 370.5,429.6 371.0,429.4 371.5,429.2 372.0,429.2 372.5,429.1 373.0,429.1 373.5,429.2 374.0,429.3 374.5,429.5 375.0,429.8 375.5,430.2 376.0,430.7 376.5,431.4 377.0,432.2 377.5,433.2 378.0,434.4 378.5,435.8 379.0,437.3 379.5,439.1 380.0,441.0 380.5,443.1 381.0,445.4 381.5,447.8 382.0,450.4 382.5,453.0 383.0,455.8 383.5,458.7 384.0,461.6 384.5,464.5 385.0,467.4 385.5,470.4 386.0,473.3 386.5,476.1 387.0,478.8 387.5,481.5 388.0,484.1 388.5,486.6 389.0,488.9 389.5,491.2 390.0,493.3 390.5,495.3 391.0,497.3 391.5,499.1 392.0,500.9 392.5,502.5 393.0,504.1 393.5,505.7 394.0,507.2 394.5,508.6 395.0,510.0 395.5,511.3 396.0,512.7 396.5,513.9 397.0,515.2 397.5,516.4 398.0,517.6 398.5,518.7 399.0,519.9 399.5,521.0 400.0,522.0 400.5,523.0 401.0,524.0 401.5,524.9 402.0,525.9 402.5,526.7 403.0,527.6 403.5,528.3 404.0,529.1 404.5,529.8 405.0,530.5 405.5,531.1 406.0,531.7 406.5,532.2 407.0,532.7 407.5,533.2 408.0,533.6 408.5,534.0 409.0,534.3 409.5,534.7 410.0,534.9 410.5,535.2 411.0,535.4 411.5,535.6 412.0,535.7 412.5,535.8 413.0,535.9 413.5,536.0 414.0,536.0 414.5,536.0 415.0,536.0 415.5,535.9 416.0,535.9 416.5,535.8 417.0,535.7 417.5,535.6 418.0,535.5 418.5,535.4 419.0,535.2 419.5,535.1 420.0,534.9 420.5,534.8 421.0,534.6 421.5,534.5 422.0,534.3 422.5,534.1 423.0,534.0 423.5,533.8 424.0,533.6 424.5,533.4 425.0,533.3 425.5,533.1 426.0,532.9 426.5,532.8 427.0,532.6 427.5,532.4 428.0,532.2 428.5,532.0 429.0,531.8 429.5,531.6 430.0,531.3 430.5,531.0 431.0,530.7 431.5,530.4 432.0,530.0 432.5,529.5 433.0,529.0 433.5,528.4 434.0,527.8 434.5,527.1 435.0,526.4 435.5,525.5 436.0,524.6 436.5,523.6 437.0,522.5 437.5,521.3 438.0,520.0 438.5,518.6 439.0,517.1 439.5,515.5 440.0,513.8 440.5,512.1 441.0,510.3 441.5,508.4 442.0,506.5 442.5,504.5 443.0,502.6 443.5,500.6 444.0,498.7 444.5,496.9 445.0,495.1 445.5,493.5 446.0,492.1 446.5,490.8 447.0,489.8 447.5,489.1 448.0,489.0 448.5,489.3 449.0,489.8 449.5,490.4 450.0,491.2 450.5,492.0 451.0,492.8 451.5,493.5 452.0,494.1 452.5,494.6 453.0,495.0 453.5,495.1 454.0,495.0 454.5,494.6 455.0,494.0 455.5,493.0 456.0,491.6 456.5,490.0 456.9,488.0 457.4,485.6 457.9,482.9 458.4,479.9 458.9,476.5 459.4,473.0 459.9,469.3 460.4,465.5 460.9,461.9 461.4,458.8 461.9,459.6 462.4,464.1 462.9,469.1 463.4,474.2 463.9,479.3 464.4,484.3 464.9,489.2 465.4,493.8 465.9,498.1 466.4,502.2 466.9,506.0 467.4,509.6 467.9,512.9 468.4,515.9 468.9,518.7 469.4,521.3 469.9,523.6 470.4,525.7 470.9,527.6 471.4,529.4 471.9,531.0 472.4,532.4 472.9,533.7 473.4,534.8 473.9,535.8 474.4,536.8 474.9,537.6 475.4,538.3 475.9,539.0 476.4,539.6 476.9,540.1 477.4,540.5 477.9,540.9 478.4,541.3 478.9,541.6 479.4,541.9 479.9,542.1 480.4,542.4 480.9,542.5 481.4,542.7 481.9,542.9 482.4,543.0 482.9,543.1 483.4,543.2 483.9,543.3 484.4,543.4 484.9,543.4 485.4,543.5 485.9,543.5 486.4,543.6 486.9,543.6 487.4,543.6 487.9,543.7 488.4,543.7 488.9,543.7 489.4,543.7 489.9,543.7 490.4,543.8 490.9,543.8 491.4,543.8 491.9,543.8 492.4,543.8 492.9,543.8 493.4,543.8 493.9,543.8 494.4,543.8 494.9,543.8 495.4,543.8 495.9,543.8 496.4,543.8 496.9,543.8 497.4,543.8 497.9,543.8 498.4,543.8 498.9,543.8 499.4,543.8 499.9,543.8 500.4,543.8 500.9,543.8 501.4,543.8 501.9,543.8 502.4,543.8 502.9,543.8 503.4,543.8 503.9,543.8 504.4,543.8 504.9,543.8 505.4,544.2 505.9,544.8 506.4,545.4 506.9,546.0 507.4,546.6 507.9,545.0 508.4,542.0 508.9,539.1 509.4,536.1 509.9,533.1 510.4,530.5 510.9,528.1 511.4,525.7" fill="none" stroke="#151515" stroke-width="1.3" stroke-linejoin="round" stroke-linecap="round" />
<text x="0" y="0" font-size="8.5" font-weight="bold" text-anchor="middle" fill="#1a1a1a" stroke="#1a1a1a" stroke-width="0.32" transform="translate(269.20,478.30) rotate(-90)">Intensity(CPS)</text>
<text x="402.50" y="579.80" font-size="8.4" font-weight="bold" text-anchor="middle" fill="#1a1a1a"  stroke="#1a1a1a" stroke-width="0.32">Binding Energy (eV)</text>
<text x="299.00" y="403.50" font-size="8.3" font-weight="bold" text-anchor="start" fill="#1a1a1a"  stroke="#1a1a1a" stroke-width="0.32">(f)</text>
<text x="369.40" y="406.00" font-size="8.2" font-weight="bold" text-anchor="start" fill="#1a1a1a"  stroke="#1a1a1a" stroke-width="0.32">P 2p:de-bonded InP</text>
<line x1="293.50" y1="418.30" x2="312.20" y2="418.30" stroke="#ece46a" stroke-width="1.3" />
<text x="314.60" y="421.30" font-size="8.3" font-weight="normal" text-anchor="start" fill="#2a2a2a" >P-In-O-Al : 6.1%</text>
<line x1="293.50" y1="428.80" x2="312.20" y2="428.80" stroke="#9eecf0" stroke-width="1.3" />
<text x="314.60" y="431.80" font-size="8.3" font-weight="normal" text-anchor="start" fill="#2a2a2a" >Background</text>
<line x1="293.50" y1="438.60" x2="312.20" y2="438.60" stroke="#151515" stroke-width="1.3" />
<text x="314.60" y="441.60" font-size="8.3" font-weight="normal" text-anchor="start" fill="#2a2a2a" >Envelope</text>
<text x="381.00" y="433.80" font-size="8.3" font-weight="bold" text-anchor="start" fill="#1a1a1a"  stroke="#1a1a1a" stroke-width="0.32">-PO<tspan font-size="6" dy="-4.6">3-</tspan><tspan font-size="6" x="395.8" dy="7.5">4</tspan></text>
<text x="309.00" y="460.50" font-size="8.3" font-weight="normal" text-anchor="start" fill="#2a2a2a" >InPO<tspan font-size="58%" dx="0.4" dy="2.6">4</tspan><tspan dx="0.3" dy="-2.6">: 34.8%</tspan></text>
<text x="316.30" y="472.80" font-size="8.3" font-weight="normal" text-anchor="start" fill="#2a2a2a" >133.9 eV</text>
<line x1="320.80" y1="477.50" x2="367.00" y2="477.50" stroke="#6a2c88" stroke-width="1.0" stroke-dasharray="4,1.5,1,1.5"/>
<text x="386.00" y="465.50" font-size="8.3" font-weight="normal" text-anchor="start" fill="#2a2a2a" >AlPO<tspan font-size="58%" dx="0.4" dy="2.6">4</tspan><tspan dx="0.3" dy="-2.6">: 30.4%</tspan></text>
<text x="394.00" y="477.80" font-size="8.3" font-weight="normal" text-anchor="start" fill="#2a2a2a" >133.3 eV</text>
<line x1="380.80" y1="483.00" x2="425.40" y2="483.00" stroke="#c8e040" stroke-width="1.0" stroke-dasharray="4,1.5,1,1.5"/>
<line x1="367.50" y1="467.00" x2="367.50" y2="494.00" stroke="#151515" stroke-width="0.9" stroke-dasharray="4,1.5,1,1.5"/>
<polygon points="367.50,461.50 365.80,466.50 369.20,466.50" fill="#151515"/>
<line x1="379.20" y1="467.00" x2="379.20" y2="494.00" stroke="#151515" stroke-width="0.9" stroke-dasharray="4,1.5,1,1.5"/>
<polygon points="379.20,461.50 377.50,466.50 380.90,466.50" fill="#151515"/>
<text x="400.00" y="517.80" font-size="8.3" font-weight="normal" text-anchor="start" fill="#2a2a2a" >130.3 eV</text>
<line x1="408.50" y1="523.00" x2="433.00" y2="523.00" stroke="#ece46a" stroke-width="1.0" stroke-dasharray="4,1.5,1,1.5"/>
<line x1="433.00" y1="509.00" x2="433.00" y2="540.00" stroke="#151515" stroke-width="0.9" stroke-dasharray="4,1.5,1,1.5"/>
<polygon points="433.00,503.50 431.30,508.50 434.70,508.50" fill="#151515"/>
<line x1="461.90" y1="422.00" x2="461.90" y2="506.00" stroke="#151515" stroke-width="0.9" stroke-dasharray="4,1.5,1,1.5"/>
<polygon points="461.90,416.50 460.20,421.50 463.60,421.50" fill="#151515"/>
<line x1="446.70" y1="451.80" x2="446.70" y2="502.50" stroke="#151515" stroke-width="0.9" stroke-dasharray="4,1.5,1,1.5"/>
<line x1="446.70" y1="451.80" x2="461.90" y2="451.80" stroke="#151515" stroke-width="0.9" stroke-dasharray="4,1.5,1,1.5"/>
<line x1="461.30" y1="435.00" x2="512.00" y2="435.00" stroke="#2626c4" stroke-width="1.0" stroke-dasharray="4,1.5,1,1.5"/>
<text x="466.80" y="430.50" font-size="8.3" font-weight="normal" text-anchor="start" fill="#2a2a2a" >InP : 28.7%</text>
</svg></body></html>
